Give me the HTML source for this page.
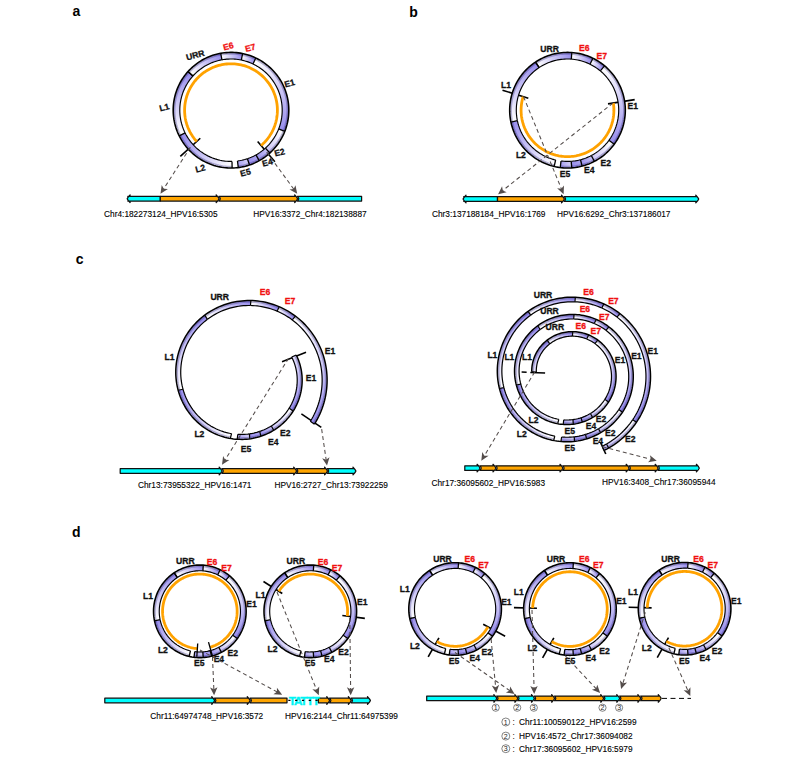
<!DOCTYPE html>
<html><head><meta charset="utf-8"><style>
html,body{margin:0;padding:0;background:#fff;}
svg{display:block;font-family:"Liberation Sans",sans-serif;}
</style></head><body>
<svg width="799" height="771" viewBox="0 0 799 771">
<defs><linearGradient id="g1" gradientUnits="userSpaceOnUse" x1="190.45" y1="73.78" x2="221.33" y2="56.56"><stop offset="0" stop-color="#ffffff"/><stop offset="1" stop-color="#988eec"/></linearGradient>
<linearGradient id="g2" gradientUnits="userSpaceOnUse" x1="221.33" y1="56.56" x2="241.96" y2="56.81"><stop offset="0" stop-color="#ffffff"/><stop offset="1" stop-color="#988eec"/></linearGradient>
<linearGradient id="g3" gradientUnits="userSpaceOnUse" x1="241.96" y1="56.81" x2="254.38" y2="60.97"><stop offset="0" stop-color="#ffffff"/><stop offset="1" stop-color="#988eec"/></linearGradient>
<linearGradient id="g4" gradientUnits="userSpaceOnUse" x1="254.38" y1="60.97" x2="281.71" y2="130.16"><stop offset="0" stop-color="#ffffff"/><stop offset="1" stop-color="#988eec"/></linearGradient>
<linearGradient id="g5" gradientUnits="userSpaceOnUse" x1="281.71" y1="130.16" x2="267.64" y2="150.55"><stop offset="0" stop-color="#ffffff"/><stop offset="1" stop-color="#ccc6f6"/></linearGradient>
<linearGradient id="g6" gradientUnits="userSpaceOnUse" x1="267.64" y1="150.55" x2="257.56" y2="157.79"><stop offset="0" stop-color="#c6c1f5"/><stop offset="1" stop-color="#9d94ed"/></linearGradient>
<linearGradient id="g7" gradientUnits="userSpaceOnUse" x1="257.56" y1="157.79" x2="248.47" y2="161.83"><stop offset="0" stop-color="#ada5f0"/><stop offset="1" stop-color="#988eec"/></linearGradient>
<linearGradient id="g8" gradientUnits="userSpaceOnUse" x1="248.47" y1="161.83" x2="237.89" y2="164.26"><stop offset="0" stop-color="#d6d2f7"/><stop offset="1" stop-color="#a79fef"/></linearGradient>
<linearGradient id="g9" gradientUnits="userSpaceOnUse" x1="232.06" y1="164.69" x2="182.16" y2="134.38"><stop offset="0" stop-color="#ffffff"/><stop offset="1" stop-color="#988eec"/></linearGradient>
<linearGradient id="g10" gradientUnits="userSpaceOnUse" x1="182.16" y1="134.38" x2="190.45" y2="73.78"><stop offset="0" stop-color="#ffffff"/><stop offset="1" stop-color="#988eec"/></linearGradient>
<linearGradient id="g11" gradientUnits="userSpaceOnUse" x1="537.36" y1="64.79" x2="571.57" y2="55.85"><stop offset="0" stop-color="#ffffff"/><stop offset="1" stop-color="#988eec"/></linearGradient>
<linearGradient id="g12" gradientUnits="userSpaceOnUse" x1="571.57" y1="55.85" x2="591.47" y2="61.26"><stop offset="0" stop-color="#ffffff"/><stop offset="1" stop-color="#988eec"/></linearGradient>
<linearGradient id="g13" gradientUnits="userSpaceOnUse" x1="591.47" y1="61.26" x2="602.46" y2="68.39"><stop offset="0" stop-color="#ffffff"/><stop offset="1" stop-color="#988eec"/></linearGradient>
<linearGradient id="g14" gradientUnits="userSpaceOnUse" x1="602.46" y1="68.39" x2="611.6" y2="142.22"><stop offset="0" stop-color="#ffffff"/><stop offset="1" stop-color="#988eec"/></linearGradient>
<linearGradient id="g15" gradientUnits="userSpaceOnUse" x1="611.6" y1="142.22" x2="592.87" y2="158.44"><stop offset="0" stop-color="#ffffff"/><stop offset="1" stop-color="#ccc6f6"/></linearGradient>
<linearGradient id="g16" gradientUnits="userSpaceOnUse" x1="592.87" y1="158.44" x2="581.3" y2="162.92"><stop offset="0" stop-color="#c6c1f5"/><stop offset="1" stop-color="#9d94ed"/></linearGradient>
<linearGradient id="g17" gradientUnits="userSpaceOnUse" x1="581.3" y1="162.92" x2="571.48" y2="164.55"><stop offset="0" stop-color="#ada5f0"/><stop offset="1" stop-color="#988eec"/></linearGradient>
<linearGradient id="g18" gradientUnits="userSpaceOnUse" x1="571.48" y1="164.55" x2="560.63" y2="164.27"><stop offset="0" stop-color="#d6d2f7"/><stop offset="1" stop-color="#a79fef"/></linearGradient>
<linearGradient id="g19" gradientUnits="userSpaceOnUse" x1="554.88" y1="163.22" x2="514.16" y2="121.39"><stop offset="0" stop-color="#ffffff"/><stop offset="1" stop-color="#988eec"/></linearGradient>
<linearGradient id="g20" gradientUnits="userSpaceOnUse" x1="514.16" y1="121.39" x2="537.36" y2="64.79"><stop offset="0" stop-color="#ffffff"/><stop offset="1" stop-color="#988eec"/></linearGradient>
<linearGradient id="g21" gradientUnits="userSpaceOnUse" x1="277.82" y1="337.18" x2="291.19" y2="409.59"><stop offset="0" stop-color="#ffffff"/><stop offset="1" stop-color="#988eec"/></linearGradient>
<linearGradient id="g22" gradientUnits="userSpaceOnUse" x1="291.19" y1="409.59" x2="272.5" y2="428.12"><stop offset="0" stop-color="#ffffff"/><stop offset="1" stop-color="#ccc6f6"/></linearGradient>
<linearGradient id="g23" gradientUnits="userSpaceOnUse" x1="272.5" y1="428.12" x2="260.28" y2="433.83"><stop offset="0" stop-color="#c6c1f5"/><stop offset="1" stop-color="#9d94ed"/></linearGradient>
<linearGradient id="g24" gradientUnits="userSpaceOnUse" x1="260.28" y1="433.83" x2="249.61" y2="436.33"><stop offset="0" stop-color="#ada5f0"/><stop offset="1" stop-color="#988eec"/></linearGradient>
<linearGradient id="g25" gradientUnits="userSpaceOnUse" x1="249.61" y1="436.33" x2="237.5" y2="436.8"><stop offset="0" stop-color="#d6d2f7"/><stop offset="1" stop-color="#a79fef"/></linearGradient>
<linearGradient id="g26" gradientUnits="userSpaceOnUse" x1="230.95" y1="436.04" x2="180.59" y2="389.75"><stop offset="0" stop-color="#ffffff"/><stop offset="1" stop-color="#988eec"/></linearGradient>
<linearGradient id="g27" gradientUnits="userSpaceOnUse" x1="180.59" y1="389.75" x2="206.08" y2="317.25"><stop offset="0" stop-color="#ffffff"/><stop offset="1" stop-color="#988eec"/></linearGradient>
<linearGradient id="g28" gradientUnits="userSpaceOnUse" x1="206.08" y1="317.25" x2="250.68" y2="303.03"><stop offset="0" stop-color="#ffffff"/><stop offset="1" stop-color="#988eec"/></linearGradient>
<linearGradient id="g29" gradientUnits="userSpaceOnUse" x1="250.68" y1="303.03" x2="278.14" y2="308.95"><stop offset="0" stop-color="#ffffff"/><stop offset="1" stop-color="#988eec"/></linearGradient>
<linearGradient id="g30" gradientUnits="userSpaceOnUse" x1="278.14" y1="308.95" x2="293.85" y2="318.01"><stop offset="0" stop-color="#ffffff"/><stop offset="1" stop-color="#988eec"/></linearGradient>
<linearGradient id="g31" gradientUnits="userSpaceOnUse" x1="293.85" y1="318.01" x2="311.41" y2="424.27"><stop offset="0" stop-color="#ffffff"/><stop offset="1" stop-color="#988eec"/></linearGradient>
<linearGradient id="g32" gradientUnits="userSpaceOnUse" x1="535.44" y1="380.96" x2="548.49" y2="341.99"><stop offset="0" stop-color="#ffffff"/><stop offset="1" stop-color="#988eec"/></linearGradient>
<linearGradient id="g33" gradientUnits="userSpaceOnUse" x1="548.49" y1="341.99" x2="572.58" y2="333.92"><stop offset="0" stop-color="#ffffff"/><stop offset="1" stop-color="#988eec"/></linearGradient>
<linearGradient id="g34" gradientUnits="userSpaceOnUse" x1="572.58" y1="333.92" x2="587.65" y2="336.95"><stop offset="0" stop-color="#ffffff"/><stop offset="1" stop-color="#988eec"/></linearGradient>
<linearGradient id="g35" gradientUnits="userSpaceOnUse" x1="587.65" y1="336.95" x2="596.35" y2="341.81"><stop offset="0" stop-color="#ffffff"/><stop offset="1" stop-color="#988eec"/></linearGradient>
<linearGradient id="g36" gradientUnits="userSpaceOnUse" x1="596.35" y1="341.81" x2="606.68" y2="400.72"><stop offset="0" stop-color="#ffffff"/><stop offset="1" stop-color="#988eec"/></linearGradient>
<linearGradient id="g37" gradientUnits="userSpaceOnUse" x1="606.68" y1="400.72" x2="591.51" y2="415.47"><stop offset="0" stop-color="#ffffff"/><stop offset="1" stop-color="#ccc6f6"/></linearGradient>
<linearGradient id="g38" gradientUnits="userSpaceOnUse" x1="591.51" y1="415.47" x2="581.68" y2="419.95"><stop offset="0" stop-color="#c6c1f5"/><stop offset="1" stop-color="#9d94ed"/></linearGradient>
<linearGradient id="g39" gradientUnits="userSpaceOnUse" x1="581.68" y1="419.95" x2="573.12" y2="421.88"><stop offset="0" stop-color="#ada5f0"/><stop offset="1" stop-color="#988eec"/></linearGradient>
<linearGradient id="g40" gradientUnits="userSpaceOnUse" x1="573.12" y1="421.88" x2="563.45" y2="422.17"><stop offset="0" stop-color="#d6d2f7"/><stop offset="1" stop-color="#a79fef"/></linearGradient>
<linearGradient id="g41" gradientUnits="userSpaceOnUse" x1="558.24" y1="421.52" x2="518.56" y2="384.5"><stop offset="0" stop-color="#ffffff"/><stop offset="1" stop-color="#988eec"/></linearGradient>
<linearGradient id="g42" gradientUnits="userSpaceOnUse" x1="518.56" y1="384.5" x2="538.96" y2="327.62"><stop offset="0" stop-color="#ffffff"/><stop offset="1" stop-color="#988eec"/></linearGradient>
<linearGradient id="g43" gradientUnits="userSpaceOnUse" x1="538.96" y1="327.62" x2="573.87" y2="316.72"><stop offset="0" stop-color="#ffffff"/><stop offset="1" stop-color="#988eec"/></linearGradient>
<linearGradient id="g44" gradientUnits="userSpaceOnUse" x1="573.87" y1="316.72" x2="595.24" y2="321.46"><stop offset="0" stop-color="#ffffff"/><stop offset="1" stop-color="#988eec"/></linearGradient>
<linearGradient id="g45" gradientUnits="userSpaceOnUse" x1="595.24" y1="321.46" x2="607.41" y2="328.58"><stop offset="0" stop-color="#ffffff"/><stop offset="1" stop-color="#988eec"/></linearGradient>
<linearGradient id="g46" gradientUnits="userSpaceOnUse" x1="607.41" y1="328.58" x2="620.63" y2="410.85"><stop offset="0" stop-color="#ffffff"/><stop offset="1" stop-color="#988eec"/></linearGradient>
<linearGradient id="g47" gradientUnits="userSpaceOnUse" x1="620.63" y1="410.85" x2="599.54" y2="430.73"><stop offset="0" stop-color="#ffffff"/><stop offset="1" stop-color="#ccc6f6"/></linearGradient>
<linearGradient id="g48" gradientUnits="userSpaceOnUse" x1="599.54" y1="430.73" x2="586.05" y2="436.63"><stop offset="0" stop-color="#c6c1f5"/><stop offset="1" stop-color="#9d94ed"/></linearGradient>
<linearGradient id="g49" gradientUnits="userSpaceOnUse" x1="586.05" y1="436.63" x2="574.38" y2="439.08"><stop offset="0" stop-color="#ada5f0"/><stop offset="1" stop-color="#988eec"/></linearGradient>
<linearGradient id="g50" gradientUnits="userSpaceOnUse" x1="574.38" y1="439.08" x2="561.28" y2="439.27"><stop offset="0" stop-color="#d6d2f7"/><stop offset="1" stop-color="#a79fef"/></linearGradient>
<linearGradient id="g51" gradientUnits="userSpaceOnUse" x1="554.25" y1="438.29" x2="501.68" y2="388.04"><stop offset="0" stop-color="#ffffff"/><stop offset="1" stop-color="#988eec"/></linearGradient>
<linearGradient id="g52" gradientUnits="userSpaceOnUse" x1="501.68" y1="388.04" x2="529.42" y2="313.25"><stop offset="0" stop-color="#ffffff"/><stop offset="1" stop-color="#988eec"/></linearGradient>
<linearGradient id="g53" gradientUnits="userSpaceOnUse" x1="529.42" y1="313.25" x2="575.16" y2="299.53"><stop offset="0" stop-color="#ffffff"/><stop offset="1" stop-color="#988eec"/></linearGradient>
<linearGradient id="g54" gradientUnits="userSpaceOnUse" x1="575.16" y1="299.53" x2="602.82" y2="305.98"><stop offset="0" stop-color="#ffffff"/><stop offset="1" stop-color="#988eec"/></linearGradient>
<linearGradient id="g55" gradientUnits="userSpaceOnUse" x1="602.82" y1="305.98" x2="618.47" y2="315.35"><stop offset="0" stop-color="#ffffff"/><stop offset="1" stop-color="#988eec"/></linearGradient>
<linearGradient id="g56" gradientUnits="userSpaceOnUse" x1="618.47" y1="315.35" x2="634.59" y2="420.98"><stop offset="0" stop-color="#ffffff"/><stop offset="1" stop-color="#988eec"/></linearGradient>
<linearGradient id="g57" gradientUnits="userSpaceOnUse" x1="634.59" y1="420.98" x2="607.56" y2="445.99"><stop offset="0" stop-color="#ffffff"/><stop offset="1" stop-color="#ccc6f6"/></linearGradient>
<linearGradient id="g58" gradientUnits="userSpaceOnUse" x1="607.56" y1="445.99" x2="590.41" y2="453.32"><stop offset="0" stop-color="#c6c1f5"/><stop offset="1" stop-color="#9d94ed"/></linearGradient>
<linearGradient id="g59" gradientUnits="userSpaceOnUse" x1="175.82" y1="575.15" x2="203.09" y2="568.02"><stop offset="0" stop-color="#ffffff"/><stop offset="1" stop-color="#988eec"/></linearGradient>
<linearGradient id="g60" gradientUnits="userSpaceOnUse" x1="203.09" y1="568.02" x2="218.96" y2="572.33"><stop offset="0" stop-color="#ffffff"/><stop offset="1" stop-color="#988eec"/></linearGradient>
<linearGradient id="g61" gradientUnits="userSpaceOnUse" x1="218.96" y1="572.33" x2="227.72" y2="578.02"><stop offset="0" stop-color="#ffffff"/><stop offset="1" stop-color="#988eec"/></linearGradient>
<linearGradient id="g62" gradientUnits="userSpaceOnUse" x1="227.72" y1="578.02" x2="235.01" y2="636.88"><stop offset="0" stop-color="#ffffff"/><stop offset="1" stop-color="#988eec"/></linearGradient>
<linearGradient id="g63" gradientUnits="userSpaceOnUse" x1="235.01" y1="636.88" x2="220.07" y2="649.81"><stop offset="0" stop-color="#ffffff"/><stop offset="1" stop-color="#ccc6f6"/></linearGradient>
<linearGradient id="g64" gradientUnits="userSpaceOnUse" x1="220.07" y1="649.81" x2="210.85" y2="653.38"><stop offset="0" stop-color="#c6c1f5"/><stop offset="1" stop-color="#9d94ed"/></linearGradient>
<linearGradient id="g65" gradientUnits="userSpaceOnUse" x1="210.85" y1="653.38" x2="203.03" y2="654.68"><stop offset="0" stop-color="#ada5f0"/><stop offset="1" stop-color="#988eec"/></linearGradient>
<linearGradient id="g66" gradientUnits="userSpaceOnUse" x1="203.03" y1="654.68" x2="194.37" y2="654.45"><stop offset="0" stop-color="#d6d2f7"/><stop offset="1" stop-color="#a79fef"/></linearGradient>
<linearGradient id="g67" gradientUnits="userSpaceOnUse" x1="189.79" y1="653.62" x2="157.32" y2="620.27"><stop offset="0" stop-color="#ffffff"/><stop offset="1" stop-color="#988eec"/></linearGradient>
<linearGradient id="g68" gradientUnits="userSpaceOnUse" x1="157.32" y1="620.27" x2="175.82" y2="575.15"><stop offset="0" stop-color="#ffffff"/><stop offset="1" stop-color="#988eec"/></linearGradient>
<linearGradient id="g69" gradientUnits="userSpaceOnUse" x1="286.27" y1="575.15" x2="313.54" y2="568.02"><stop offset="0" stop-color="#ffffff"/><stop offset="1" stop-color="#988eec"/></linearGradient>
<linearGradient id="g70" gradientUnits="userSpaceOnUse" x1="313.54" y1="568.02" x2="329.41" y2="572.33"><stop offset="0" stop-color="#ffffff"/><stop offset="1" stop-color="#988eec"/></linearGradient>
<linearGradient id="g71" gradientUnits="userSpaceOnUse" x1="329.41" y1="572.33" x2="338.17" y2="578.02"><stop offset="0" stop-color="#ffffff"/><stop offset="1" stop-color="#988eec"/></linearGradient>
<linearGradient id="g72" gradientUnits="userSpaceOnUse" x1="338.17" y1="578.02" x2="345.46" y2="636.88"><stop offset="0" stop-color="#ffffff"/><stop offset="1" stop-color="#988eec"/></linearGradient>
<linearGradient id="g73" gradientUnits="userSpaceOnUse" x1="345.46" y1="636.88" x2="330.52" y2="649.81"><stop offset="0" stop-color="#ffffff"/><stop offset="1" stop-color="#ccc6f6"/></linearGradient>
<linearGradient id="g74" gradientUnits="userSpaceOnUse" x1="330.52" y1="649.81" x2="321.3" y2="653.38"><stop offset="0" stop-color="#c6c1f5"/><stop offset="1" stop-color="#9d94ed"/></linearGradient>
<linearGradient id="g75" gradientUnits="userSpaceOnUse" x1="321.3" y1="653.38" x2="313.48" y2="654.68"><stop offset="0" stop-color="#ada5f0"/><stop offset="1" stop-color="#988eec"/></linearGradient>
<linearGradient id="g76" gradientUnits="userSpaceOnUse" x1="313.48" y1="654.68" x2="304.82" y2="654.45"><stop offset="0" stop-color="#d6d2f7"/><stop offset="1" stop-color="#a79fef"/></linearGradient>
<linearGradient id="g77" gradientUnits="userSpaceOnUse" x1="300.24" y1="653.62" x2="267.77" y2="620.27"><stop offset="0" stop-color="#ffffff"/><stop offset="1" stop-color="#988eec"/></linearGradient>
<linearGradient id="g78" gradientUnits="userSpaceOnUse" x1="267.77" y1="620.27" x2="286.27" y2="575.15"><stop offset="0" stop-color="#ffffff"/><stop offset="1" stop-color="#988eec"/></linearGradient>
<linearGradient id="g79" gradientUnits="userSpaceOnUse" x1="431.07" y1="572.8" x2="458.34" y2="565.67"><stop offset="0" stop-color="#ffffff"/><stop offset="1" stop-color="#988eec"/></linearGradient>
<linearGradient id="g80" gradientUnits="userSpaceOnUse" x1="458.34" y1="565.67" x2="474.21" y2="569.98"><stop offset="0" stop-color="#ffffff"/><stop offset="1" stop-color="#988eec"/></linearGradient>
<linearGradient id="g81" gradientUnits="userSpaceOnUse" x1="474.21" y1="569.98" x2="482.97" y2="575.67"><stop offset="0" stop-color="#ffffff"/><stop offset="1" stop-color="#988eec"/></linearGradient>
<linearGradient id="g82" gradientUnits="userSpaceOnUse" x1="482.97" y1="575.67" x2="490.26" y2="634.53"><stop offset="0" stop-color="#ffffff"/><stop offset="1" stop-color="#988eec"/></linearGradient>
<linearGradient id="g83" gradientUnits="userSpaceOnUse" x1="490.26" y1="634.53" x2="475.32" y2="647.46"><stop offset="0" stop-color="#ffffff"/><stop offset="1" stop-color="#ccc6f6"/></linearGradient>
<linearGradient id="g84" gradientUnits="userSpaceOnUse" x1="475.32" y1="647.46" x2="466.1" y2="651.03"><stop offset="0" stop-color="#c6c1f5"/><stop offset="1" stop-color="#9d94ed"/></linearGradient>
<linearGradient id="g85" gradientUnits="userSpaceOnUse" x1="466.1" y1="651.03" x2="458.28" y2="652.33"><stop offset="0" stop-color="#ada5f0"/><stop offset="1" stop-color="#988eec"/></linearGradient>
<linearGradient id="g86" gradientUnits="userSpaceOnUse" x1="458.28" y1="652.33" x2="449.62" y2="652.1"><stop offset="0" stop-color="#d6d2f7"/><stop offset="1" stop-color="#a79fef"/></linearGradient>
<linearGradient id="g87" gradientUnits="userSpaceOnUse" x1="445.04" y1="651.27" x2="412.57" y2="617.92"><stop offset="0" stop-color="#ffffff"/><stop offset="1" stop-color="#988eec"/></linearGradient>
<linearGradient id="g88" gradientUnits="userSpaceOnUse" x1="412.57" y1="617.92" x2="431.07" y2="572.8"><stop offset="0" stop-color="#ffffff"/><stop offset="1" stop-color="#988eec"/></linearGradient>
<linearGradient id="g89" gradientUnits="userSpaceOnUse" x1="545.92" y1="572.85" x2="573.19" y2="565.72"><stop offset="0" stop-color="#ffffff"/><stop offset="1" stop-color="#988eec"/></linearGradient>
<linearGradient id="g90" gradientUnits="userSpaceOnUse" x1="573.19" y1="565.72" x2="589.06" y2="570.03"><stop offset="0" stop-color="#ffffff"/><stop offset="1" stop-color="#988eec"/></linearGradient>
<linearGradient id="g91" gradientUnits="userSpaceOnUse" x1="589.06" y1="570.03" x2="597.82" y2="575.72"><stop offset="0" stop-color="#ffffff"/><stop offset="1" stop-color="#988eec"/></linearGradient>
<linearGradient id="g92" gradientUnits="userSpaceOnUse" x1="597.82" y1="575.72" x2="605.11" y2="634.58"><stop offset="0" stop-color="#ffffff"/><stop offset="1" stop-color="#988eec"/></linearGradient>
<linearGradient id="g93" gradientUnits="userSpaceOnUse" x1="605.11" y1="634.58" x2="590.17" y2="647.51"><stop offset="0" stop-color="#ffffff"/><stop offset="1" stop-color="#ccc6f6"/></linearGradient>
<linearGradient id="g94" gradientUnits="userSpaceOnUse" x1="590.17" y1="647.51" x2="580.95" y2="651.08"><stop offset="0" stop-color="#c6c1f5"/><stop offset="1" stop-color="#9d94ed"/></linearGradient>
<linearGradient id="g95" gradientUnits="userSpaceOnUse" x1="580.95" y1="651.08" x2="573.13" y2="652.38"><stop offset="0" stop-color="#ada5f0"/><stop offset="1" stop-color="#988eec"/></linearGradient>
<linearGradient id="g96" gradientUnits="userSpaceOnUse" x1="573.13" y1="652.38" x2="564.47" y2="652.15"><stop offset="0" stop-color="#d6d2f7"/><stop offset="1" stop-color="#a79fef"/></linearGradient>
<linearGradient id="g97" gradientUnits="userSpaceOnUse" x1="559.89" y1="651.32" x2="527.42" y2="617.97"><stop offset="0" stop-color="#ffffff"/><stop offset="1" stop-color="#988eec"/></linearGradient>
<linearGradient id="g98" gradientUnits="userSpaceOnUse" x1="527.42" y1="617.97" x2="545.92" y2="572.85"><stop offset="0" stop-color="#ffffff"/><stop offset="1" stop-color="#988eec"/></linearGradient>
<linearGradient id="g99" gradientUnits="userSpaceOnUse" x1="660.57" y1="572.55" x2="687.84" y2="565.42"><stop offset="0" stop-color="#ffffff"/><stop offset="1" stop-color="#988eec"/></linearGradient>
<linearGradient id="g100" gradientUnits="userSpaceOnUse" x1="687.84" y1="565.42" x2="703.71" y2="569.73"><stop offset="0" stop-color="#ffffff"/><stop offset="1" stop-color="#988eec"/></linearGradient>
<linearGradient id="g101" gradientUnits="userSpaceOnUse" x1="703.71" y1="569.73" x2="712.47" y2="575.42"><stop offset="0" stop-color="#ffffff"/><stop offset="1" stop-color="#988eec"/></linearGradient>
<linearGradient id="g102" gradientUnits="userSpaceOnUse" x1="712.47" y1="575.42" x2="719.76" y2="634.28"><stop offset="0" stop-color="#ffffff"/><stop offset="1" stop-color="#988eec"/></linearGradient>
<linearGradient id="g103" gradientUnits="userSpaceOnUse" x1="719.76" y1="634.28" x2="704.82" y2="647.21"><stop offset="0" stop-color="#ffffff"/><stop offset="1" stop-color="#ccc6f6"/></linearGradient>
<linearGradient id="g104" gradientUnits="userSpaceOnUse" x1="704.82" y1="647.21" x2="695.6" y2="650.78"><stop offset="0" stop-color="#c6c1f5"/><stop offset="1" stop-color="#9d94ed"/></linearGradient>
<linearGradient id="g105" gradientUnits="userSpaceOnUse" x1="695.6" y1="650.78" x2="687.78" y2="652.08"><stop offset="0" stop-color="#ada5f0"/><stop offset="1" stop-color="#988eec"/></linearGradient>
<linearGradient id="g106" gradientUnits="userSpaceOnUse" x1="687.78" y1="652.08" x2="679.12" y2="651.85"><stop offset="0" stop-color="#d6d2f7"/><stop offset="1" stop-color="#a79fef"/></linearGradient>
<linearGradient id="g107" gradientUnits="userSpaceOnUse" x1="674.54" y1="651.02" x2="642.07" y2="617.67"><stop offset="0" stop-color="#ffffff"/><stop offset="1" stop-color="#988eec"/></linearGradient>
<linearGradient id="g108" gradientUnits="userSpaceOnUse" x1="642.07" y1="617.67" x2="660.57" y2="572.55"><stop offset="0" stop-color="#ffffff"/><stop offset="1" stop-color="#988eec"/></linearGradient></defs>
<rect width="799" height="771" fill="#fff"/>
<text x="76.5" y="15.8" font-size="14" fill="#000" font-weight="bold" text-anchor="middle">a</text>
<text x="413.5" y="16.9" font-size="14" fill="#000" font-weight="bold" text-anchor="middle">b</text>
<text x="79.7" y="264" font-size="14" fill="#000" font-weight="bold" text-anchor="middle">c</text>
<text x="76.4" y="536.8" font-size="14" fill="#000" font-weight="bold" text-anchor="middle">d</text>
<line x1="200.27" y1="138.24" x2="180.32" y2="156.44" stroke="#000" stroke-width="1.6"/>
<line x1="257.65" y1="141.49" x2="274.89" y2="161.74" stroke="#000" stroke-width="1.6"/>
<path d="M196.72 141.47 L195.66 140.27 L194.64 139.02 L193.66 137.75 L192.73 136.44 L191.84 135.1 L191.01 133.73 L190.22 132.33 L189.47 130.9 L188.78 129.45 L188.14 127.97 L187.55 126.48 L187.01 124.96 L186.53 123.43 L186.1 121.88 L185.72 120.32 L185.39 118.75 L185.13 117.16 L184.91 115.57 L184.75 113.97 L184.65 112.36 L184.6 110.76 L184.61 109.15 L184.68 107.54 L184.8 105.94 L184.97 104.34 L185.2 102.75 L185.49 101.17 L185.83 99.6 L186.22 98.04 L186.67 96.5 L187.17 94.97 L187.72 93.46 L188.33 91.97 L188.99 90.5 L189.7 89.06 L190.45 87.64 L191.26 86.25 L192.11 84.89 L193.01 83.56 L193.96 82.26 L194.95 80.99 L195.98 79.76 L197.06 78.56 L198.17 77.41 L199.33 76.29 L200.52 75.21 L201.75 74.18 L203.02 73.19 L204.32 72.24 L205.65 71.34 L207.01 70.48 L208.4 69.68 L209.82 68.92 L211.26 68.21 L212.72 67.55 L214.21 66.94 L215.72 66.39 L217.25 65.88 L218.79 65.43 L220.35 65.04 L221.92 64.7 L223.5 64.41 L225.09 64.18 L226.69 64 L228.29 63.88 L229.9 63.81 L231.51 63.8 L233.11 63.85 L234.72 63.95 L236.32 64.11 L237.91 64.32 L239.5 64.58 L241.07 64.91 L242.63 65.28 L244.18 65.71 L245.72 66.2 L247.23 66.73 L248.73 67.32 L250.2 67.96 L251.65 68.65 L253.08 69.39 L254.48 70.18 L255.85 71.02 L257.2 71.9 L258.51 72.83 L259.79 73.81 L261.03 74.83 L262.24 75.89 L263.41 76.99 L264.54 78.13 L265.63 79.31 L266.68 80.53 L267.68 81.79 L268.64 83.07 L269.56 84.39 L270.43 85.75 L271.26 87.13 L272.03 88.53 L272.76 89.97 L273.43 91.43 L274.06 92.91 L274.63 94.41 L275.15 95.93 L275.62 97.47 L276.03 99.02 L276.39 100.59 L276.7 102.17 L276.95 103.75 L277.15 105.35 L277.29 106.95 L277.37 108.56 L277.4 110.16 L277.37 111.77 L277.29 113.38 L277.15 114.98 L276.96 116.57 L276.71 118.16 L276.41 119.74 L276.05 121.31 L275.64 122.86 L275.17 124.4 L274.66 125.92 L274.08 127.43 L273.46 128.91 L272.79 130.37 L272.06 131.8 L271.29 133.21 L270.47 134.59 L269.6 135.95 L268.69 137.27 L267.73 138.56 L266.72 139.81 L265.67 141.03 L264.59 142.21 L263.46 143.36 L262.29 144.46 L261.08 145.53" fill="none" stroke="#ffa200" stroke-width="2.8"/>
<path d="M188 71.58 L189.3 70.18 L190.64 68.82 L192.03 67.51 L193.46 66.25 L194.93 65.03 L196.45 63.87 L197.99 62.75 L199.58 61.69 L201.2 60.67 L202.85 59.72 L204.53 58.82 L206.24 57.97 L207.98 57.18 L209.75 56.45 L211.53 55.78 L213.34 55.16 L215.17 54.61 L217.01 54.12 L218.87 53.69 L220.75 53.32 L221.92 59.81 L220.26 60.14 L218.61 60.52 L216.98 60.96 L215.36 61.45 L213.76 61.99 L212.17 62.59 L210.61 63.23 L209.07 63.93 L207.56 64.68 L206.07 65.48 L204.6 66.33 L203.17 67.23 L201.76 68.17 L200.39 69.16 L199.05 70.19 L197.75 71.27 L196.48 72.39 L195.25 73.55 L194.06 74.75 L192.91 75.99Z" fill="url(#g1)"/>
<path d="M192.91 75.99 L194.06 74.75 L195.25 73.55 L196.48 72.39 L197.75 71.27 L199.05 70.19 L200.39 69.16 L201.76 68.17 L203.17 67.23 L204.6 66.33 L206.07 65.48 L207.56 64.68 L209.07 63.93 L210.61 63.23 L212.17 62.59 L213.76 61.99 L215.36 61.45 L216.98 60.96 L218.61 60.52 L220.26 60.14 L221.92 59.81" fill="none" stroke="#000" stroke-width="1.15"/>
<path d="M189.12 72.58 L190.38 71.22 L191.69 69.9 L193.04 68.62 L194.44 67.39 L195.87 66.2 L197.34 65.07 L198.85 63.98 L200.4 62.94 L201.97 61.96 L203.58 61.03 L205.22 60.15 L206.89 59.33 L208.58 58.56 L210.3 57.84 L212.04 57.19 L213.8 56.59 L215.58 56.05 L217.38 55.57 L219.19 55.15 L221.01 54.79" fill="none" stroke="rgba(45,35,120,0.32)" stroke-width="1.5"/>
<path d="M220.75 53.32 L222.55 53.02 L224.37 52.78 L226.2 52.6 L228.03 52.48 L229.86 52.41 L231.69 52.4 L233.53 52.46 L235.36 52.56 L237.19 52.73 L239.01 52.96 L240.82 53.24 L242.62 53.58 L241.29 60.05 L239.7 59.74 L238.09 59.49 L236.48 59.29 L234.86 59.15 L233.24 59.05 L231.62 59 L229.99 59.01 L228.37 59.07 L226.75 59.18 L225.13 59.34 L223.52 59.55 L221.92 59.81Z" fill="url(#g2)"/>
<path d="M221.92 59.81 L223.52 59.55 L225.13 59.34 L226.75 59.18 L228.37 59.07 L229.99 59.01 L231.62 59 L233.24 59.05 L234.86 59.15 L236.48 59.29 L238.09 59.49 L239.7 59.74 L241.29 60.05" fill="none" stroke="#000" stroke-width="1.15"/>
<path d="M221.01 54.79 L222.77 54.5 L224.55 54.27 L226.32 54.09 L228.11 53.97 L229.89 53.91 L231.68 53.9 L233.46 53.95 L235.25 54.06 L237.02 54.22 L238.8 54.44 L240.56 54.72 L242.32 55.05" fill="none" stroke="rgba(45,35,120,0.32)" stroke-width="1.5"/>
<path d="M242.62 53.58 L244.32 53.96 L246.01 54.38 L247.68 54.86 L249.34 55.39 L250.98 55.96 L252.6 56.59 L254.21 57.26 L255.79 57.99 L252.96 63.95 L251.56 63.31 L250.14 62.71 L248.7 62.16 L247.24 61.65 L245.77 61.18 L244.29 60.76 L242.8 60.38 L241.29 60.05Z" fill="url(#g3)"/>
<path d="M241.29 60.05 L242.8 60.38 L244.29 60.76 L245.77 61.18 L247.24 61.65 L248.7 62.16 L250.14 62.71 L251.56 63.31 L252.96 63.95" fill="none" stroke="#000" stroke-width="1.15"/>
<path d="M242.32 55.05 L243.97 55.42 L245.62 55.83 L247.25 56.3 L248.86 56.81 L250.46 57.37 L252.04 57.98 L253.61 58.64 L255.15 59.34" fill="none" stroke="rgba(45,35,120,0.32)" stroke-width="1.5"/>
<path d="M255.79 57.99 L257.52 58.84 L259.22 59.76 L260.89 60.73 L262.52 61.75 L264.12 62.83 L265.68 63.96 L267.21 65.15 L268.69 66.38 L270.13 67.66 L271.53 68.99 L272.89 70.37 L274.19 71.79 L275.45 73.25 L276.66 74.76 L277.82 76.3 L278.92 77.88 L279.97 79.5 L280.97 81.15 L281.91 82.84 L282.8 84.55 L283.62 86.29 L284.39 88.06 L285.1 89.86 L285.75 91.68 L286.34 93.51 L286.87 95.37 L287.33 97.24 L287.73 99.13 L288.07 101.03 L288.34 102.94 L288.55 104.86 L288.7 106.78 L288.78 108.71 L288.8 110.64 L288.75 112.57 L288.64 114.5 L288.46 116.42 L288.22 118.33 L287.92 120.24 L287.55 122.13 L287.12 124.02 L286.63 125.88 L286.08 127.73 L285.46 129.56 L284.79 131.37 L278.64 128.95 L279.24 127.35 L279.79 125.73 L280.28 124.09 L280.72 122.44 L281.1 120.77 L281.42 119.09 L281.69 117.41 L281.9 115.71 L282.06 114.01 L282.16 112.3 L282.2 110.59 L282.18 108.88 L282.11 107.17 L281.98 105.47 L281.79 103.77 L281.55 102.08 L281.25 100.4 L280.9 98.72 L280.49 97.06 L280.02 95.42 L279.5 93.79 L278.92 92.18 L278.3 90.59 L277.62 89.02 L276.88 87.48 L276.1 85.96 L275.26 84.47 L274.38 83.01 L273.45 81.57 L272.47 80.17 L271.44 78.8 L270.37 77.47 L269.26 76.18 L268.1 74.92 L266.9 73.7 L265.67 72.52 L264.39 71.38 L263.07 70.29 L261.72 69.24 L260.34 68.24 L258.92 67.28 L257.47 66.38 L256 65.52 L254.49 64.71 L252.96 63.95Z" fill="url(#g4)"/>
<path d="M252.96 63.95 L254.49 64.71 L256 65.52 L257.47 66.38 L258.92 67.28 L260.34 68.24 L261.72 69.24 L263.07 70.29 L264.39 71.38 L265.67 72.52 L266.9 73.7 L268.1 74.92 L269.26 76.18 L270.37 77.47 L271.44 78.8 L272.47 80.17 L273.45 81.57 L274.38 83.01 L275.26 84.47 L276.1 85.96 L276.88 87.48 L277.62 89.02 L278.3 90.59 L278.92 92.18 L279.5 93.79 L280.02 95.42 L280.49 97.06 L280.9 98.72 L281.25 100.4 L281.55 102.08 L281.79 103.77 L281.98 105.47 L282.11 107.17 L282.18 108.88 L282.2 110.59 L282.16 112.3 L282.06 114.01 L281.9 115.71 L281.69 117.41 L281.42 119.09 L281.1 120.77 L280.72 122.44 L280.28 124.09 L279.79 125.73 L279.24 127.35 L278.64 128.95" fill="none" stroke="#000" stroke-width="1.15"/>
<path d="M255.15 59.34 L256.83 60.18 L258.49 61.07 L260.11 62.01 L261.7 63.01 L263.26 64.06 L264.78 65.16 L266.27 66.32 L267.71 67.52 L269.12 68.77 L270.48 70.06 L271.8 71.4 L273.07 72.79 L274.3 74.21 L275.47 75.68 L276.6 77.18 L277.68 78.72 L278.7 80.3 L279.67 81.91 L280.59 83.55 L281.45 85.22 L282.26 86.92 L283.01 88.64 L283.7 90.39 L284.33 92.16 L284.9 93.95 L285.42 95.76 L285.87 97.58 L286.26 99.42 L286.59 101.27 L286.85 103.13 L287.06 105 L287.2 106.87 L287.28 108.75 L287.3 110.63 L287.25 112.51 L287.14 114.39 L286.97 116.26 L286.74 118.12 L286.44 119.98 L286.09 121.82 L285.67 123.66 L285.19 125.47 L284.65 127.27 L284.05 129.06 L283.39 130.82" fill="none" stroke="rgba(45,35,120,0.32)" stroke-width="1.5"/>
<path d="M284.79 131.37 L284.11 133 L283.39 134.61 L282.62 136.2 L281.8 137.77 L280.93 139.31 L280.02 140.82 L279.06 142.31 L278.06 143.76 L277.01 145.19 L275.92 146.58 L274.79 147.93 L273.61 149.25 L272.4 150.54 L271.14 151.78 L269.85 152.99 L265.42 148.11 L266.56 147.04 L267.67 145.93 L268.75 144.79 L269.79 143.62 L270.79 142.42 L271.76 141.19 L272.68 139.93 L273.57 138.64 L274.42 137.33 L275.23 135.99 L276 134.62 L276.73 133.23 L277.41 131.83 L278.05 130.4 L278.64 128.95Z" fill="url(#g5)"/>
<path d="M278.64 128.95 L278.05 130.4 L277.41 131.83 L276.73 133.23 L276 134.62 L275.23 135.99 L274.42 137.33 L273.57 138.64 L272.68 139.93 L271.76 141.19 L270.79 142.42 L269.79 143.62 L268.75 144.79 L267.67 145.93 L266.56 147.04 L265.42 148.11" fill="none" stroke="#000" stroke-width="1.15"/>
<path d="M283.39 130.82 L282.73 132.41 L282.03 133.98 L281.28 135.53 L280.48 137.05 L279.64 138.55 L278.75 140.03 L277.81 141.47 L276.84 142.89 L275.82 144.28 L274.75 145.63 L273.65 146.95 L272.51 148.24 L271.32 149.49 L270.1 150.71 L268.85 151.88" fill="none" stroke="rgba(45,35,120,0.32)" stroke-width="1.5"/>
<path d="M269.85 152.99 L268.62 154.08 L267.35 155.14 L266.06 156.16 L264.73 157.14 L263.38 158.08 L262 158.98 L260.6 159.85 L259.17 160.67 L255.95 154.91 L257.22 154.18 L258.46 153.41 L259.68 152.61 L260.88 151.78 L262.05 150.91 L263.2 150.01 L264.32 149.07 L265.42 148.11Z" fill="url(#g6)"/>
<path d="M265.42 148.11 L264.32 149.07 L263.2 150.01 L262.05 150.91 L260.88 151.78 L259.68 152.61 L258.46 153.41 L257.22 154.18 L255.95 154.91" fill="none" stroke="#000" stroke-width="1.15"/>
<path d="M268.85 151.88 L267.64 152.94 L266.41 153.97 L265.15 154.96 L263.86 155.92 L262.54 156.84 L261.2 157.72 L259.83 158.56 L258.44 159.36" fill="none" stroke="rgba(45,35,120,0.32)" stroke-width="1.5"/>
<path d="M259.17 160.67 L257.84 161.39 L256.5 162.07 L255.13 162.72 L253.75 163.33 L252.36 163.91 L250.95 164.45 L249.52 164.95 L247.41 158.7 L248.67 158.25 L249.92 157.78 L251.15 157.27 L252.38 156.72 L253.58 156.15 L254.78 155.54 L255.95 154.91Z" fill="url(#g7)"/>
<path d="M255.95 154.91 L254.78 155.54 L253.58 156.15 L252.38 156.72 L251.15 157.27 L249.92 157.78 L248.67 158.25 L247.41 158.7" fill="none" stroke="#000" stroke-width="1.15"/>
<path d="M258.44 159.36 L257.14 160.06 L255.83 160.73 L254.51 161.36 L253.16 161.95 L251.8 162.52 L250.43 163.04 L249.04 163.53" fill="none" stroke="rgba(45,35,120,0.32)" stroke-width="1.5"/>
<path d="M249.52 164.95 L247.96 165.46 L246.37 165.92 L244.78 166.33 L243.17 166.7 L241.56 167.03 L239.93 167.31 L238.3 167.54 L237.47 160.99 L238.91 160.78 L240.35 160.54 L241.78 160.25 L243.21 159.92 L244.62 159.56 L246.02 159.15 L247.41 158.7Z" fill="url(#g8)"/>
<path d="M247.41 158.7 L246.02 159.15 L244.62 159.56 L243.21 159.92 L241.78 160.25 L240.35 160.54 L238.91 160.78 L237.47 160.99" fill="none" stroke="#000" stroke-width="1.15"/>
<path d="M249.04 163.53 L247.52 164.02 L245.97 164.47 L244.42 164.88 L242.86 165.24 L241.28 165.55 L239.7 165.82 L238.11 166.05" fill="none" stroke="rgba(45,35,120,0.32)" stroke-width="1.5"/>
<path d="M232.12 167.99 L230.2 167.99 L228.28 167.94 L226.36 167.81 L224.45 167.63 L222.54 167.38 L220.65 167.07 L218.76 166.69 L216.89 166.25 L215.04 165.75 L213.2 165.19 L211.38 164.57 L209.58 163.89 L207.81 163.14 L206.06 162.34 L204.34 161.49 L202.65 160.57 L200.99 159.6 L199.37 158.58 L197.78 157.5 L196.22 156.37 L194.71 155.19 L193.23 153.96 L191.8 152.68 L190.41 151.35 L189.06 149.98 L187.77 148.56 L186.51 147.1 L185.31 145.6 L184.16 144.07 L183.06 142.49 L182.01 140.88 L181.02 139.23 L180.08 137.56 L179.2 135.85 L185.12 132.92 L185.9 134.43 L186.73 135.92 L187.61 137.38 L188.53 138.8 L189.51 140.2 L190.53 141.56 L191.59 142.89 L192.7 144.18 L193.85 145.44 L195.04 146.65 L196.28 147.83 L197.55 148.96 L198.85 150.05 L200.2 151.1 L201.57 152.1 L202.98 153.05 L204.42 153.96 L205.89 154.82 L207.39 155.63 L208.91 156.39 L210.46 157.1 L212.03 157.76 L213.62 158.36 L215.23 158.91 L216.86 159.41 L218.5 159.85 L220.16 160.24 L221.83 160.57 L223.51 160.85 L225.2 161.07 L226.89 161.23 L228.59 161.34 L230.29 161.4 L231.99 161.39Z" fill="url(#g9)"/>
<path d="M231.99 161.39 L230.29 161.4 L228.59 161.34 L226.89 161.23 L225.2 161.07 L223.51 160.85 L221.83 160.57 L220.16 160.24 L218.5 159.85 L216.86 159.41 L215.23 158.91 L213.62 158.36 L212.03 157.76 L210.46 157.1 L208.91 156.39 L207.39 155.63 L205.89 154.82 L204.42 153.96 L202.98 153.05 L201.57 152.1 L200.2 151.1 L198.85 150.05 L197.55 148.96 L196.28 147.83 L195.04 146.65 L193.85 145.44 L192.7 144.18 L191.59 142.89 L190.53 141.56 L189.51 140.2 L188.53 138.8 L187.61 137.38 L186.73 135.92 L185.9 134.43 L185.12 132.92" fill="none" stroke="#000" stroke-width="1.15"/>
<path d="M232.09 166.49 L230.22 166.49 L228.35 166.44 L226.48 166.32 L224.62 166.14 L222.76 165.89 L220.91 165.59 L219.08 165.22 L217.26 164.8 L215.45 164.31 L213.66 163.76 L211.89 163.16 L210.14 162.49 L208.41 161.77 L206.71 160.99 L205.04 160.16 L203.39 159.26 L201.77 158.32 L200.19 157.32 L198.64 156.27 L197.13 155.17 L195.65 154.02 L194.21 152.82 L192.82 151.57 L191.46 150.28 L190.15 148.95 L188.89 147.57 L187.67 146.15 L186.5 144.69 L185.38 143.19 L184.3 141.65 L183.29 140.08 L182.32 138.48 L181.4 136.85 L180.55 135.18" fill="none" stroke="rgba(45,35,120,0.32)" stroke-width="1.5"/>
<path d="M179.2 135.85 L178.38 134.12 L177.62 132.37 L176.91 130.59 L176.27 128.79 L175.68 126.96 L175.16 125.12 L174.7 123.27 L174.3 121.4 L173.96 119.52 L173.68 117.62 L173.46 115.72 L173.31 113.81 L173.23 111.9 L173.2 109.99 L173.24 108.08 L173.34 106.17 L173.51 104.26 L173.73 102.36 L174.02 100.47 L174.38 98.59 L174.79 96.72 L175.27 94.87 L175.81 93.03 L176.41 91.22 L177.06 89.42 L177.78 87.65 L178.56 85.9 L179.39 84.18 L180.28 82.48 L181.22 80.82 L182.22 79.19 L183.28 77.59 L184.38 76.03 L185.54 74.51 L186.75 73.02 L188 71.58 L192.91 75.99 L191.8 77.27 L190.73 78.58 L189.71 79.93 L188.73 81.31 L187.79 82.73 L186.91 84.17 L186.07 85.65 L185.28 87.15 L184.55 88.67 L183.86 90.22 L183.22 91.79 L182.64 93.38 L182.11 94.99 L181.63 96.62 L181.21 98.26 L180.84 99.92 L180.53 101.58 L180.27 103.26 L180.07 104.94 L179.92 106.63 L179.83 108.32 L179.8 110.01 L179.82 111.71 L179.9 113.4 L180.03 115.09 L180.22 116.77 L180.47 118.45 L180.77 120.12 L181.13 121.78 L181.54 123.42 L182 125.05 L182.52 126.66 L183.09 128.26 L183.71 129.83 L184.39 131.39 L185.12 132.92Z" fill="url(#g10)"/>
<path d="M185.12 132.92 L184.39 131.39 L183.71 129.83 L183.09 128.26 L182.52 126.66 L182 125.05 L181.54 123.42 L181.13 121.78 L180.77 120.12 L180.47 118.45 L180.22 116.77 L180.03 115.09 L179.9 113.4 L179.82 111.71 L179.8 110.01 L179.83 108.32 L179.92 106.63 L180.07 104.94 L180.27 103.26 L180.53 101.58 L180.84 99.92 L181.21 98.26 L181.63 96.62 L182.11 94.99 L182.64 93.38 L183.22 91.79 L183.86 90.22 L184.55 88.67 L185.28 87.15 L186.07 85.65 L186.91 84.17 L187.79 82.73 L188.73 81.31 L189.71 79.93 L190.73 78.58 L191.8 77.27 L192.91 75.99" fill="none" stroke="#000" stroke-width="1.15"/>
<path d="M180.55 135.18 L179.75 133.5 L179 131.79 L178.32 130.06 L177.69 128.3 L177.12 126.53 L176.61 124.74 L176.16 122.93 L175.77 121.11 L175.44 119.27 L175.17 117.43 L174.96 115.58 L174.81 113.72 L174.72 111.86 L174.7 110 L174.74 108.13 L174.84 106.27 L175 104.42 L175.22 102.57 L175.5 100.72 L175.85 98.89 L176.25 97.07 L176.72 95.27 L177.24 93.48 L177.82 91.71 L178.46 89.96 L179.16 88.23 L179.92 86.53 L180.73 84.85 L181.6 83.2 L182.52 81.58 L183.49 79.99 L184.52 78.44 L185.59 76.92 L186.72 75.43 L187.89 73.98 L189.12 72.58" fill="none" stroke="rgba(45,35,120,0.32)" stroke-width="1.5"/>
<line x1="247.41" y1="158.7" x2="249.52" y2="164.95" stroke="#000" stroke-width="1.3"/>
<line x1="265.42" y1="148.11" x2="269.85" y2="152.99" stroke="#000" stroke-width="1.3"/>
<line x1="241.29" y1="60.05" x2="242.62" y2="53.58" stroke="#000" stroke-width="1.3"/>
<line x1="237.47" y1="160.99" x2="238.3" y2="167.54" stroke="#000" stroke-width="1.3"/>
<line x1="278.64" y1="128.95" x2="284.79" y2="131.37" stroke="#000" stroke-width="1.3"/>
<line x1="192.91" y1="75.99" x2="188" y2="71.58" stroke="#000" stroke-width="1.3"/>
<line x1="231.99" y1="161.39" x2="232.12" y2="167.99" stroke="#000" stroke-width="1.3"/>
<line x1="185.12" y1="132.92" x2="179.2" y2="135.85" stroke="#000" stroke-width="1.3"/>
<line x1="221.92" y1="59.81" x2="220.75" y2="53.32" stroke="#000" stroke-width="1.3"/>
<line x1="255.95" y1="154.91" x2="259.17" y2="160.67" stroke="#000" stroke-width="1.3"/>
<line x1="252.96" y1="63.95" x2="255.79" y2="57.99" stroke="#000" stroke-width="1.3"/>
<line x1="192.91" y1="75.99" x2="188" y2="71.58" stroke="#000" stroke-width="1.3"/>
<path d="M188 71.58 L189.36 70.11 L190.77 68.7 L192.22 67.34 L193.73 66.02 L195.27 64.76 L196.86 63.56 L198.49 62.41 L200.16 61.31 L201.87 60.28 L203.61 59.3 L205.38 58.39 L207.18 57.53 L209.02 56.74 L210.87 56.02 L212.76 55.35 L214.66 54.76 L216.58 54.23 L218.52 53.76 L220.48 53.37 L222.45 53.04 L224.43 52.78 L226.41 52.58 L228.4 52.46 L230.4 52.4 L232.39 52.42 L234.39 52.5 L236.38 52.65 L238.36 52.87 L240.33 53.16 L242.3 53.51 L244.25 53.94 L246.18 54.43 L248.1 54.99 L249.99 55.61 L251.87 56.3 L253.71 57.05 L255.54 57.87 L257.33 58.74 L259.09 59.68 L260.81 60.68 L262.51 61.74 L264.16 62.86 L265.77 64.03 L267.35 65.26 L268.88 66.54 L270.36 67.87 L271.8 69.26 L273.19 70.69 L274.53 72.17 L275.81 73.69 L277.05 75.26 L278.22 76.87 L279.35 78.52 L280.41 80.21 L281.42 81.93 L282.36 83.69 L283.25 85.48 L284.07 87.3 L284.83 89.14 L285.52 91.01 L286.15 92.91 L286.72 94.82 L287.21 96.75 L287.64 98.7 L288.01 100.66 L288.3 102.64 L288.53 104.62 L288.69 106.61 L288.78 108.6 L288.8 110.6 L288.75 112.59 L288.63 114.58 L288.45 116.57 L288.19 118.55 L287.87 120.52 L287.48 122.47 L287.02 124.42 L286.5 126.34 L285.91 128.25 L285.25 130.13 L284.53 131.99 L283.75 133.83 L282.9 135.63 L281.99 137.41 L281.02 139.16 L280 140.86 L278.91 142.54 L277.76 144.17 L276.56 145.77 L275.31 147.32 L274 148.82 L272.64 150.29 L271.23 151.7 L269.78 153.06 L268.27 154.38 L266.73 155.64 L265.14 156.84 L263.51 157.99 L261.84 159.09 L260.13 160.12 L258.39 161.1 L256.62 162.01 L254.82 162.87 L252.98 163.66 L251.13 164.38 L249.24 165.05 L247.34 165.64 L245.42 166.17 L243.48 166.64 L241.52 167.03 L239.55 167.36 L237.57 167.62 L235.59 167.82 L233.6 167.94 L231.6 168 L229.61 167.98 L227.61 167.9 L225.62 167.75 L223.64 167.53 L221.67 167.24 L219.7 166.89 L217.75 166.46 L215.82 165.97 L213.9 165.41 L212.01 164.79 L210.13 164.1 L208.29 163.35 L206.46 162.53 L204.67 161.66 L202.91 160.72 L201.19 159.72 L199.49 158.66 L197.84 157.54 L196.23 156.37 L194.65 155.14 L193.12 153.86 L191.64 152.53 L190.2 151.14 L188.81 149.71 L187.47 148.23 L186.19 146.71 L184.95 145.14 L183.78 143.53 L182.65 141.88 L181.59 140.19 L180.58 138.47 L179.64 136.71 L178.75 134.92 L177.93 133.1 L177.17 131.26 L176.48 129.39 L175.85 127.49 L175.28 125.58 L174.79 123.65 L174.36 121.7 L173.99 119.74 L173.7 117.76 L173.47 115.78 L173.31 113.79 L173.22 111.8 L173.2 109.8 L173.25 107.81 L173.37 105.82 L173.55 103.83 L173.81 101.85 L174.13 99.88 L174.52 97.93 L174.98 95.98 L175.5 94.06 L176.09 92.15 L176.75 90.27 L177.47 88.41 L178.25 86.57 L179.1 84.77 L180.01 82.99 L180.98 81.24 L182 79.54 L183.09 77.86 L184.24 76.23 L185.44 74.63 L186.69 73.08 L188 71.58" fill="none" stroke="#000" stroke-width="1.6"/>
<text x="196" y="58.1" font-size="8.6" fill="#111" font-weight="bold" text-anchor="middle" transform="rotate(-14.5 196 58.1)" stroke="#111" stroke-width="0.3">URR</text>
<text x="229" y="49.1" font-size="8.6" fill="#f01010" font-weight="bold" text-anchor="middle" transform="rotate(-14.5 229 49.1)" stroke="#f01010" stroke-width="0.3">E6</text>
<text x="251" y="50.7" font-size="8.6" fill="#f01010" font-weight="bold" text-anchor="middle" transform="rotate(-14.5 251 50.7)" stroke="#f01010" stroke-width="0.3">E7</text>
<text x="290.3" y="86.2" font-size="8.6" fill="#111" font-weight="bold" text-anchor="middle" transform="rotate(-14.5 290.3 86.2)" stroke="#111" stroke-width="0.3">E1</text>
<text x="165" y="110.3" font-size="8.6" fill="#111" font-weight="bold" text-anchor="middle" transform="rotate(-14.5 165 110.3)" stroke="#111" stroke-width="0.3">L1</text>
<text x="201" y="171.4" font-size="8.6" fill="#111" font-weight="bold" text-anchor="middle" transform="rotate(-14.5 201 171.4)" stroke="#111" stroke-width="0.3">L2</text>
<text x="246.2" y="175.4" font-size="8.6" fill="#111" font-weight="bold" text-anchor="middle" transform="rotate(-14.5 246.2 175.4)" stroke="#111" stroke-width="0.3">E5</text>
<text x="268.2" y="165.4" font-size="8.6" fill="#111" font-weight="bold" text-anchor="middle" transform="rotate(-14.5 268.2 165.4)" stroke="#111" stroke-width="0.3">E4</text>
<text x="280.3" y="155.3" font-size="8.6" fill="#111" font-weight="bold" text-anchor="middle" transform="rotate(-14.5 280.3 155.3)" stroke="#111" stroke-width="0.3">E2</text>
<path d="M127.8 196.4 L160.3 196.4 L160.3 201 L127.8 201 L129.8 201 L130.1 202.5 Q127.6 199.9 127.2 198.7 Q127.6 197.5 130.1 194.9 L129.8 196.4Z" fill="#00ffff" stroke="#111" stroke-width="1.25" stroke-linejoin="round"/>
<path d="M160.3 196.4 L216.5 196.4 L216.2 194.9 Q218.7 197.5 219.1 198.7 Q218.7 199.9 216.2 202.5 L216.5 201 L160.3 201Z" fill="#ffa500" stroke="#111" stroke-width="1.25" stroke-linejoin="round"/>
<path d="M218.9 196.4 L295 196.4 L294.7 194.9 Q297.2 197.5 297.6 198.7 Q297.2 199.9 294.7 202.5 L295 201 L218.9 201 Q220.1 200.2 220.3 198.7 Q220.1 197.2 218.9 196.4Z" fill="#ffa500" stroke="#111" stroke-width="1.25" stroke-linejoin="round"/>
<path d="M297.4 196.4 L361.6 196.4 L361.6 201 L297.4 201 Q298.6 200.2 298.8 198.7 Q298.6 197.2 297.4 196.4Z" fill="#00ffff" stroke="#111" stroke-width="1.25" stroke-linejoin="round"/>
<line x1="190.37" y1="147.27" x2="163.47" y2="189.17" stroke="#544d4b" stroke-width="1.05" stroke-dasharray="4 3"/>
<path d="M160.5 193.8 L161.71 185.07 L163.74 188.75 L167.94 189.07Z" fill="#544d4b"/>
<line x1="266.66" y1="152.07" x2="293.95" y2="189.36" stroke="#544d4b" stroke-width="1.05" stroke-dasharray="4 3"/>
<path d="M297.2 193.8 L289.49 189.53 L293.66 188.96 L295.46 185.16Z" fill="#544d4b"/>
<text x="104.1" y="217" font-size="8.3" fill="#000" font-weight="normal" text-anchor="start" stroke="#000" stroke-width="0.12">Chr4:182273124_HPV16:5305</text>
<text x="366.7" y="216.5" font-size="8.3" fill="#000" font-weight="normal" text-anchor="end" stroke="#000" stroke-width="0.12">HPV16:3372_Chr4:182138887</text>
<line x1="608" y1="103.84" x2="634.68" y2="99.65" stroke="#000" stroke-width="1.6"/>
<line x1="528.31" y1="98.16" x2="502.5" y2="90.23" stroke="#000" stroke-width="1.6"/>
<path d="M613.34 103 L613.56 104.57 L613.72 106.15 L613.83 107.74 L613.89 109.33 L613.89 110.91 L613.84 112.5 L613.74 114.09 L613.58 115.67 L613.36 117.24 L613.09 118.81 L612.77 120.36 L612.4 121.91 L611.97 123.44 L611.49 124.95 L610.96 126.45 L610.38 127.93 L609.75 129.39 L609.07 130.82 L608.34 132.23 L607.56 133.62 L606.73 134.98 L605.86 136.3 L604.94 137.6 L603.98 138.87 L602.98 140.1 L601.94 141.3 L600.85 142.46 L599.73 143.58 L598.57 144.67 L597.37 145.71 L596.13 146.71 L594.87 147.67 L593.57 148.58 L592.24 149.45 L590.88 150.28 L589.5 151.06 L588.08 151.78 L586.65 152.46 L585.19 153.1 L583.71 153.68 L582.21 154.21 L580.7 154.68 L579.17 155.11 L577.62 155.48 L576.07 155.8 L574.5 156.07 L572.93 156.28 L571.35 156.44 L569.76 156.54 L568.17 156.6 L566.58 156.59 L565 156.53 L563.41 156.42 L561.83 156.25 L560.26 156.03 L558.69 155.76 L557.14 155.43 L555.6 155.05 L554.07 154.61 L552.55 154.13 L551.06 153.59 L549.58 153 L548.13 152.36 L546.7 151.67 L545.29 150.94 L543.91 150.15 L542.55 149.32 L541.23 148.45 L539.93 147.52 L538.67 146.56 L537.44 145.55 L536.25 144.5 L535.1 143.41 L533.98 142.28 L532.9 141.12 L531.86 139.91 L530.86 138.67 L529.91 137.4 L529 136.1 L528.14 134.77 L527.32 133.41 L526.55 132.02 L525.83 130.6 L525.15 129.16 L524.53 127.7 L523.95 126.22 L523.43 124.72 L522.96 123.2 L522.54 121.67 L522.17 120.12 L521.86 118.57 L521.6 117 L521.4 115.42 L521.24 113.84 L521.15 112.26 L521.1 110.67 L521.11 109.08 L521.18 107.49 L521.3 105.91 L521.47 104.33 L521.7 102.76 L521.98 101.19 L522.32 99.64 L522.71 98.1 L523.15 96.57" fill="none" stroke="#ffa200" stroke-width="2.8"/>
<path d="M535.54 62.04 L537.15 61.01 L538.79 60.04 L540.46 59.11 L542.16 58.25 L543.89 57.44 L545.65 56.69 L547.43 56 L549.23 55.36 L551.05 54.79 L552.89 54.28 L554.74 53.83 L556.61 53.44 L558.49 53.11 L560.38 52.84 L562.28 52.64 L564.18 52.5 L566.09 52.42 L568 52.4 L569.91 52.45 L571.81 52.56 L571.32 59.14 L569.63 59.04 L567.94 59 L566.25 59.02 L564.56 59.08 L562.88 59.21 L561.19 59.39 L559.52 59.63 L557.85 59.92 L556.2 60.26 L554.56 60.66 L552.93 61.12 L551.31 61.63 L549.72 62.19 L548.14 62.8 L546.59 63.47 L545.06 64.18 L543.55 64.95 L542.07 65.76 L540.61 66.63 L539.19 67.54Z" fill="url(#g11)"/>
<path d="M539.19 67.54 L540.61 66.63 L542.07 65.76 L543.55 64.95 L545.06 64.18 L546.59 63.47 L548.14 62.8 L549.72 62.19 L551.31 61.63 L552.93 61.12 L554.56 60.66 L556.2 60.26 L557.85 59.92 L559.52 59.63 L561.19 59.39 L562.88 59.21 L564.56 59.08 L566.25 59.02 L567.94 59 L569.63 59.04 L571.32 59.14" fill="none" stroke="#000" stroke-width="1.15"/>
<path d="M536.37 63.29 L537.94 62.29 L539.53 61.34 L541.16 60.44 L542.82 59.6 L544.51 58.81 L546.21 58.08 L547.95 57.4 L549.7 56.79 L551.48 56.23 L553.27 55.73 L555.07 55.29 L556.89 54.91 L558.72 54.59 L560.57 54.33 L562.42 54.13 L564.27 53.99 L566.13 53.92 L567.99 53.9 L569.85 53.95 L571.7 54.06" fill="none" stroke="rgba(45,35,120,0.32)" stroke-width="1.5"/>
<path d="M571.81 52.56 L573.64 52.73 L575.46 52.95 L577.27 53.23 L579.08 53.57 L580.87 53.97 L582.64 54.42 L584.41 54.93 L586.15 55.49 L587.88 56.11 L589.58 56.78 L591.27 57.51 L592.93 58.29 L590.02 64.22 L588.55 63.53 L587.06 62.88 L585.55 62.29 L584.02 61.74 L582.48 61.24 L580.91 60.79 L579.34 60.39 L577.75 60.04 L576.16 59.74 L574.55 59.49 L572.94 59.29 L571.32 59.14Z" fill="url(#g12)"/>
<path d="M571.32 59.14 L572.94 59.29 L574.55 59.49 L576.16 59.74 L577.75 60.04 L579.34 60.39 L580.91 60.79 L582.48 61.24 L584.02 61.74 L585.55 62.29 L587.06 62.88 L588.55 63.53 L590.02 64.22" fill="none" stroke="#000" stroke-width="1.15"/>
<path d="M571.7 54.06 L573.48 54.22 L575.25 54.44 L577.02 54.71 L578.78 55.04 L580.52 55.43 L582.25 55.87 L583.97 56.36 L585.67 56.91 L587.35 57.51 L589.01 58.17 L590.65 58.88 L592.27 59.64" fill="none" stroke="rgba(45,35,120,0.32)" stroke-width="1.5"/>
<path d="M592.93 58.29 L594.48 59.08 L596 59.92 L597.5 60.8 L598.98 61.72 L600.42 62.69 L601.84 63.71 L603.22 64.76 L604.57 65.86 L600.34 70.92 L599.14 69.95 L597.92 69.01 L596.66 68.12 L595.38 67.26 L594.08 66.44 L592.75 65.66 L591.4 64.92 L590.02 64.22Z" fill="url(#g13)"/>
<path d="M590.02 64.22 L591.4 64.92 L592.75 65.66 L594.08 66.44 L595.38 67.26 L596.66 68.12 L597.92 69.01 L599.14 69.95 L600.34 70.92" fill="none" stroke="#000" stroke-width="1.15"/>
<path d="M592.27 59.64 L593.78 60.41 L595.26 61.22 L596.73 62.08 L598.16 62.98 L599.57 63.93 L600.95 64.91 L602.3 65.94 L603.61 67.01" fill="none" stroke="rgba(45,35,120,0.32)" stroke-width="1.5"/>
<path d="M604.57 65.86 L606.03 67.12 L607.45 68.43 L608.82 69.79 L610.15 71.19 L611.43 72.63 L612.66 74.12 L613.84 75.65 L614.96 77.21 L616.04 78.82 L617.06 80.45 L618.02 82.13 L618.93 83.83 L619.78 85.56 L620.58 87.32 L621.31 89.1 L621.99 90.91 L622.6 92.74 L623.15 94.59 L623.64 96.46 L624.07 98.34 L624.43 100.23 L624.74 102.14 L624.97 104.05 L625.15 105.98 L625.25 107.9 L625.3 109.83 L625.28 111.76 L625.19 113.69 L625.05 115.61 L624.83 117.53 L624.56 119.44 L624.22 121.34 L623.81 123.23 L623.35 125.1 L622.82 126.96 L622.23 128.79 L621.58 130.61 L620.87 132.4 L620.09 134.17 L619.26 135.91 L618.38 137.63 L617.43 139.31 L616.43 140.96 L615.38 142.58 L614.27 144.16 L608.93 140.28 L609.91 138.88 L610.85 137.45 L611.73 135.99 L612.57 134.5 L613.35 132.98 L614.09 131.43 L614.77 129.87 L615.4 128.28 L615.98 126.67 L616.5 125.04 L616.97 123.4 L617.38 121.74 L617.74 120.07 L618.04 118.39 L618.29 116.69 L618.47 114.99 L618.61 113.29 L618.68 111.58 L618.7 109.87 L618.66 108.16 L618.56 106.46 L618.41 104.76 L618.2 103.06 L617.93 101.37 L617.61 99.69 L617.23 98.03 L616.8 96.37 L616.31 94.73 L615.76 93.11 L615.17 91.51 L614.52 89.93 L613.81 88.37 L613.06 86.84 L612.25 85.33 L611.4 83.85 L610.5 82.4 L609.54 80.98 L608.54 79.59 L607.5 78.24 L606.41 76.92 L605.28 75.64 L604.1 74.4 L602.89 73.2 L601.63 72.04 L600.34 70.92Z" fill="url(#g14)"/>
<path d="M600.34 70.92 L601.63 72.04 L602.89 73.2 L604.1 74.4 L605.28 75.64 L606.41 76.92 L607.5 78.24 L608.54 79.59 L609.54 80.98 L610.5 82.4 L611.4 83.85 L612.25 85.33 L613.06 86.84 L613.81 88.37 L614.52 89.93 L615.17 91.51 L615.76 93.11 L616.31 94.73 L616.8 96.37 L617.23 98.03 L617.61 99.69 L617.93 101.37 L618.2 103.06 L618.41 104.76 L618.56 106.46 L618.66 108.16 L618.7 109.87 L618.68 111.58 L618.61 113.29 L618.47 114.99 L618.29 116.69 L618.04 118.39 L617.74 120.07 L617.38 121.74 L616.97 123.4 L616.5 125.04 L615.98 126.67 L615.4 128.28 L614.77 129.87 L614.09 131.43 L613.35 132.98 L612.57 134.5 L611.73 135.99 L610.85 137.45 L609.91 138.88 L608.93 140.28" fill="none" stroke="#000" stroke-width="1.15"/>
<path d="M603.61 67.01 L605.03 68.24 L606.41 69.51 L607.75 70.83 L609.04 72.2 L610.29 73.61 L611.48 75.06 L612.63 76.54 L613.73 78.07 L614.78 79.63 L615.77 81.23 L616.71 82.85 L617.6 84.51 L618.43 86.2 L619.2 87.91 L619.92 89.65 L620.57 91.41 L621.17 93.19 L621.71 94.99 L622.19 96.81 L622.6 98.65 L622.96 100.49 L623.25 102.35 L623.48 104.21 L623.65 106.09 L623.76 107.96 L623.8 109.84 L623.78 111.72 L623.7 113.6 L623.55 115.47 L623.35 117.34 L623.08 119.2 L622.74 121.05 L622.35 122.89 L621.9 124.71 L621.38 126.52 L620.81 128.31 L620.17 130.08 L619.48 131.83 L618.73 133.55 L617.92 135.25 L617.06 136.92 L616.14 138.56 L615.16 140.16 L614.14 141.74 L613.06 143.28" fill="none" stroke="rgba(45,35,120,0.32)" stroke-width="1.5"/>
<path d="M614.27 144.16 L613.21 145.57 L612.11 146.95 L610.97 148.3 L609.78 149.61 L608.56 150.89 L607.29 152.12 L605.99 153.32 L604.66 154.48 L603.28 155.59 L601.88 156.66 L600.44 157.69 L598.98 158.68 L597.48 159.62 L595.95 160.51 L594.4 161.36 L591.33 155.52 L592.71 154.77 L594.06 153.97 L595.38 153.14 L596.68 152.27 L597.95 151.36 L599.2 150.41 L600.41 149.42 L601.6 148.4 L602.75 147.33 L603.87 146.24 L604.95 145.11 L606 143.95 L607.02 142.76 L607.99 141.53 L608.93 140.28Z" fill="url(#g15)"/>
<path d="M608.93 140.28 L607.99 141.53 L607.02 142.76 L606 143.95 L604.95 145.11 L603.87 146.24 L602.75 147.33 L601.6 148.4 L600.41 149.42 L599.2 150.41 L597.95 151.36 L596.68 152.27 L595.38 153.14 L594.06 153.97 L592.71 154.77 L591.33 155.52" fill="none" stroke="#000" stroke-width="1.15"/>
<path d="M613.06 143.28 L612.03 144.65 L610.95 146 L609.84 147.31 L608.68 148.59 L607.49 149.83 L606.26 151.03 L604.99 152.2 L603.69 153.33 L602.36 154.41 L600.99 155.46 L599.59 156.46 L598.16 157.42 L596.7 158.34 L595.22 159.21 L593.7 160.03" fill="none" stroke="rgba(45,35,120,0.32)" stroke-width="1.5"/>
<path d="M594.4 161.36 L592.93 162.1 L591.44 162.81 L589.93 163.47 L588.4 164.09 L586.86 164.66 L585.3 165.19 L583.72 165.68 L582.14 166.12 L580.46 159.73 L581.87 159.34 L583.27 158.91 L584.65 158.44 L586.02 157.93 L587.37 157.39 L588.71 156.8 L590.03 156.18 L591.33 155.52Z" fill="url(#g16)"/>
<path d="M591.33 155.52 L590.03 156.18 L588.71 156.8 L587.37 157.39 L586.02 157.93 L584.65 158.44 L583.27 158.91 L581.87 159.34 L580.46 159.73" fill="none" stroke="#000" stroke-width="1.15"/>
<path d="M593.7 160.03 L592.27 160.76 L590.82 161.44 L589.35 162.09 L587.86 162.69 L586.36 163.25 L584.84 163.76 L583.3 164.24 L581.76 164.67" fill="none" stroke="rgba(45,35,120,0.32)" stroke-width="1.5"/>
<path d="M582.14 166.12 L580.67 166.48 L579.2 166.8 L577.71 167.09 L576.22 167.34 L574.73 167.55 L573.23 167.72 L571.72 167.85 L571.24 161.26 L572.57 161.15 L573.9 161 L575.23 160.81 L576.55 160.59 L577.86 160.34 L579.17 160.05 L580.46 159.73Z" fill="url(#g17)"/>
<path d="M580.46 159.73 L579.17 160.05 L577.86 160.34 L576.55 160.59 L575.23 160.81 L573.9 161 L572.57 161.15 L571.24 161.26" fill="none" stroke="#000" stroke-width="1.15"/>
<path d="M581.76 164.67 L580.33 165.02 L578.89 165.34 L577.45 165.61 L576 165.86 L574.54 166.06 L573.08 166.22 L571.61 166.35" fill="none" stroke="rgba(45,35,120,0.32)" stroke-width="1.5"/>
<path d="M571.72 167.85 L570.08 167.94 L568.43 167.99 L566.79 168 L565.14 167.95 L563.49 167.86 L561.85 167.72 L560.21 167.54 L561.05 160.99 L562.5 161.15 L563.95 161.28 L565.41 161.36 L566.87 161.4 L568.33 161.39 L569.79 161.35 L571.24 161.26Z" fill="url(#g18)"/>
<path d="M571.24 161.26 L569.79 161.35 L568.33 161.39 L566.87 161.4 L565.41 161.36 L563.95 161.28 L562.5 161.15 L561.05 160.99" fill="none" stroke="#000" stroke-width="1.15"/>
<path d="M571.61 166.35 L570.01 166.44 L568.41 166.49 L566.8 166.5 L565.2 166.45 L563.6 166.36 L562 166.23 L560.4 166.05" fill="none" stroke="rgba(45,35,120,0.32)" stroke-width="1.5"/>
<path d="M554.12 166.43 L552.25 165.95 L550.41 165.42 L548.58 164.82 L546.78 164.16 L545 163.44 L543.24 162.66 L541.51 161.83 L539.81 160.93 L538.13 159.98 L536.5 158.98 L534.89 157.92 L533.32 156.81 L531.79 155.65 L530.3 154.44 L528.85 153.18 L527.44 151.87 L526.08 150.52 L524.76 149.12 L523.49 147.67 L522.27 146.19 L521.1 144.67 L519.98 143.11 L518.91 141.51 L517.9 139.88 L516.94 138.21 L516.04 136.51 L515.19 134.79 L514.4 133.04 L513.67 131.26 L513 129.46 L512.39 127.64 L511.84 125.8 L511.36 123.94 L510.93 122.06 L517.39 120.71 L517.77 122.37 L518.2 124.01 L518.69 125.65 L519.23 127.26 L519.82 128.85 L520.47 130.43 L521.16 131.98 L521.91 133.51 L522.71 135.01 L523.56 136.49 L524.46 137.93 L525.41 139.35 L526.4 140.73 L527.44 142.08 L528.52 143.4 L529.64 144.67 L530.81 145.91 L532.02 147.11 L533.26 148.27 L534.55 149.39 L535.87 150.46 L537.23 151.49 L538.62 152.47 L540.04 153.41 L541.49 154.3 L542.97 155.14 L544.48 155.93 L546.01 156.67 L547.57 157.36 L549.14 158 L550.74 158.58 L552.36 159.11 L553.99 159.59 L555.64 160.01Z" fill="url(#g19)"/>
<path d="M555.64 160.01 L553.99 159.59 L552.36 159.11 L550.74 158.58 L549.14 158 L547.57 157.36 L546.01 156.67 L544.48 155.93 L542.97 155.14 L541.49 154.3 L540.04 153.41 L538.62 152.47 L537.23 151.49 L535.87 150.46 L534.55 149.39 L533.26 148.27 L532.02 147.11 L530.81 145.91 L529.64 144.67 L528.52 143.4 L527.44 142.08 L526.4 140.73 L525.41 139.35 L524.46 137.93 L523.56 136.49 L522.71 135.01 L521.91 133.51 L521.16 131.98 L520.47 130.43 L519.82 128.85 L519.23 127.26 L518.69 125.65 L518.2 124.01 L517.77 122.37 L517.39 120.71" fill="none" stroke="#000" stroke-width="1.15"/>
<path d="M554.46 164.97 L552.65 164.51 L550.85 163.98 L549.07 163.4 L547.32 162.76 L545.58 162.06 L543.87 161.3 L542.18 160.49 L540.52 159.62 L538.9 158.69 L537.3 157.72 L535.74 156.69 L534.21 155.6 L532.72 154.47 L531.27 153.29 L529.85 152.06 L528.48 150.79 L527.16 149.47 L525.87 148.11 L524.64 146.7 L523.45 145.26 L522.31 143.77 L521.21 142.25 L520.17 140.7 L519.19 139.11 L518.25 137.48 L517.37 135.83 L516.55 134.15 L515.78 132.44 L515.07 130.71 L514.42 128.96 L513.82 127.18 L513.29 125.39 L512.81 123.58 L512.4 121.75" fill="none" stroke="rgba(45,35,120,0.32)" stroke-width="1.5"/>
<path d="M510.93 122.06 L510.57 120.18 L510.27 118.29 L510.03 116.4 L509.86 114.49 L509.75 112.58 L509.7 110.67 L509.72 108.76 L509.8 106.84 L509.94 104.94 L510.15 103.03 L510.41 101.14 L510.75 99.26 L511.14 97.38 L511.59 95.52 L512.11 93.68 L512.69 91.86 L513.32 90.05 L514.02 88.27 L514.78 86.52 L515.59 84.78 L516.46 83.08 L517.38 81.4 L518.36 79.76 L519.4 78.15 L520.48 76.58 L521.62 75.04 L522.81 73.54 L524.05 72.08 L525.33 70.67 L526.67 69.29 L528.04 67.96 L529.46 66.68 L530.92 65.45 L532.42 64.26 L533.96 63.12 L535.54 62.04 L539.19 67.54 L537.79 68.5 L536.43 69.51 L535.1 70.56 L533.81 71.65 L532.55 72.79 L531.33 73.96 L530.15 75.18 L529.01 76.44 L527.91 77.73 L526.86 79.06 L525.85 80.42 L524.89 81.81 L523.97 83.24 L523.11 84.69 L522.29 86.18 L521.52 87.69 L520.8 89.22 L520.13 90.78 L519.51 92.36 L518.95 93.95 L518.44 95.57 L517.98 97.2 L517.57 98.85 L517.23 100.51 L516.93 102.17 L516.7 103.85 L516.51 105.54 L516.39 107.23 L516.32 108.92 L516.3 110.61 L516.34 112.31 L516.44 114 L516.6 115.69 L516.8 117.37 L517.07 119.04 L517.39 120.71Z" fill="url(#g20)"/>
<path d="M517.39 120.71 L517.07 119.04 L516.8 117.37 L516.6 115.69 L516.44 114 L516.34 112.31 L516.3 110.61 L516.32 108.92 L516.39 107.23 L516.51 105.54 L516.7 103.85 L516.93 102.17 L517.23 100.51 L517.57 98.85 L517.98 97.2 L518.44 95.57 L518.95 93.95 L519.51 92.36 L520.13 90.78 L520.8 89.22 L521.52 87.69 L522.29 86.18 L523.11 84.69 L523.97 83.24 L524.89 81.81 L525.85 80.42 L526.86 79.06 L527.91 77.73 L529.01 76.44 L530.15 75.18 L531.33 73.96 L532.55 72.79 L533.81 71.65 L535.1 70.56 L536.43 69.51 L537.79 68.5 L539.19 67.54" fill="none" stroke="#000" stroke-width="1.15"/>
<path d="M512.4 121.75 L512.05 119.92 L511.75 118.08 L511.52 116.24 L511.36 114.38 L511.25 112.52 L511.2 110.66 L511.22 108.79 L511.3 106.93 L511.43 105.07 L511.63 103.22 L511.9 101.37 L512.22 99.54 L512.6 97.72 L513.04 95.91 L513.55 94.11 L514.11 92.33 L514.73 90.58 L515.41 88.84 L516.14 87.13 L516.94 85.44 L517.78 83.78 L518.68 82.15 L519.64 80.55 L520.65 78.98 L521.71 77.45 L522.81 75.95 L523.97 74.49 L525.18 73.07 L526.43 71.69 L527.73 70.35 L529.07 69.06 L530.45 67.81 L531.87 66.61 L533.33 65.45 L534.83 64.35 L536.37 63.29" fill="none" stroke="rgba(45,35,120,0.32)" stroke-width="1.5"/>
<line x1="555.64" y1="160.01" x2="554.12" y2="166.43" stroke="#000" stroke-width="1.3"/>
<line x1="517.39" y1="120.71" x2="510.93" y2="122.06" stroke="#000" stroke-width="1.3"/>
<line x1="571.32" y1="59.14" x2="571.81" y2="52.56" stroke="#000" stroke-width="1.3"/>
<line x1="580.46" y1="159.73" x2="582.14" y2="166.12" stroke="#000" stroke-width="1.3"/>
<line x1="539.19" y1="67.54" x2="535.54" y2="62.04" stroke="#000" stroke-width="1.3"/>
<line x1="600.34" y1="70.92" x2="604.57" y2="65.86" stroke="#000" stroke-width="1.3"/>
<line x1="571.24" y1="161.26" x2="571.72" y2="167.85" stroke="#000" stroke-width="1.3"/>
<line x1="591.33" y1="155.52" x2="594.4" y2="161.36" stroke="#000" stroke-width="1.3"/>
<line x1="590.02" y1="64.22" x2="592.93" y2="58.29" stroke="#000" stroke-width="1.3"/>
<line x1="561.05" y1="160.99" x2="560.21" y2="167.54" stroke="#000" stroke-width="1.3"/>
<line x1="608.93" y1="140.28" x2="614.27" y2="144.16" stroke="#000" stroke-width="1.3"/>
<line x1="539.19" y1="67.54" x2="535.54" y2="62.04" stroke="#000" stroke-width="1.3"/>
<path d="M535.54 62.04 L537.22 60.97 L538.94 59.95 L540.69 58.99 L542.47 58.1 L544.29 57.27 L546.13 56.5 L547.99 55.79 L549.88 55.15 L551.79 54.57 L553.72 54.07 L555.67 53.62 L557.63 53.25 L559.6 52.94 L561.58 52.7 L563.57 52.53 L565.56 52.43 L567.56 52.4 L569.55 52.44 L571.55 52.54 L573.53 52.72 L575.51 52.96 L577.48 53.27 L579.44 53.65 L581.39 54.09 L583.32 54.61 L585.23 55.19 L587.11 55.83 L588.98 56.54 L590.82 57.31 L592.63 58.15 L594.41 59.05 L596.16 60.01 L597.88 61.03 L599.56 62.1 L601.2 63.24 L602.8 64.43 L604.36 65.68 L605.87 66.97 L607.34 68.32 L608.76 69.72 L610.14 71.17 L611.46 72.67 L612.73 74.21 L613.94 75.79 L615.1 77.41 L616.2 79.08 L617.25 80.78 L618.24 82.51 L619.16 84.28 L620.03 86.08 L620.83 87.9 L621.56 89.76 L622.24 91.64 L622.85 93.54 L623.39 95.46 L623.86 97.39 L624.27 99.35 L624.61 101.31 L624.89 103.29 L625.09 105.28 L625.23 107.27 L625.29 109.26 L625.29 111.26 L625.22 113.25 L625.08 115.24 L624.87 117.22 L624.59 119.2 L624.25 121.17 L623.84 123.12 L623.36 125.06 L622.81 126.97 L622.2 128.87 L621.52 130.75 L620.78 132.6 L619.98 134.43 L619.11 136.23 L618.18 137.99 L617.19 139.72 L616.14 141.42 L615.04 143.08 L613.87 144.7 L612.65 146.28 L611.38 147.82 L610.06 149.31 L608.68 150.76 L607.26 152.16 L605.79 153.5 L604.27 154.8 L602.71 156.04 L601.1 157.23 L599.46 158.36 L597.78 159.43 L596.06 160.45 L594.31 161.41 L592.53 162.3 L590.71 163.13 L588.87 163.9 L587.01 164.61 L585.12 165.25 L583.21 165.83 L581.28 166.33 L579.33 166.78 L577.37 167.15 L575.4 167.46 L573.42 167.7 L571.43 167.87 L569.44 167.97 L567.44 168 L565.45 167.96 L563.45 167.86 L561.47 167.68 L559.49 167.44 L557.52 167.13 L555.56 166.75 L553.61 166.31 L551.68 165.79 L549.77 165.21 L547.89 164.57 L546.02 163.86 L544.18 163.09 L542.37 162.25 L540.59 161.35 L538.84 160.39 L537.12 159.37 L535.44 158.3 L533.8 157.16 L532.2 155.97 L530.64 154.72 L529.13 153.43 L527.66 152.08 L526.24 150.68 L524.86 149.23 L523.54 147.73 L522.27 146.19 L521.06 144.61 L519.9 142.99 L518.8 141.32 L517.75 139.62 L516.76 137.89 L515.84 136.12 L514.97 134.32 L514.17 132.5 L513.44 130.64 L512.76 128.76 L512.15 126.86 L511.61 124.94 L511.14 123.01 L510.73 121.05 L510.39 119.09 L510.11 117.11 L509.91 115.12 L509.77 113.13 L509.71 111.14 L509.71 109.14 L509.78 107.15 L509.92 105.16 L510.13 103.18 L510.41 101.2 L510.75 99.23 L511.16 97.28 L511.64 95.34 L512.19 93.43 L512.8 91.53 L513.48 89.65 L514.22 87.8 L515.02 85.97 L515.89 84.17 L516.82 82.41 L517.81 80.68 L518.86 78.98 L519.96 77.32 L521.13 75.7 L522.35 74.12 L523.62 72.58 L524.94 71.09 L526.32 69.64 L527.74 68.24 L529.21 66.9 L530.73 65.6 L532.29 64.36 L533.9 63.17 L535.54 62.04" fill="none" stroke="#000" stroke-width="1.6"/>
<text x="549.6" y="52.1" font-size="8.6" fill="#111" font-weight="bold" text-anchor="middle" stroke="#111" stroke-width="0.3">URR</text>
<text x="584.2" y="51.1" font-size="8.6" fill="#f01010" font-weight="bold" text-anchor="middle" stroke="#f01010" stroke-width="0.3">E6</text>
<text x="601.7" y="59.1" font-size="8.6" fill="#f01010" font-weight="bold" text-anchor="middle" stroke="#f01010" stroke-width="0.3">E7</text>
<text x="506" y="88.4" font-size="8.6" fill="#111" font-weight="bold" text-anchor="middle" stroke="#111" stroke-width="0.3">L1</text>
<text x="632.8" y="109.2" font-size="8.6" fill="#111" font-weight="bold" text-anchor="middle" stroke="#111" stroke-width="0.3">E1</text>
<text x="520.9" y="158.1" font-size="8.6" fill="#111" font-weight="bold" text-anchor="middle" stroke="#111" stroke-width="0.3">L2</text>
<text x="565.1" y="176.9" font-size="8.6" fill="#111" font-weight="bold" text-anchor="middle" stroke="#111" stroke-width="0.3">E5</text>
<text x="589.2" y="172.9" font-size="8.6" fill="#111" font-weight="bold" text-anchor="middle" stroke="#111" stroke-width="0.3">E4</text>
<text x="605.7" y="165.9" font-size="8.6" fill="#111" font-weight="bold" text-anchor="middle" stroke="#111" stroke-width="0.3">E2</text>
<path d="M463.7 196.7 L497.5 196.7 L497.5 201.3 L463.7 201.3 L465.7 201.3 L466 202.8 Q463.5 200.2 463.1 199 Q463.5 197.8 466 195.2 L465.7 196.7Z" fill="#00ffff" stroke="#111" stroke-width="1.25" stroke-linejoin="round"/>
<path d="M497.5 196.7 L561.8 196.7 L561.5 195.2 Q564 197.8 564.4 199 Q564 200.2 561.5 202.8 L561.8 201.3 L497.5 201.3Z" fill="#ffa500" stroke="#111" stroke-width="1.25" stroke-linejoin="round"/>
<path d="M564.2 196.7 L696.1 196.7 L695.8 195.2 Q698.3 197.8 698.7 199 Q698.3 200.2 695.8 202.8 L696.1 201.3 L564.2 201.3 Q565.4 200.5 565.6 199 Q565.4 197.5 564.2 196.7Z" fill="#00ffff" stroke="#111" stroke-width="1.25" stroke-linejoin="round"/>
<line x1="612.94" y1="103.06" x2="502.41" y2="190.78" stroke="#544d4b" stroke-width="1.05" stroke-dasharray="4 3"/>
<path d="M498.1 194.2 L502.07 186.33 L502.8 190.47 L506.67 192.13Z" fill="#544d4b"/>
<line x1="523.53" y1="96.69" x2="561.51" y2="189.11" stroke="#544d4b" stroke-width="1.05" stroke-dasharray="4 3"/>
<path d="M563.6 194.2 L557.14 188.21 L561.32 188.65 L563.98 185.39Z" fill="#544d4b"/>
<text x="432" y="217" font-size="8.3" fill="#000" font-weight="normal" text-anchor="start" stroke="#000" stroke-width="0.12">Chr3:137188184_HPV16:1769</text>
<text x="557" y="217.1" font-size="8.3" fill="#000" font-weight="normal" text-anchor="start" stroke="#000" stroke-width="0.12">HPV16:6292_Chr3:137186017</text>
<line x1="282.04" y1="361.69" x2="306.05" y2="352.23" stroke="#000" stroke-width="1.6"/>
<line x1="301.39" y1="413.96" x2="321.31" y2="427.35" stroke="#000" stroke-width="1.6"/>
<path d="M296.25 355.05 L297.04 356.7 L297.78 358.38 L298.46 360.08 L299.09 361.81 L299.66 363.56 L300.18 365.33 L300.63 367.13 L301.03 368.94 L301.37 370.77 L301.65 372.61 L301.87 374.47 L302.02 376.34 L302.12 378.21 L302.15 380.09 L302.13 381.98 L302.03 383.87 L301.88 385.76 L301.66 387.64 L301.38 389.53 L301.04 391.4 L300.63 393.27 L300.17 395.13 L299.64 396.97 L299.04 398.81 L298.39 400.62 L297.67 402.42 L296.9 404.19 L296.06 405.95 L295.16 407.67 L294.21 409.37 L293.2 411.05 L289.19 408.14 L290.11 406.6 L290.98 405.04 L291.79 403.45 L292.54 401.84 L293.24 400.2 L293.89 398.56 L294.48 396.89 L295.01 395.21 L295.49 393.52 L295.9 391.81 L296.26 390.1 L296.57 388.38 L296.81 386.66 L297 384.93 L297.13 383.21 L297.2 381.48 L297.22 379.76 L297.17 378.04 L297.07 376.32 L296.92 374.62 L296.71 372.93 L296.44 371.25 L296.12 369.58 L295.75 367.93 L295.32 366.29 L294.84 364.68 L294.31 363.08 L293.72 361.51 L293.09 359.96 L292.41 358.44 L291.67 356.95Z" fill="url(#g21)"/>
<path d="M291.67 356.95 L292.41 358.44 L293.09 359.96 L293.72 361.51 L294.31 363.08 L294.84 364.68 L295.32 366.29 L295.75 367.93 L296.12 369.58 L296.44 371.25 L296.71 372.93 L296.92 374.62 L297.07 376.32 L297.17 378.04 L297.22 379.76 L297.2 381.48 L297.13 383.21 L297 384.93 L296.81 386.66 L296.57 388.38 L296.26 390.1 L295.9 391.81 L295.49 393.52 L295.01 395.21 L294.48 396.89 L293.89 398.56 L293.24 400.2 L292.54 401.84 L291.79 403.45 L290.98 405.04 L290.11 406.6 L289.19 408.14" fill="none" stroke="#000" stroke-width="1.2"/>
<path d="M294.86 355.63 L295.63 357.23 L296.36 358.86 L297.02 360.51 L297.64 362.19 L298.2 363.9 L298.7 365.62 L299.15 367.37 L299.54 369.13 L299.88 370.91 L300.15 372.71 L300.37 374.52 L300.52 376.33 L300.62 378.16 L300.66 379.99 L300.63 381.83 L300.55 383.67 L300.4 385.51 L300.19 387.34 L299.92 389.18 L299.59 391.01 L299.2 392.83 L298.75 394.64 L298.23 396.44 L297.66 398.23 L297.03 400 L296.33 401.75 L295.58 403.48 L294.77 405.19 L293.89 406.87 L292.97 408.53 L291.98 410.17" fill="none" stroke="rgba(45,35,120,0.32)" stroke-width="1.5"/>
<path d="M293.2 411.05 L292.2 412.57 L291.16 414.07 L290.08 415.54 L288.94 416.97 L287.76 418.38 L286.54 419.75 L285.27 421.08 L283.95 422.38 L282.6 423.64 L281.2 424.86 L279.77 426.03 L278.29 427.17 L276.78 428.26 L275.24 429.31 L273.66 430.31 L271.35 425.93 L272.8 425 L274.22 424.03 L275.6 423.02 L276.95 421.97 L278.26 420.88 L279.53 419.75 L280.77 418.59 L281.97 417.39 L283.13 416.16 L284.25 414.89 L285.32 413.6 L286.35 412.27 L287.34 410.92 L288.29 409.54 L289.19 408.14Z" fill="url(#g22)"/>
<path d="M289.19 408.14 L288.29 409.54 L287.34 410.92 L286.35 412.27 L285.32 413.6 L284.25 414.89 L283.13 416.16 L281.97 417.39 L280.77 418.59 L279.53 419.75 L278.26 420.88 L276.95 421.97 L275.6 423.02 L274.22 424.03 L272.8 425 L271.35 425.93" fill="none" stroke="#000" stroke-width="1.2"/>
<path d="M291.98 410.17 L291.02 411.65 L290.01 413.12 L288.95 414.55 L287.84 415.95 L286.7 417.32 L285.5 418.66 L284.27 419.96 L282.99 421.23 L281.67 422.46 L280.31 423.65 L278.91 424.8 L277.48 425.91 L276.01 426.98 L274.5 428 L272.96 428.98" fill="none" stroke="rgba(45,35,120,0.32)" stroke-width="1.5"/>
<path d="M273.66 430.31 L272.15 431.2 L270.62 432.05 L269.06 432.86 L267.48 433.62 L265.87 434.34 L264.24 435.01 L262.58 435.64 L260.91 436.22 L259.66 431.43 L261.19 430.89 L262.71 430.3 L264.21 429.68 L265.69 429.01 L267.14 428.3 L268.57 427.55 L269.97 426.76 L271.35 425.93Z" fill="url(#g23)"/>
<path d="M271.35 425.93 L269.97 426.76 L268.57 427.55 L267.14 428.3 L265.69 429.01 L264.21 429.68 L262.71 430.3 L261.19 430.89 L259.66 431.43" fill="none" stroke="#000" stroke-width="1.2"/>
<path d="M272.96 428.98 L271.49 429.85 L270 430.69 L268.48 431.48 L266.93 432.22 L265.36 432.93 L263.77 433.59 L262.16 434.2 L260.53 434.77" fill="none" stroke="rgba(45,35,120,0.32)" stroke-width="1.5"/>
<path d="M260.91 436.22 L259.36 436.71 L257.8 437.16 L256.22 437.57 L254.63 437.94 L253.02 438.27 L251.41 438.56 L249.79 438.8 L249.43 433.87 L250.92 433.63 L252.41 433.36 L253.88 433.05 L255.34 432.7 L256.79 432.32 L258.23 431.89 L259.66 431.43Z" fill="url(#g24)"/>
<path d="M259.66 431.43 L258.23 431.89 L256.79 432.32 L255.34 432.7 L253.88 433.05 L252.41 433.36 L250.92 433.63 L249.43 433.87" fill="none" stroke="#000" stroke-width="1.2"/>
<path d="M260.53 434.77 L259.02 435.25 L257.49 435.69 L255.95 436.1 L254.4 436.46 L252.84 436.78 L251.26 437.07 L249.68 437.31" fill="none" stroke="rgba(45,35,120,0.32)" stroke-width="1.5"/>
<path d="M249.79 438.8 L248.01 439.02 L246.22 439.19 L244.42 439.31 L242.62 439.37 L240.81 439.39 L239 439.35 L237.19 439.26 L237.81 434.35 L239.48 434.42 L241.15 434.45 L242.82 434.43 L244.48 434.36 L246.14 434.24 L247.79 434.08 L249.43 433.87Z" fill="url(#g25)"/>
<path d="M249.43 433.87 L247.79 434.08 L246.14 434.24 L244.48 434.36 L242.82 434.43 L241.15 434.45 L239.48 434.42 L237.81 434.35" fill="none" stroke="#000" stroke-width="1.2"/>
<path d="M249.68 437.31 L247.94 437.52 L246.19 437.69 L244.44 437.81 L242.68 437.87 L240.91 437.89 L239.15 437.85 L237.38 437.77" fill="none" stroke="rgba(45,35,120,0.32)" stroke-width="1.5"/>
<path d="M230.38 438.45 L228.29 438.05 L226.2 437.58 L224.13 437.04 L222.07 436.43 L220.03 435.75 L218.01 435 L216.01 434.18 L214.03 433.3 L212.09 432.34 L210.17 431.32 L208.28 430.24 L206.42 429.09 L204.61 427.87 L202.83 426.59 L201.09 425.26 L199.39 423.86 L197.73 422.4 L196.13 420.89 L194.57 419.32 L193.06 417.69 L191.6 416.01 L190.2 414.29 L188.85 412.51 L187.56 410.68 L186.33 408.81 L185.17 406.9 L184.06 404.94 L183.02 402.95 L182.04 400.91 L181.13 398.84 L180.28 396.74 L179.51 394.61 L178.8 392.44 L178.17 390.26 L183.02 389.24 L183.61 391.27 L184.28 393.27 L185 395.25 L185.79 397.19 L186.65 399.11 L187.56 400.99 L188.54 402.84 L189.57 404.64 L190.66 406.41 L191.81 408.14 L193.01 409.83 L194.27 411.47 L195.58 413.06 L196.93 414.61 L198.34 416.11 L199.79 417.55 L201.28 418.95 L202.82 420.29 L204.4 421.58 L206.01 422.81 L207.66 423.98 L209.35 425.09 L211.07 426.15 L212.82 427.14 L214.6 428.08 L216.4 428.95 L218.23 429.76 L220.08 430.51 L221.95 431.19 L223.84 431.81 L225.75 432.36 L227.66 432.85 L229.59 433.28 L231.53 433.64Z" fill="url(#g26)"/>
<path d="M231.53 433.64 L229.59 433.28 L227.66 432.85 L225.75 432.36 L223.84 431.81 L221.95 431.19 L220.08 430.51 L218.23 429.76 L216.4 428.95 L214.6 428.08 L212.82 427.14 L211.07 426.15 L209.35 425.09 L207.66 423.98 L206.01 422.81 L204.4 421.58 L202.82 420.29 L201.28 418.95 L199.79 417.55 L198.34 416.11 L196.93 414.61 L195.58 413.06 L194.27 411.47 L193.01 409.83 L191.81 408.14 L190.66 406.41 L189.57 404.64 L188.54 402.84 L187.56 400.99 L186.65 399.11 L185.79 397.19 L185 395.25 L184.28 393.27 L183.61 391.27 L183.02 389.24" fill="none" stroke="#000" stroke-width="1.2"/>
<path d="M230.73 436.99 L228.68 436.61 L226.64 436.15 L224.62 435.62 L222.61 435.03 L220.61 434.37 L218.64 433.64 L216.68 432.84 L214.75 431.98 L212.85 431.05 L210.97 430.06 L209.12 429 L207.31 427.88 L205.53 426.69 L203.79 425.45 L202.09 424.14 L200.43 422.78 L198.81 421.35 L197.24 419.88 L195.71 418.34 L194.23 416.76 L192.81 415.12 L191.43 413.43 L190.11 411.7 L188.85 409.91 L187.65 408.09 L186.5 406.22 L185.42 404.3 L184.39 402.35 L183.43 400.37 L182.54 398.34 L181.71 396.29 L180.95 394.2 L180.26 392.09 L179.64 389.95" fill="none" stroke="rgba(45,35,120,0.32)" stroke-width="1.5"/>
<path d="M178.17 390.26 L177.61 388.05 L177.13 385.83 L176.72 383.58 L176.38 381.32 L176.11 379.05 L175.93 376.76 L175.81 374.46 L175.78 372.16 L175.82 369.85 L175.94 367.55 L176.13 365.24 L176.4 362.93 L176.75 360.63 L177.18 358.34 L177.68 356.07 L178.26 353.8 L178.91 351.55 L179.64 349.32 L180.45 347.11 L181.33 344.93 L182.28 342.77 L183.31 340.64 L184.41 338.54 L185.58 336.48 L186.82 334.45 L188.13 332.46 L189.5 330.51 L190.95 328.61 L192.46 326.75 L194.03 324.93 L195.66 323.17 L197.36 321.46 L199.11 319.81 L200.92 318.21 L202.79 316.67 L204.71 315.19 L207.45 319.31 L205.66 320.7 L203.93 322.14 L202.24 323.64 L200.62 325.19 L199.04 326.79 L197.52 328.44 L196.07 330.13 L194.67 331.87 L193.33 333.65 L192.05 335.47 L190.84 337.33 L189.7 339.22 L188.61 341.15 L187.6 343.1 L186.65 345.09 L185.77 347.1 L184.96 349.14 L184.22 351.2 L183.55 353.28 L182.95 355.37 L182.42 357.48 L181.96 359.6 L181.58 361.73 L181.26 363.87 L181.02 366.01 L180.85 368.16 L180.75 370.31 L180.72 372.45 L180.76 374.59 L180.88 376.72 L181.06 378.84 L181.31 380.96 L181.64 383.05 L182.03 385.13 L182.49 387.2 L183.02 389.24Z" fill="url(#g27)"/>
<path d="M183.02 389.24 L182.49 387.2 L182.03 385.13 L181.64 383.05 L181.31 380.96 L181.06 378.84 L180.88 376.72 L180.76 374.59 L180.72 372.45 L180.75 370.31 L180.85 368.16 L181.02 366.01 L181.26 363.87 L181.58 361.73 L181.96 359.6 L182.42 357.48 L182.95 355.37 L183.55 353.28 L184.22 351.2 L184.96 349.14 L185.77 347.1 L186.65 345.09 L187.6 343.1 L188.61 341.15 L189.7 339.22 L190.84 337.33 L192.05 335.47 L193.33 333.65 L194.67 331.87 L196.07 330.13 L197.52 328.44 L199.04 326.79 L200.62 325.19 L202.24 323.64 L203.93 322.14 L205.66 320.7 L207.45 319.31" fill="none" stroke="#000" stroke-width="1.2"/>
<path d="M179.64 389.95 L179.09 387.79 L178.61 385.62 L178.21 383.42 L177.87 381.21 L177.61 378.99 L177.43 376.75 L177.31 374.5 L177.28 372.25 L177.31 369.99 L177.43 367.73 L177.61 365.47 L177.88 363.22 L178.21 360.97 L178.63 358.72 L179.12 356.49 L179.68 354.28 L180.32 352.07 L181.03 349.89 L181.82 347.73 L182.67 345.59 L183.61 343.47 L184.61 341.39 L185.68 339.33 L186.82 337.31 L188.04 335.32 L189.32 333.37 L190.66 331.46 L192.07 329.59 L193.55 327.77 L195.09 326 L196.69 324.27 L198.35 322.59 L200.06 320.97 L201.83 319.4 L203.66 317.89 L205.54 316.44" fill="none" stroke="rgba(45,35,120,0.32)" stroke-width="1.5"/>
<path d="M204.71 315.19 L206.68 313.77 L208.7 312.42 L210.76 311.13 L212.87 309.91 L215.02 308.76 L217.22 307.68 L219.45 306.67 L221.72 305.73 L224.02 304.87 L226.36 304.08 L228.72 303.37 L231.11 302.74 L233.52 302.18 L235.96 301.71 L238.41 301.31 L240.88 301 L243.36 300.77 L245.85 300.61 L248.35 300.55 L250.86 300.56 L250.49 305.5 L248.15 305.49 L245.81 305.56 L243.48 305.71 L241.16 305.94 L238.86 306.24 L236.57 306.62 L234.29 307.07 L232.04 307.6 L229.81 308.2 L227.61 308.87 L225.43 309.62 L223.28 310.43 L221.17 311.31 L219.09 312.26 L217.05 313.28 L215.04 314.36 L213.08 315.51 L211.16 316.72 L209.28 317.99 L207.45 319.31Z" fill="url(#g28)"/>
<path d="M207.45 319.31 L209.28 317.99 L211.16 316.72 L213.08 315.51 L215.04 314.36 L217.05 313.28 L219.09 312.26 L221.17 311.31 L223.28 310.43 L225.43 309.62 L227.61 308.87 L229.81 308.2 L232.04 307.6 L234.29 307.07 L236.57 306.62 L238.86 306.24 L241.16 305.94 L243.48 305.71 L245.81 305.56 L248.15 305.49 L250.49 305.5" fill="none" stroke="#000" stroke-width="1.2"/>
<path d="M205.54 316.44 L207.47 315.05 L209.44 313.72 L211.46 312.46 L213.53 311.26 L215.64 310.13 L217.79 309.07 L219.97 308.08 L222.19 307.16 L224.45 306.31 L226.73 305.54 L229.05 304.84 L231.39 304.21 L233.75 303.67 L236.14 303.2 L238.54 302.81 L240.96 302.5 L243.4 302.27 L245.84 302.11 L248.29 302.05 L250.75 302.06" fill="none" stroke="rgba(45,35,120,0.32)" stroke-width="1.5"/>
<path d="M250.86 300.56 L253.27 300.65 L255.68 300.82 L258.09 301.07 L260.49 301.39 L262.89 301.79 L265.27 302.27 L267.64 302.82 L270 303.45 L272.34 304.16 L274.66 304.94 L276.96 305.79 L279.23 306.72 L277.05 311.17 L274.92 310.31 L272.77 309.51 L270.6 308.79 L268.4 308.14 L266.2 307.56 L263.97 307.05 L261.74 306.61 L259.5 306.24 L257.25 305.95 L255 305.73 L252.75 305.58 L250.49 305.5Z" fill="url(#g29)"/>
<path d="M250.49 305.5 L252.75 305.58 L255 305.73 L257.25 305.95 L259.5 306.24 L261.74 306.61 L263.97 307.05 L266.2 307.56 L268.4 308.14 L270.6 308.79 L272.77 309.51 L274.92 310.31 L277.05 311.17" fill="none" stroke="#000" stroke-width="1.2"/>
<path d="M250.75 302.06 L253.11 302.14 L255.48 302.31 L257.84 302.55 L260.19 302.86 L262.54 303.25 L264.88 303.72 L267.2 304.26 L269.52 304.87 L271.81 305.56 L274.09 306.32 L276.34 307.16 L278.57 308.07" fill="none" stroke="rgba(45,35,120,0.32)" stroke-width="1.5"/>
<path d="M279.23 306.72 L281.36 307.67 L283.47 308.69 L285.55 309.77 L287.59 310.91 L289.61 312.12 L291.59 313.39 L293.53 314.72 L295.44 316.11 L292.26 319.91 L290.47 318.61 L288.65 317.37 L286.79 316.19 L284.9 315.06 L282.98 314 L281.03 312.99 L279.05 312.05 L277.05 311.17Z" fill="url(#g30)"/>
<path d="M277.05 311.17 L279.05 312.05 L281.03 312.99 L282.98 314 L284.9 315.06 L286.79 316.19 L288.65 317.37 L290.47 318.61 L292.26 319.91" fill="none" stroke="#000" stroke-width="1.2"/>
<path d="M278.57 308.07 L280.66 309 L282.73 309.99 L284.77 311.05 L286.78 312.17 L288.75 313.35 L290.7 314.6 L292.6 315.9 L294.48 317.26" fill="none" stroke="rgba(45,35,120,0.32)" stroke-width="1.5"/>
<path d="M295.44 316.11 L297.52 317.74 L299.55 319.43 L301.52 321.2 L303.44 323.03 L305.3 324.94 L307.09 326.9 L308.82 328.93 L310.49 331.02 L312.08 333.17 L313.61 335.38 L315.06 337.64 L316.43 339.95 L317.73 342.31 L318.96 344.71 L320.1 347.16 L321.16 349.65 L322.14 352.18 L323.03 354.75 L323.84 357.35 L324.56 359.98 L325.19 362.63 L325.73 365.31 L326.19 368.02 L326.55 370.73 L326.82 373.47 L327 376.22 L327.09 378.97 L327.08 381.73 L326.98 384.5 L326.79 387.26 L326.5 390.02 L326.12 392.78 L325.65 395.52 L325.08 398.25 L324.42 400.96 L323.67 403.66 L322.83 406.33 L321.89 408.98 L320.87 411.6 L319.76 414.18 L318.55 416.73 L317.26 419.24 L315.89 421.72 L314.43 424.14 L310.36 421.33 L311.73 419.04 L313.01 416.71 L314.22 414.34 L315.35 411.93 L316.39 409.5 L317.34 407.03 L318.21 404.54 L319 402.02 L319.7 399.49 L320.31 396.93 L320.84 394.36 L321.27 391.78 L321.62 389.19 L321.88 386.6 L322.06 384 L322.14 381.4 L322.14 378.8 L322.05 376.22 L321.87 373.63 L321.61 371.07 L321.26 368.51 L320.83 365.98 L320.31 363.46 L319.71 360.97 L319.02 358.5 L318.26 356.07 L317.41 353.66 L316.49 351.29 L315.48 348.95 L314.4 346.66 L313.25 344.4 L312.02 342.19 L310.72 340.03 L309.35 337.91 L307.92 335.85 L306.42 333.84 L304.85 331.88 L303.22 329.99 L301.53 328.15 L299.78 326.37 L297.98 324.66 L296.13 323.01 L294.22 321.42 L292.26 319.91Z" fill="url(#g31)"/>
<path d="M292.26 319.91 L294.22 321.42 L296.13 323.01 L297.98 324.66 L299.78 326.37 L301.53 328.15 L303.22 329.99 L304.85 331.88 L306.42 333.84 L307.92 335.85 L309.35 337.91 L310.72 340.03 L312.02 342.19 L313.25 344.4 L314.4 346.66 L315.48 348.95 L316.49 351.29 L317.41 353.66 L318.26 356.07 L319.02 358.5 L319.71 360.97 L320.31 363.46 L320.83 365.98 L321.26 368.51 L321.61 371.07 L321.87 373.63 L322.05 376.22 L322.14 378.8 L322.14 381.4 L322.06 384 L321.88 386.6 L321.62 389.19 L321.27 391.78 L320.84 394.36 L320.31 396.93 L319.7 399.49 L319 402.02 L318.21 404.54 L317.34 407.03 L316.39 409.5 L315.35 411.93 L314.22 414.34 L313.01 416.71 L311.73 419.04 L310.36 421.33" fill="none" stroke="#000" stroke-width="1.2"/>
<path d="M294.48 317.26 L296.52 318.85 L298.51 320.52 L300.45 322.25 L302.33 324.05 L304.16 325.91 L305.92 327.84 L307.62 329.83 L309.25 331.88 L310.82 333.98 L312.32 336.15 L313.74 338.36 L315.1 340.63 L316.37 342.94 L317.58 345.3 L318.7 347.71 L319.74 350.15 L320.7 352.63 L321.58 355.15 L322.38 357.7 L323.09 360.28 L323.71 362.88 L324.25 365.51 L324.69 368.17 L325.05 370.84 L325.32 373.52 L325.5 376.22 L325.59 378.92 L325.58 381.63 L325.49 384.35 L325.3 387.06 L325.02 389.77 L324.65 392.47 L324.19 395.17 L323.64 397.85 L322.99 400.52 L322.26 403.16 L321.43 405.79 L320.52 408.39 L319.51 410.96 L318.42 413.5 L317.24 416.01 L315.98 418.48 L314.63 420.9 L313.19 423.29" fill="none" stroke="rgba(45,35,120,0.32)" stroke-width="1.5"/>
<line x1="231.53" y1="433.64" x2="230.38" y2="438.45" stroke="#000" stroke-width="1.2"/>
<line x1="183.02" y1="389.24" x2="178.17" y2="390.26" stroke="#000" stroke-width="1.2"/>
<line x1="291.67" y1="356.95" x2="296.25" y2="355.05" stroke="#000" stroke-width="1.2"/>
<line x1="277.05" y1="311.17" x2="279.23" y2="306.72" stroke="#000" stroke-width="1.2"/>
<line x1="259.66" y1="431.43" x2="260.91" y2="436.22" stroke="#000" stroke-width="1.2"/>
<line x1="207.45" y1="319.31" x2="204.71" y2="315.19" stroke="#000" stroke-width="1.2"/>
<line x1="310.36" y1="421.33" x2="314.43" y2="424.14" stroke="#000" stroke-width="1.2"/>
<line x1="250.49" y1="305.5" x2="250.86" y2="300.56" stroke="#000" stroke-width="1.2"/>
<line x1="249.43" y1="433.87" x2="249.79" y2="438.8" stroke="#000" stroke-width="1.2"/>
<line x1="292.26" y1="319.91" x2="295.44" y2="316.11" stroke="#000" stroke-width="1.2"/>
<line x1="271.35" y1="425.93" x2="273.66" y2="430.31" stroke="#000" stroke-width="1.2"/>
<line x1="237.81" y1="434.35" x2="237.19" y2="439.26" stroke="#000" stroke-width="1.2"/>
<line x1="289.19" y1="408.14" x2="293.2" y2="411.05" stroke="#000" stroke-width="1.2"/>
<path d="M296.25 355.05 L297.08 356.79 L297.85 358.55 L298.56 360.35 L299.21 362.18 L299.8 364.03 L300.33 365.9 L300.79 367.8 L301.18 369.72 L301.51 371.65 L301.77 373.6 L301.97 375.56 L302.09 377.53 L302.15 379.51 L302.14 381.49 L302.06 383.48 L301.91 385.47 L301.69 387.46 L301.4 389.44 L301.04 391.42 L300.61 393.39 L300.11 395.34 L299.54 397.28 L298.9 399.21 L298.2 401.12 L297.43 403 L296.59 404.86 L295.68 406.7 L294.71 408.51 L293.67 410.28 L292.57 412.02 L291.41 413.73 L290.18 415.4 L288.9 417.03 L287.55 418.62 L286.15 420.16 L284.69 421.66 L283.18 423.11 L281.61 424.51 L279.99 425.85 L278.33 427.15 L276.61 428.38 L274.85 429.56 L273.05 430.68 L271.2 431.74 L269.31 432.73 L267.39 433.66 L265.43 434.53 L263.43 435.32 L261.41 436.05 L259.36 436.71 L257.28 437.3 L255.17 437.82 L253.05 438.27 L250.9 438.64 L248.74 438.94 L246.57 439.16 L244.38 439.31 L242.19 439.38 L239.99 439.37 L237.79 439.29 L235.58 439.13 L233.38 438.9 L231.19 438.59 L229 438.2 L226.82 437.73 L224.65 437.19 L222.5 436.57 L220.37 435.87 L218.26 435.1 L216.17 434.25 L214.11 433.33 L212.08 432.34 L210.08 431.27 L208.11 430.14 L206.18 428.93 L204.29 427.65 L202.44 426.31 L200.64 424.9 L198.88 423.42 L197.17 421.88 L195.51 420.28 L193.91 418.62 L192.36 416.9 L190.87 415.12 L189.44 413.29 L188.07 411.41 L186.76 409.48 L185.52 407.49 L184.35 405.47 L183.24 403.4 L182.21 401.28 L181.25 399.13 L180.36 396.94 L179.55 394.72 L178.81 392.46 L178.15 390.18 L177.57 387.87 L177.07 385.54 L176.65 383.18 L176.31 380.81 L176.06 378.43 L175.88 376.03 L175.79 373.62 L175.79 371.21 L175.86 368.79 L176.03 366.37 L176.27 363.95 L176.6 361.54 L177.02 359.14 L177.52 356.75 L178.1 354.37 L178.77 352.01 L179.52 349.67 L180.36 347.35 L181.27 345.06 L182.27 342.8 L183.34 340.57 L184.5 338.37 L185.73 336.21 L187.04 334.1 L188.43 332.02 L189.89 329.99 L191.42 328.01 L193.02 326.08 L194.7 324.2 L196.44 322.38 L198.24 320.62 L200.11 318.91 L202.04 317.27 L204.04 315.7 L206.08 314.19 L208.19 312.75 L210.34 311.39 L212.55 310.09 L214.81 308.88 L217.11 307.73 L219.45 306.67 L221.83 305.69 L224.25 304.79 L226.7 303.97 L229.19 303.24 L231.7 302.59 L234.24 302.03 L236.81 301.56 L239.39 301.18 L241.99 300.88 L244.6 300.68 L247.22 300.57 L249.85 300.55 L252.48 300.61 L255.12 300.78 L257.75 301.03 L260.37 301.37 L262.99 301.81 L265.6 302.34 L268.19 302.96 L270.76 303.67 L273.31 304.47 L275.83 305.36 L278.33 306.34 L280.79 307.41 L283.22 308.57 L285.62 309.81 L287.97 311.13 L290.28 312.54 L292.54 314.03 L294.76 315.6 L296.92 317.26 L299.03 318.98 L301.07 320.79 L303.06 322.66 L304.99 324.61 L306.85 326.63 L308.64 328.71 L310.36 330.86 L312.01 333.07 L313.58 335.35 L315.08 337.67 L316.5 340.06 L317.83 342.49 L319.08 344.98 L320.25 347.51 L321.33 350.08 L322.32 352.7 L323.22 355.35 L324.03 358.04 L324.75 360.75 L325.38 363.5 L325.9 366.27 L326.34 369.06 L326.67 371.87 L326.91 374.7 L327.05 377.53 L327.1 380.37 L327.04 383.22 L326.88 386.07 L326.63 388.92 L326.27 391.76 L325.82 394.59 L325.27 397.41 L324.62 400.22 L323.87 403 L323.02 405.76 L322.07 408.49 L321.03 411.2 L319.9 413.87 L318.67 416.5 L317.35 419.09 L315.93 421.64 L314.43 424.14" fill="none" stroke="#000" stroke-width="1.5"/>
<text x="219.7" y="300.3" font-size="8.6" fill="#111" font-weight="bold" text-anchor="middle" stroke="#111" stroke-width="0.3">URR</text>
<text x="265.1" y="295.3" font-size="8.6" fill="#f01010" font-weight="bold" text-anchor="middle" stroke="#f01010" stroke-width="0.3">E6</text>
<text x="290" y="304.3" font-size="8.6" fill="#f01010" font-weight="bold" text-anchor="middle" stroke="#f01010" stroke-width="0.3">E7</text>
<text x="169.5" y="360.2" font-size="8.6" fill="#111" font-weight="bold" text-anchor="middle" stroke="#111" stroke-width="0.3">L1</text>
<text x="330" y="354.1" font-size="8.6" fill="#111" font-weight="bold" text-anchor="middle" stroke="#111" stroke-width="0.3">E1</text>
<text x="311.1" y="381.1" font-size="8.6" fill="#111" font-weight="bold" text-anchor="middle" stroke="#111" stroke-width="0.3">E1</text>
<text x="199.4" y="437.2" font-size="8.6" fill="#111" font-weight="bold" text-anchor="middle" stroke="#111" stroke-width="0.3">L2</text>
<text x="246.1" y="451.9" font-size="8.6" fill="#111" font-weight="bold" text-anchor="middle" stroke="#111" stroke-width="0.3">E5</text>
<text x="273.2" y="445.3" font-size="8.6" fill="#111" font-weight="bold" text-anchor="middle" stroke="#111" stroke-width="0.3">E4</text>
<text x="285.2" y="436.2" font-size="8.6" fill="#111" font-weight="bold" text-anchor="middle" stroke="#111" stroke-width="0.3">E2</text>
<path d="M120.2 468.7 L219.5 468.7 L219.2 467.2 Q221.7 469.8 222.1 471 Q221.7 472.2 219.2 474.8 L219.5 473.3 L120.2 473.3Z" fill="#00ffff" stroke="#111" stroke-width="1.25" stroke-linejoin="round"/>
<path d="M221.9 468.7 L294 468.7 L293.7 467.2 Q296.2 469.8 296.6 471 Q296.2 472.2 293.7 474.8 L294 473.3 L221.9 473.3 Q223.1 472.5 223.3 471 Q223.1 469.5 221.9 468.7Z" fill="#ffa500" stroke="#111" stroke-width="1.25" stroke-linejoin="round"/>
<path d="M296.4 468.7 L324.9 468.7 L324.6 467.2 Q327.1 469.8 327.5 471 Q327.1 472.2 324.6 474.8 L324.9 473.3 L296.4 473.3 Q297.6 472.5 297.8 471 Q297.6 469.5 296.4 468.7Z" fill="#ffa500" stroke="#111" stroke-width="1.25" stroke-linejoin="round"/>
<path d="M327.3 468.7 L353.3 468.7 L353 467.2 Q355.5 469.8 355.9 471 Q355.5 472.2 353 474.8 L353.3 473.3 L327.3 473.3 Q328.5 472.5 328.7 471 Q328.5 469.5 327.3 468.7Z" fill="#00ffff" stroke="#111" stroke-width="1.25" stroke-linejoin="round"/>
<line x1="288.62" y1="358.21" x2="224.92" y2="460.14" stroke="#544d4b" stroke-width="1.05" stroke-dasharray="4 3"/>
<path d="M222 464.8 L223.1 456.06 L225.18 459.71 L229.38 459.98Z" fill="#544d4b"/>
<line x1="321.65" y1="429.15" x2="326.2" y2="460.16" stroke="#544d4b" stroke-width="1.05" stroke-dasharray="4 3"/>
<path d="M327 465.6 L322.18 458.22 L326.13 459.66 L329.5 457.15Z" fill="#544d4b"/>
<text x="138" y="487.9" font-size="8.3" fill="#000" font-weight="normal" text-anchor="start" stroke="#000" stroke-width="0.12">Chr13:73955322_HPV16:1471</text>
<text x="387.9" y="487.8" font-size="8.3" fill="#000" font-weight="normal" text-anchor="end" stroke="#000" stroke-width="0.12">HPV16:2727_Chr13:73922259</text>
<line x1="600.44" y1="442.17" x2="605.78" y2="454.02" stroke="#000" stroke-width="1.6"/>
<path d="M531.76 371.81 L531.75 370.55 L531.79 369.28 L531.87 368.01 L532 366.74 L532.16 365.47 L532.37 364.21 L532.63 362.95 L532.92 361.69 L533.26 360.45 L533.64 359.21 L534.06 357.98 L534.53 356.77 L535.03 355.57 L535.58 354.38 L536.17 353.21 L536.79 352.06 L537.46 350.92 L538.17 349.81 L538.91 348.72 L539.7 347.65 L540.52 346.61 L541.37 345.59 L542.27 344.6 L543.19 343.64 L544.16 342.7 L545.15 341.8 L546.18 340.93 L547.23 340.09 L549.75 343.88 L548.82 344.64 L547.91 345.42 L547.04 346.23 L546.19 347.06 L545.38 347.92 L544.59 348.81 L543.84 349.72 L543.12 350.65 L542.44 351.6 L541.79 352.57 L541.17 353.56 L540.59 354.57 L540.04 355.6 L539.53 356.64 L539.06 357.69 L538.62 358.76 L538.22 359.83 L537.86 360.92 L537.53 362.01 L537.24 363.12 L536.99 364.23 L536.78 365.34 L536.61 366.46 L536.47 367.58 L536.37 368.7 L536.31 369.82 L536.29 370.94 L536.3 372.05Z" fill="url(#g32)"/>
<path d="M536.3 372.05 L536.29 370.94 L536.31 369.82 L536.37 368.7 L536.47 367.58 L536.61 366.46 L536.78 365.34 L536.99 364.23 L537.24 363.12 L537.53 362.01 L537.86 360.92 L538.22 359.83 L538.62 358.76 L539.06 357.69 L539.53 356.64 L540.04 355.6 L540.59 354.57 L541.17 353.56 L541.79 352.57 L542.44 351.6 L543.12 350.65 L543.84 349.72 L544.59 348.81 L545.38 347.92 L546.19 347.06 L547.04 346.23 L547.91 345.42 L548.82 344.64 L549.75 343.88" fill="none" stroke="#000" stroke-width="1.2"/>
<path d="M533.26 371.89 L533.25 370.68 L533.28 369.46 L533.36 368.24 L533.47 367.01 L533.63 365.8 L533.83 364.58 L534.07 363.37 L534.35 362.16 L534.67 360.96 L535.03 359.77 L535.43 358.59 L535.88 357.42 L536.36 356.27 L536.88 355.12 L537.44 354 L538.04 352.89 L538.68 351.79 L539.36 350.72 L540.08 349.67 L540.83 348.64 L541.61 347.63 L542.44 346.65 L543.29 345.7 L544.18 344.77 L545.11 343.87 L546.06 342.99 L547.05 342.15 L548.06 341.34" fill="none" stroke="rgba(45,35,120,0.32)" stroke-width="1.5"/>
<path d="M547.23 340.09 L548.31 339.3 L549.42 338.53 L550.55 337.81 L551.71 337.11 L552.89 336.46 L554.1 335.85 L555.33 335.27 L556.58 334.73 L557.85 334.24 L559.14 333.78 L560.45 333.37 L561.77 333 L563.11 332.68 L564.46 332.4 L565.82 332.16 L567.2 331.97 L568.58 331.82 L569.96 331.72 L571.36 331.66 L572.75 331.65 L572.42 336.19 L571.17 336.21 L569.92 336.27 L568.69 336.37 L567.46 336.51 L566.23 336.69 L565.02 336.91 L563.82 337.17 L562.63 337.47 L561.46 337.81 L560.29 338.19 L559.15 338.6 L558.02 339.05 L556.91 339.54 L555.82 340.06 L554.75 340.61 L553.7 341.2 L552.68 341.83 L551.68 342.48 L550.7 343.17 L549.75 343.88Z" fill="url(#g33)"/>
<path d="M549.75 343.88 L550.7 343.17 L551.68 342.48 L552.68 341.83 L553.7 341.2 L554.75 340.61 L555.82 340.06 L556.91 339.54 L558.02 339.05 L559.15 338.6 L560.29 338.19 L561.46 337.81 L562.63 337.47 L563.82 337.17 L565.02 336.91 L566.23 336.69 L567.46 336.51 L568.69 336.37 L569.92 336.27 L571.17 336.21 L572.42 336.19" fill="none" stroke="#000" stroke-width="1.2"/>
<path d="M548.06 341.34 L549.1 340.57 L550.16 339.84 L551.25 339.13 L552.37 338.46 L553.51 337.83 L554.67 337.23 L555.85 336.68 L557.06 336.16 L558.28 335.68 L559.52 335.24 L560.78 334.84 L562.06 334.48 L563.34 334.16 L564.65 333.88 L565.96 333.65 L567.28 333.46 L568.61 333.32 L569.95 333.22 L571.29 333.16 L572.64 333.15" fill="none" stroke="rgba(45,35,120,0.32)" stroke-width="1.5"/>
<path d="M572.75 331.65 L574.1 331.69 L575.45 331.76 L576.79 331.89 L578.13 332.05 L579.47 332.26 L580.81 332.51 L582.14 332.8 L583.46 333.14 L584.78 333.51 L586.08 333.94 L587.37 334.4 L588.65 334.9 L586.65 338.99 L585.5 338.55 L584.34 338.14 L583.17 337.77 L581.99 337.44 L580.81 337.15 L579.62 336.9 L578.42 336.68 L577.22 336.51 L576.02 336.37 L574.82 336.27 L573.62 336.21 L572.42 336.19Z" fill="url(#g34)"/>
<path d="M572.42 336.19 L573.62 336.21 L574.82 336.27 L576.02 336.37 L577.22 336.51 L578.42 336.68 L579.62 336.9 L580.81 337.15 L581.99 337.44 L583.17 337.77 L584.34 338.14 L585.5 338.55 L586.65 338.99" fill="none" stroke="#000" stroke-width="1.2"/>
<path d="M572.64 333.15 L573.94 333.18 L575.24 333.25 L576.54 333.36 L577.83 333.52 L579.13 333.72 L580.42 333.95 L581.7 334.23 L582.98 334.56 L584.25 334.92 L585.51 335.32 L586.76 335.77 L587.99 336.25" fill="none" stroke="rgba(45,35,120,0.32)" stroke-width="1.5"/>
<path d="M588.65 334.9 L589.85 335.42 L591.04 335.98 L592.21 336.57 L593.37 337.2 L594.51 337.86 L595.63 338.56 L596.73 339.3 L597.8 340.07 L594.89 343.56 L593.91 342.87 L592.92 342.22 L591.91 341.6 L590.89 341.01 L589.85 340.46 L588.8 339.94 L587.73 339.45 L586.65 338.99Z" fill="url(#g35)"/>
<path d="M586.65 338.99 L587.73 339.45 L588.8 339.94 L589.85 340.46 L590.89 341.01 L591.91 341.6 L592.92 342.22 L593.91 342.87 L594.89 343.56" fill="none" stroke="#000" stroke-width="1.2"/>
<path d="M587.99 336.25 L589.15 336.75 L590.3 337.28 L591.43 337.85 L592.55 338.46 L593.65 339.1 L594.73 339.77 L595.8 340.48 L596.84 341.22" fill="none" stroke="rgba(45,35,120,0.32)" stroke-width="1.5"/>
<path d="M597.8 340.07 L598.98 340.96 L600.12 341.89 L601.23 342.86 L602.32 343.87 L603.37 344.92 L604.38 346.01 L605.36 347.13 L606.31 348.29 L607.22 349.48 L608.09 350.7 L608.92 351.95 L609.71 353.24 L610.45 354.55 L611.16 355.88 L611.82 357.25 L612.43 358.64 L613 360.05 L613.53 361.48 L614 362.93 L614.43 364.4 L614.81 365.89 L615.14 367.39 L615.42 368.9 L615.65 370.43 L615.83 371.96 L615.95 373.5 L616.03 375.05 L616.05 376.61 L616.02 378.17 L615.94 379.73 L615.81 381.28 L615.62 382.84 L615.39 384.39 L615.1 385.94 L614.75 387.48 L614.36 389.01 L613.91 390.52 L613.41 392.03 L612.86 393.52 L612.26 394.99 L611.61 396.45 L610.91 397.88 L610.16 399.3 L609.37 400.69 L608.52 402.06 L604.84 399.38 L605.6 398.14 L606.31 396.88 L606.98 395.59 L607.61 394.29 L608.19 392.97 L608.72 391.63 L609.21 390.28 L609.65 388.92 L610.05 387.54 L610.4 386.16 L610.7 384.77 L610.95 383.37 L611.16 381.96 L611.32 380.56 L611.43 379.15 L611.49 377.74 L611.51 376.33 L611.48 374.93 L611.4 373.53 L611.28 372.14 L611.11 370.76 L610.89 369.38 L610.63 368.02 L610.33 366.67 L609.98 365.33 L609.58 364.01 L609.15 362.71 L608.67 361.42 L608.14 360.15 L607.58 358.91 L606.98 357.69 L606.34 356.49 L605.66 355.31 L604.94 354.16 L604.19 353.04 L603.4 351.95 L602.57 350.88 L601.72 349.85 L600.83 348.85 L599.91 347.88 L598.96 346.94 L597.98 346.04 L596.97 345.18 L595.94 344.35 L594.89 343.56Z" fill="url(#g36)"/>
<path d="M594.89 343.56 L595.94 344.35 L596.97 345.18 L597.98 346.04 L598.96 346.94 L599.91 347.88 L600.83 348.85 L601.72 349.85 L602.57 350.88 L603.4 351.95 L604.19 353.04 L604.94 354.16 L605.66 355.31 L606.34 356.49 L606.98 357.69 L607.58 358.91 L608.14 360.15 L608.67 361.42 L609.15 362.71 L609.58 364.01 L609.98 365.33 L610.33 366.67 L610.63 368.02 L610.89 369.38 L611.11 370.76 L611.28 372.14 L611.4 373.53 L611.48 374.93 L611.51 376.33 L611.49 377.74 L611.43 379.15 L611.32 380.56 L611.16 381.96 L610.95 383.37 L610.7 384.77 L610.4 386.16 L610.05 387.54 L609.65 388.92 L609.21 390.28 L608.72 391.63 L608.19 392.97 L607.61 394.29 L606.98 395.59 L606.31 396.88 L605.6 398.14 L604.84 399.38" fill="none" stroke="#000" stroke-width="1.2"/>
<path d="M596.84 341.22 L597.98 342.08 L599.08 342.97 L600.16 343.91 L601.21 344.89 L602.23 345.9 L603.21 346.95 L604.16 348.03 L605.08 349.14 L605.96 350.29 L606.8 351.47 L607.61 352.68 L608.37 353.92 L609.1 355.19 L609.78 356.48 L610.42 357.8 L611.02 359.14 L611.57 360.5 L612.08 361.88 L612.54 363.29 L612.96 364.71 L613.33 366.14 L613.65 367.6 L613.93 369.06 L614.15 370.54 L614.33 372.02 L614.45 373.51 L614.53 375.01 L614.56 376.52 L614.53 378.03 L614.46 379.54 L614.33 381.04 L614.15 382.55 L613.93 384.05 L613.65 385.55 L613.32 387.04 L612.94 388.52 L612.51 389.99 L612.03 391.45 L611.5 392.9 L610.92 394.33 L610.29 395.74 L609.62 397.13 L608.89 398.5 L608.12 399.85 L607.31 401.18" fill="none" stroke="rgba(45,35,120,0.32)" stroke-width="1.5"/>
<path d="M608.52 402.06 L607.7 403.28 L606.85 404.49 L605.96 405.67 L605.03 406.82 L604.06 407.95 L603.06 409.05 L602.02 410.12 L600.95 411.16 L599.84 412.16 L598.71 413.14 L597.54 414.08 L596.34 414.98 L595.11 415.85 L593.86 416.69 L592.57 417.48 L590.45 413.46 L591.62 412.73 L592.75 411.96 L593.86 411.17 L594.95 410.34 L596 409.48 L597.03 408.59 L598.02 407.67 L598.99 406.72 L599.93 405.75 L600.83 404.75 L601.7 403.72 L602.54 402.67 L603.34 401.6 L604.11 400.5 L604.84 399.38Z" fill="url(#g37)"/>
<path d="M604.84 399.38 L604.11 400.5 L603.34 401.6 L602.54 402.67 L601.7 403.72 L600.83 404.75 L599.93 405.75 L598.99 406.72 L598.02 407.67 L597.03 408.59 L596 409.48 L594.95 410.34 L593.86 411.17 L592.75 411.96 L591.62 412.73 L590.45 413.46" fill="none" stroke="#000" stroke-width="1.2"/>
<path d="M607.31 401.18 L606.52 402.37 L605.69 403.54 L604.83 404.68 L603.93 405.8 L602.99 406.89 L602.03 407.96 L601.02 409 L599.98 410.01 L598.92 410.98 L597.81 411.93 L596.68 412.84 L595.52 413.73 L594.33 414.57 L593.12 415.38 L591.87 416.15" fill="none" stroke="rgba(45,35,120,0.32)" stroke-width="1.5"/>
<path d="M592.57 417.48 L591.35 418.19 L590.11 418.86 L588.85 419.5 L587.56 420.11 L586.26 420.67 L584.94 421.2 L583.61 421.7 L582.26 422.15 L581.1 417.75 L582.33 417.33 L583.54 416.87 L584.74 416.39 L585.92 415.86 L587.08 415.31 L588.22 414.72 L589.35 414.1 L590.45 413.46Z" fill="url(#g38)"/>
<path d="M590.45 413.46 L589.35 414.1 L588.22 414.72 L587.08 415.31 L585.92 415.86 L584.74 416.39 L583.54 416.87 L582.33 417.33 L581.1 417.75" fill="none" stroke="#000" stroke-width="1.2"/>
<path d="M591.87 416.15 L590.69 416.84 L589.49 417.5 L588.26 418.12 L587.02 418.71 L585.76 419.26 L584.48 419.78 L583.19 420.26 L581.88 420.7" fill="none" stroke="rgba(45,35,120,0.32)" stroke-width="1.5"/>
<path d="M582.26 422.15 L581 422.54 L579.74 422.89 L578.47 423.21 L577.19 423.49 L575.9 423.74 L574.6 423.96 L573.29 424.15 L572.96 419.61 L574.15 419.43 L575.33 419.23 L576.5 418.99 L577.67 418.73 L578.82 418.43 L579.97 418.11 L581.1 417.75Z" fill="url(#g39)"/>
<path d="M581.1 417.75 L579.97 418.11 L578.82 418.43 L577.67 418.73 L576.5 418.99 L575.33 419.23 L574.15 419.43 L572.96 419.61" fill="none" stroke="#000" stroke-width="1.2"/>
<path d="M581.88 420.7 L580.66 421.08 L579.44 421.42 L578.2 421.73 L576.96 422.01 L575.71 422.26 L574.45 422.47 L573.18 422.65" fill="none" stroke="rgba(45,35,120,0.32)" stroke-width="1.5"/>
<path d="M573.29 424.15 L571.86 424.31 L570.42 424.43 L568.97 424.51 L567.52 424.55 L566.07 424.55 L564.62 424.51 L563.17 424.42 L563.74 419.91 L565.07 419.98 L566.39 420.01 L567.71 420.01 L569.03 419.96 L570.34 419.88 L571.65 419.76 L572.96 419.61Z" fill="url(#g40)"/>
<path d="M572.96 419.61 L571.65 419.76 L570.34 419.88 L569.03 419.96 L567.71 420.01 L566.39 420.01 L565.07 419.98 L563.74 419.91" fill="none" stroke="#000" stroke-width="1.2"/>
<path d="M573.18 422.65 L571.79 422.81 L570.39 422.93 L568.99 423.01 L567.59 423.05 L566.18 423.05 L564.77 423.01 L563.36 422.93" fill="none" stroke="rgba(45,35,120,0.32)" stroke-width="1.5"/>
<path d="M557.71 423.73 L556.04 423.39 L554.37 423 L552.71 422.56 L551.07 422.05 L549.44 421.49 L547.83 420.88 L546.23 420.21 L544.66 419.49 L543.11 418.71 L541.58 417.89 L540.08 417.01 L538.6 416.07 L537.16 415.09 L535.75 414.06 L534.37 412.98 L533.02 411.85 L531.71 410.68 L530.44 409.46 L529.2 408.2 L528.01 406.89 L526.86 405.55 L525.75 404.16 L524.69 402.74 L523.68 401.28 L522.71 399.78 L521.79 398.25 L520.92 396.68 L520.1 395.09 L519.34 393.46 L518.63 391.81 L517.97 390.14 L517.37 388.44 L516.82 386.71 L516.33 384.97 L520.78 384.04 L521.24 385.63 L521.75 387.21 L522.31 388.76 L522.92 390.3 L523.58 391.81 L524.28 393.29 L525.04 394.75 L525.84 396.18 L526.69 397.57 L527.58 398.94 L528.52 400.27 L529.5 401.57 L530.51 402.84 L531.57 404.06 L532.67 405.25 L533.8 406.4 L534.97 407.51 L536.17 408.57 L537.41 409.6 L538.68 410.58 L539.97 411.51 L541.3 412.4 L542.65 413.25 L544.02 414.05 L545.42 414.8 L546.84 415.5 L548.28 416.15 L549.74 416.75 L551.21 417.3 L552.7 417.81 L554.2 418.26 L555.71 418.66 L557.24 419.01 L558.77 419.3Z" fill="url(#g41)"/>
<path d="M558.77 419.3 L557.24 419.01 L555.71 418.66 L554.2 418.26 L552.7 417.81 L551.21 417.3 L549.74 416.75 L548.28 416.15 L546.84 415.5 L545.42 414.8 L544.02 414.05 L542.65 413.25 L541.3 412.4 L539.97 411.51 L538.68 410.58 L537.41 409.6 L536.17 408.57 L534.97 407.51 L533.8 406.4 L532.67 405.25 L531.57 404.06 L530.51 402.84 L529.5 401.57 L528.52 400.27 L527.58 398.94 L526.69 397.57 L525.84 396.18 L525.04 394.75 L524.28 393.29 L523.58 391.81 L522.92 390.3 L522.31 388.76 L521.75 387.21 L521.24 385.63 L520.78 384.04" fill="none" stroke="#000" stroke-width="1.2"/>
<path d="M558.06 422.27 L556.43 421.95 L554.81 421.57 L553.2 421.14 L551.61 420.65 L550.02 420.11 L548.46 419.52 L546.91 418.87 L545.38 418.17 L543.87 417.42 L542.38 416.62 L540.92 415.77 L539.49 414.86 L538.09 413.91 L536.71 412.91 L535.37 411.87 L534.06 410.77 L532.79 409.63 L531.55 408.45 L530.35 407.23 L529.19 405.96 L528.07 404.65 L526.99 403.31 L525.95 401.93 L524.96 400.51 L524.02 399.05 L523.13 397.56 L522.28 396.04 L521.48 394.5 L520.74 392.92 L520.04 391.31 L519.4 389.68 L518.81 388.03 L518.28 386.36 L517.8 384.66" fill="none" stroke="rgba(45,35,120,0.32)" stroke-width="1.5"/>
<path d="M516.33 384.97 L515.9 383.22 L515.53 381.45 L515.22 379.66 L514.96 377.87 L514.77 376.06 L514.63 374.25 L514.55 372.42 L514.54 370.6 L514.59 368.77 L514.69 366.94 L514.86 365.11 L515.09 363.29 L515.38 361.47 L515.73 359.66 L516.14 357.86 L516.61 356.07 L517.14 354.29 L517.73 352.53 L518.38 350.79 L519.09 349.07 L519.85 347.37 L520.68 345.69 L521.56 344.04 L522.49 342.41 L523.48 340.82 L524.53 339.26 L525.62 337.73 L526.77 336.23 L527.97 334.77 L529.22 333.35 L530.52 331.97 L531.87 330.63 L533.26 329.34 L534.7 328.09 L536.18 326.88 L537.7 325.73 L540.21 329.52 L538.82 330.59 L537.46 331.7 L536.14 332.86 L534.86 334.06 L533.63 335.3 L532.44 336.57 L531.29 337.88 L530.19 339.23 L529.14 340.61 L528.14 342.02 L527.18 343.47 L526.28 344.94 L525.42 346.43 L524.62 347.96 L523.87 349.5 L523.17 351.07 L522.53 352.65 L521.94 354.26 L521.4 355.88 L520.92 357.51 L520.5 359.16 L520.13 360.81 L519.81 362.48 L519.56 364.15 L519.35 365.83 L519.21 367.5 L519.12 369.18 L519.08 370.86 L519.1 372.54 L519.18 374.21 L519.31 375.87 L519.5 377.53 L519.74 379.18 L520.03 380.81 L520.38 382.43 L520.78 384.04Z" fill="url(#g42)"/>
<path d="M520.78 384.04 L520.38 382.43 L520.03 380.81 L519.74 379.18 L519.5 377.53 L519.31 375.87 L519.18 374.21 L519.1 372.54 L519.08 370.86 L519.12 369.18 L519.21 367.5 L519.35 365.83 L519.56 364.15 L519.81 362.48 L520.13 360.81 L520.5 359.16 L520.92 357.51 L521.4 355.88 L521.94 354.26 L522.53 352.65 L523.17 351.07 L523.87 349.5 L524.62 347.96 L525.42 346.43 L526.28 344.94 L527.18 343.47 L528.14 342.02 L529.14 340.61 L530.19 339.23 L531.29 337.88 L532.44 336.57 L533.63 335.3 L534.86 334.06 L536.14 332.86 L537.46 331.7 L538.82 330.59 L540.21 329.52" fill="none" stroke="#000" stroke-width="1.2"/>
<path d="M517.8 384.66 L517.38 382.96 L517.01 381.24 L516.71 379.5 L516.46 377.76 L516.26 376 L516.13 374.23 L516.05 372.46 L516.04 370.68 L516.08 368.91 L516.18 367.13 L516.34 365.35 L516.56 363.57 L516.84 361.8 L517.18 360.04 L517.57 358.29 L518.03 356.54 L518.54 354.82 L519.12 353.1 L519.75 351.4 L520.43 349.73 L521.18 348.07 L521.98 346.44 L522.83 344.83 L523.74 343.25 L524.7 341.69 L525.72 340.17 L526.78 338.68 L527.9 337.22 L529.07 335.8 L530.28 334.41 L531.55 333.07 L532.86 331.76 L534.21 330.5 L535.61 329.28 L537.05 328.1 L538.53 326.98" fill="none" stroke="rgba(45,35,120,0.32)" stroke-width="1.5"/>
<path d="M537.7 325.73 L539.25 324.62 L540.85 323.57 L542.48 322.56 L544.15 321.62 L545.85 320.72 L547.58 319.88 L549.34 319.1 L551.13 318.37 L552.95 317.71 L554.78 317.1 L556.64 316.55 L558.53 316.07 L560.42 315.64 L562.34 315.28 L564.27 314.98 L566.21 314.75 L568.16 314.58 L570.11 314.47 L572.08 314.43 L574.04 314.46 L573.7 318.99 L571.89 318.98 L570.07 319.02 L568.27 319.13 L566.47 319.29 L564.68 319.52 L562.9 319.8 L561.13 320.14 L559.38 320.54 L557.65 320.99 L555.93 321.5 L554.24 322.07 L552.57 322.69 L550.92 323.37 L549.3 324.09 L547.71 324.87 L546.14 325.71 L544.61 326.59 L543.11 327.52 L541.64 328.49 L540.21 329.52Z" fill="url(#g43)"/>
<path d="M540.21 329.52 L541.64 328.49 L543.11 327.52 L544.61 326.59 L546.14 325.71 L547.71 324.87 L549.3 324.09 L550.92 323.37 L552.57 322.69 L554.24 322.07 L555.93 321.5 L557.65 320.99 L559.38 320.54 L561.13 320.14 L562.9 319.8 L564.68 319.52 L566.47 319.29 L568.27 319.13 L570.07 319.02 L571.89 318.98 L573.7 318.99" fill="none" stroke="#000" stroke-width="1.2"/>
<path d="M538.53 326.98 L540.04 325.9 L541.6 324.87 L543.18 323.89 L544.81 322.96 L546.46 322.09 L548.15 321.27 L549.86 320.51 L551.61 319.8 L553.37 319.15 L555.16 318.55 L556.98 318.02 L558.81 317.54 L560.66 317.13 L562.52 316.77 L564.4 316.48 L566.29 316.25 L568.19 316.08 L570.1 315.97 L572.01 315.93 L573.93 315.95" fill="none" stroke="rgba(45,35,120,0.32)" stroke-width="1.5"/>
<path d="M574.04 314.46 L575.93 314.54 L577.82 314.68 L579.71 314.89 L581.59 315.15 L583.46 315.48 L585.33 315.86 L587.18 316.31 L589.03 316.81 L590.86 317.38 L592.67 318 L594.46 318.68 L596.24 319.42 L594.24 323.5 L592.59 322.83 L590.93 322.2 L589.25 321.64 L587.56 321.12 L585.85 320.66 L584.14 320.26 L582.41 319.91 L580.68 319.61 L578.94 319.37 L577.19 319.19 L575.45 319.06 L573.7 318.99Z" fill="url(#g44)"/>
<path d="M573.7 318.99 L575.45 319.06 L577.19 319.19 L578.94 319.37 L580.68 319.61 L582.41 319.91 L584.14 320.26 L585.85 320.66 L587.56 321.12 L589.25 321.64 L590.93 322.2 L592.59 322.83 L594.24 323.5" fill="none" stroke="#000" stroke-width="1.2"/>
<path d="M573.93 315.95 L575.77 316.03 L577.61 316.17 L579.45 316.37 L581.29 316.62 L583.12 316.94 L584.94 317.31 L586.75 317.74 L588.54 318.23 L590.33 318.78 L592.1 319.39 L593.85 320.05 L595.58 320.77" fill="none" stroke="rgba(45,35,120,0.32)" stroke-width="1.5"/>
<path d="M596.24 319.42 L597.9 320.17 L599.54 320.98 L601.16 321.83 L602.76 322.74 L604.33 323.69 L605.87 324.69 L607.38 325.74 L608.87 326.84 L605.95 330.33 L604.57 329.32 L603.17 328.35 L601.74 327.43 L600.28 326.55 L598.8 325.72 L597.3 324.93 L595.78 324.2 L594.24 323.5Z" fill="url(#g45)"/>
<path d="M594.24 323.5 L595.78 324.2 L597.3 324.93 L598.8 325.72 L600.28 326.55 L601.74 327.43 L603.17 328.35 L604.57 329.32 L605.95 330.33" fill="none" stroke="#000" stroke-width="1.2"/>
<path d="M595.58 320.77 L597.2 321.5 L598.8 322.28 L600.38 323.11 L601.94 323.99 L603.47 324.92 L604.98 325.9 L606.46 326.92 L607.9 327.99" fill="none" stroke="rgba(45,35,120,0.32)" stroke-width="1.5"/>
<path d="M608.87 326.84 L610.47 328.1 L612.04 329.43 L613.56 330.81 L615.04 332.23 L616.47 333.72 L617.85 335.24 L619.19 336.82 L620.47 338.45 L621.7 340.11 L622.87 341.82 L623.99 343.58 L625.05 345.37 L626.05 347.19 L626.99 349.06 L627.87 350.95 L628.69 352.88 L629.44 354.84 L630.13 356.82 L630.75 358.83 L631.31 360.86 L631.79 362.91 L632.21 364.98 L632.56 367.07 L632.85 369.17 L633.06 371.28 L633.2 373.39 L633.27 375.52 L633.27 377.65 L633.19 379.78 L633.05 381.91 L632.83 384.04 L632.55 386.16 L632.19 388.28 L631.76 390.38 L631.26 392.48 L630.69 394.55 L630.04 396.61 L629.33 398.65 L628.55 400.67 L627.71 402.66 L626.79 404.63 L625.81 406.57 L624.76 408.48 L623.65 410.35 L622.47 412.19 L618.79 409.51 L619.88 407.8 L620.91 406.06 L621.88 404.28 L622.79 402.47 L623.63 400.64 L624.41 398.78 L625.13 396.91 L625.79 395.01 L626.38 393.09 L626.9 391.16 L627.36 389.21 L627.75 387.25 L628.08 385.29 L628.34 383.31 L628.54 381.34 L628.66 379.36 L628.72 377.38 L628.72 375.4 L628.65 373.42 L628.51 371.46 L628.31 369.5 L628.04 367.55 L627.71 365.62 L627.31 363.7 L626.85 361.79 L626.33 359.91 L625.75 358.05 L625.1 356.21 L624.4 354.4 L623.64 352.61 L622.81 350.86 L621.94 349.13 L621 347.44 L620.01 345.79 L618.97 344.17 L617.88 342.58 L616.73 341.04 L615.54 339.54 L614.3 338.09 L613.01 336.67 L611.68 335.31 L610.31 333.99 L608.89 332.72 L607.44 331.5 L605.95 330.33Z" fill="url(#g46)"/>
<path d="M605.95 330.33 L607.44 331.5 L608.89 332.72 L610.31 333.99 L611.68 335.31 L613.01 336.67 L614.3 338.09 L615.54 339.54 L616.73 341.04 L617.88 342.58 L618.97 344.17 L620.01 345.79 L621 347.44 L621.94 349.13 L622.81 350.86 L623.64 352.61 L624.4 354.4 L625.1 356.21 L625.75 358.05 L626.33 359.91 L626.85 361.79 L627.31 363.7 L627.71 365.62 L628.04 367.55 L628.31 369.5 L628.51 371.46 L628.65 373.42 L628.72 375.4 L628.72 377.38 L628.66 379.36 L628.54 381.34 L628.34 383.31 L628.08 385.29 L627.75 387.25 L627.36 389.21 L626.9 391.16 L626.38 393.09 L625.79 395.01 L625.13 396.91 L624.41 398.78 L623.63 400.64 L622.79 402.47 L621.88 404.28 L620.91 406.06 L619.88 407.8 L618.79 409.51" fill="none" stroke="#000" stroke-width="1.2"/>
<path d="M607.9 327.99 L609.47 329.22 L611 330.51 L612.49 331.85 L613.93 333.25 L615.33 334.69 L616.68 336.18 L617.99 337.72 L619.24 339.3 L620.44 340.93 L621.59 342.6 L622.68 344.31 L623.72 346.05 L624.7 347.83 L625.62 349.65 L626.48 351.5 L627.27 353.38 L628.01 355.29 L628.68 357.23 L629.29 359.19 L629.84 361.17 L630.32 363.17 L630.73 365.19 L631.07 367.23 L631.35 369.27 L631.56 371.33 L631.7 373.4 L631.77 375.48 L631.77 377.56 L631.7 379.64 L631.56 381.72 L631.35 383.8 L631.07 385.87 L630.73 387.94 L630.31 390 L629.82 392.04 L629.27 394.07 L628.64 396.08 L627.95 398.08 L627.19 400.05 L626.36 402 L625.47 403.92 L624.51 405.81 L623.49 407.68 L622.41 409.51 L621.26 411.31" fill="none" stroke="rgba(45,35,120,0.32)" stroke-width="1.5"/>
<path d="M622.47 412.19 L621.34 413.84 L620.16 415.45 L618.92 417.04 L617.64 418.58 L616.31 420.09 L614.93 421.56 L613.5 422.98 L612.03 424.36 L610.52 425.7 L608.96 427 L607.37 428.25 L605.73 429.45 L604.06 430.6 L602.34 431.7 L600.6 432.74 L598.48 428.72 L600.1 427.74 L601.7 426.71 L603.25 425.63 L604.77 424.51 L606.26 423.34 L607.7 422.13 L609.11 420.88 L610.47 419.59 L611.8 418.26 L613.08 416.89 L614.31 415.48 L615.5 414.04 L616.65 412.56 L617.74 411.05 L618.79 409.51Z" fill="url(#g47)"/>
<path d="M618.79 409.51 L617.74 411.05 L616.65 412.56 L615.5 414.04 L614.31 415.48 L613.08 416.89 L611.8 418.26 L610.47 419.59 L609.11 420.88 L607.7 422.13 L606.26 423.34 L604.77 424.51 L603.25 425.63 L601.7 426.71 L600.1 427.74 L598.48 428.72" fill="none" stroke="#000" stroke-width="1.2"/>
<path d="M621.26 411.31 L620.16 412.92 L619 414.5 L617.8 416.05 L616.54 417.56 L615.24 419.03 L613.9 420.47 L612.5 421.86 L611.07 423.22 L609.59 424.53 L608.07 425.79 L606.51 427.01 L604.91 428.19 L603.28 429.31 L601.61 430.39 L599.9 431.42" fill="none" stroke="rgba(45,35,120,0.32)" stroke-width="1.5"/>
<path d="M600.6 432.74 L598.94 433.67 L597.25 434.56 L595.54 435.39 L593.8 436.18 L592.04 436.92 L590.25 437.61 L588.45 438.25 L586.62 438.83 L585.47 434.43 L587.17 433.88 L588.85 433.28 L590.51 432.63 L592.15 431.94 L593.77 431.2 L595.37 430.42 L596.94 429.59 L598.48 428.72Z" fill="url(#g48)"/>
<path d="M598.48 428.72 L596.94 429.59 L595.37 430.42 L593.77 431.2 L592.15 431.94 L590.51 432.63 L588.85 433.28 L587.17 433.88 L585.47 434.43" fill="none" stroke="#000" stroke-width="1.2"/>
<path d="M599.9 431.42 L598.28 432.33 L596.63 433.19 L594.96 434.01 L593.26 434.78 L591.54 435.51 L589.79 436.18 L588.03 436.81 L586.24 437.38" fill="none" stroke="rgba(45,35,120,0.32)" stroke-width="1.5"/>
<path d="M586.62 438.83 L584.93 439.33 L583.23 439.77 L581.52 440.18 L579.79 440.54 L578.05 440.85 L576.31 441.12 L574.55 441.35 L574.22 436.81 L575.85 436.59 L577.48 436.34 L579.1 436.04 L580.71 435.7 L582.31 435.32 L583.9 434.9 L585.47 434.43Z" fill="url(#g49)"/>
<path d="M585.47 434.43 L583.9 434.9 L582.31 435.32 L580.71 435.7 L579.1 436.04 L577.48 436.34 L575.85 436.59 L574.22 436.81" fill="none" stroke="#000" stroke-width="1.2"/>
<path d="M586.24 437.38 L584.59 437.87 L582.93 438.31 L581.25 438.7 L579.56 439.05 L577.86 439.36 L576.16 439.63 L574.44 439.85" fill="none" stroke="rgba(45,35,120,0.32)" stroke-width="1.5"/>
<path d="M574.55 441.35 L572.63 441.54 L570.7 441.67 L568.76 441.76 L566.82 441.78 L564.88 441.75 L562.94 441.67 L560.99 441.53 L561.57 437.02 L563.38 437.14 L565.19 437.21 L567.01 437.24 L568.82 437.21 L570.62 437.12 L572.42 436.99 L574.22 436.81Z" fill="url(#g50)"/>
<path d="M574.22 436.81 L572.42 436.99 L570.62 437.12 L568.82 437.21 L567.01 437.24 L565.19 437.21 L563.38 437.14 L561.57 437.02" fill="none" stroke="#000" stroke-width="1.2"/>
<path d="M574.44 439.85 L572.56 440.04 L570.67 440.17 L568.78 440.26 L566.88 440.28 L564.98 440.26 L563.08 440.18 L561.18 440.04" fill="none" stroke="rgba(45,35,120,0.32)" stroke-width="1.5"/>
<path d="M553.72 440.5 L551.49 440.03 L549.27 439.48 L547.07 438.85 L544.89 438.15 L542.73 437.38 L540.59 436.53 L538.48 435.61 L536.4 434.63 L534.35 433.57 L532.33 432.44 L530.35 431.24 L528.41 429.98 L526.51 428.65 L524.65 427.26 L522.84 425.8 L521.07 424.29 L519.35 422.71 L517.69 421.07 L516.08 419.38 L514.52 417.63 L513.02 415.83 L511.58 413.98 L510.2 412.08 L508.88 410.13 L507.63 408.13 L506.44 406.1 L505.32 404.02 L504.26 401.9 L503.28 399.75 L502.37 397.56 L501.53 395.34 L500.76 393.09 L500.07 390.81 L499.45 388.51 L503.91 387.58 L504.49 389.73 L505.14 391.86 L505.87 393.97 L506.66 396.04 L507.52 398.09 L508.44 400.1 L509.43 402.08 L510.49 404.03 L511.61 405.93 L512.78 407.79 L514.02 409.61 L515.32 411.39 L516.67 413.12 L518.08 414.8 L519.54 416.43 L521.05 418.01 L522.61 419.53 L524.22 421.01 L525.88 422.42 L527.58 423.78 L529.32 425.07 L531.1 426.31 L532.92 427.49 L534.77 428.6 L536.66 429.65 L538.58 430.63 L540.52 431.55 L542.5 432.4 L544.5 433.19 L546.52 433.9 L548.56 434.55 L550.62 435.13 L552.69 435.64 L554.78 436.08Z" fill="url(#g51)"/>
<path d="M554.78 436.08 L552.69 435.64 L550.62 435.13 L548.56 434.55 L546.52 433.9 L544.5 433.19 L542.5 432.4 L540.52 431.55 L538.58 430.63 L536.66 429.65 L534.77 428.6 L532.92 427.49 L531.1 426.31 L529.32 425.07 L527.58 423.78 L525.88 422.42 L524.22 421.01 L522.61 419.53 L521.05 418.01 L519.54 416.43 L518.08 414.8 L516.67 413.12 L515.32 411.39 L514.02 409.61 L512.78 407.79 L511.61 405.93 L510.49 404.03 L509.43 402.08 L508.44 400.1 L507.52 398.09 L506.66 396.04 L505.87 393.97 L505.14 391.86 L504.49 389.73 L503.91 387.58" fill="none" stroke="#000" stroke-width="1.2"/>
<path d="M554.07 439.05 L551.88 438.58 L549.71 438.04 L547.56 437.43 L545.42 436.75 L543.31 436 L541.22 435.17 L539.15 434.27 L537.12 433.31 L535.11 432.28 L533.14 431.17 L531.2 430 L529.3 428.77 L527.43 427.47 L525.61 426.11 L523.84 424.69 L522.11 423.2 L520.43 421.66 L518.8 420.06 L517.22 418.41 L515.69 416.7 L514.22 414.94 L512.81 413.13 L511.46 411.27 L510.17 409.36 L508.94 407.41 L507.77 405.41 L506.67 403.38 L505.64 401.31 L504.68 399.2 L503.78 397.06 L502.96 394.89 L502.21 392.68 L501.53 390.45 L500.92 388.2" fill="none" stroke="rgba(45,35,120,0.32)" stroke-width="1.5"/>
<path d="M499.45 388.51 L498.92 386.2 L498.46 383.86 L498.07 381.51 L497.76 379.15 L497.54 376.77 L497.39 374.38 L497.32 371.99 L497.32 369.6 L497.41 367.2 L497.58 364.8 L497.83 362.41 L498.16 360.02 L498.56 357.65 L499.05 355.28 L499.61 352.93 L500.26 350.6 L500.98 348.28 L501.77 345.99 L502.65 343.72 L503.6 341.48 L504.62 339.28 L505.72 337.1 L506.9 334.96 L508.14 332.85 L509.46 330.79 L510.84 328.77 L512.29 326.79 L513.81 324.86 L515.39 322.98 L517.04 321.15 L518.75 319.37 L520.52 317.65 L522.35 315.98 L524.23 314.38 L526.17 312.84 L528.16 311.36 L530.68 315.15 L528.81 316.54 L526.99 318 L525.23 319.51 L523.52 321.07 L521.86 322.69 L520.26 324.37 L518.71 326.09 L517.23 327.86 L515.81 329.67 L514.45 331.53 L513.16 333.44 L511.93 335.38 L510.76 337.35 L509.67 339.37 L508.64 341.41 L507.69 343.49 L506.8 345.59 L505.98 347.72 L505.24 349.87 L504.57 352.04 L503.97 354.23 L503.45 356.44 L503 358.65 L502.62 360.88 L502.32 363.12 L502.1 365.37 L501.94 367.61 L501.87 369.86 L501.86 372.11 L501.94 374.35 L502.08 376.58 L502.3 378.81 L502.6 381.02 L502.96 383.22 L503.4 385.41 L503.91 387.58Z" fill="url(#g52)"/>
<path d="M503.91 387.58 L503.4 385.41 L502.96 383.22 L502.6 381.02 L502.3 378.81 L502.08 376.58 L501.94 374.35 L501.86 372.11 L501.87 369.86 L501.94 367.61 L502.1 365.37 L502.32 363.12 L502.62 360.88 L503 358.65 L503.45 356.44 L503.97 354.23 L504.57 352.04 L505.24 349.87 L505.98 347.72 L506.8 345.59 L507.69 343.49 L508.64 341.41 L509.67 339.37 L510.76 337.35 L511.93 335.38 L513.16 333.44 L514.45 331.53 L515.81 329.67 L517.23 327.86 L518.71 326.09 L520.26 324.37 L521.86 322.69 L523.52 321.07 L525.23 319.51 L526.99 318 L528.81 316.54 L530.68 315.15" fill="none" stroke="#000" stroke-width="1.2"/>
<path d="M500.92 388.2 L500.39 385.94 L499.94 383.65 L499.56 381.35 L499.26 379.04 L499.04 376.71 L498.89 374.37 L498.82 372.03 L498.82 369.68 L498.91 367.33 L499.07 364.99 L499.31 362.64 L499.63 360.31 L500.02 357.98 L500.5 355.66 L501.05 353.36 L501.68 351.07 L502.38 348.81 L503.16 346.56 L504.02 344.34 L504.95 342.14 L505.95 339.98 L507.02 337.85 L508.17 335.75 L509.39 333.68 L510.68 331.66 L512.03 329.68 L513.45 327.74 L514.94 325.85 L516.49 324 L518.1 322.21 L519.78 320.47 L521.51 318.78 L523.3 317.15 L525.14 315.57 L527.04 314.06 L528.99 312.61" fill="none" stroke="rgba(45,35,120,0.32)" stroke-width="1.5"/>
<path d="M528.16 311.36 L530.2 309.95 L532.28 308.6 L534.42 307.32 L536.59 306.12 L538.81 304.98 L541.06 303.92 L543.35 302.93 L545.68 302.01 L548.04 301.18 L550.42 300.42 L552.84 299.73 L555.28 299.13 L557.74 298.61 L560.21 298.17 L562.71 297.81 L565.22 297.53 L567.74 297.34 L570.26 297.23 L572.79 297.2 L575.33 297.26 L574.99 301.8 L572.6 301.75 L570.22 301.78 L567.85 301.89 L565.48 302.08 L563.12 302.34 L560.77 302.69 L558.44 303.11 L556.13 303.6 L553.84 304.17 L551.57 304.82 L549.33 305.54 L547.12 306.33 L544.93 307.2 L542.78 308.13 L540.66 309.13 L538.58 310.21 L536.54 311.35 L534.54 312.55 L532.59 313.82 L530.68 315.15Z" fill="url(#g53)"/>
<path d="M530.68 315.15 L532.59 313.82 L534.54 312.55 L536.54 311.35 L538.58 310.21 L540.66 309.13 L542.78 308.13 L544.93 307.2 L547.12 306.33 L549.33 305.54 L551.57 304.82 L553.84 304.17 L556.13 303.6 L558.44 303.11 L560.77 302.69 L563.12 302.34 L565.48 302.08 L567.85 301.89 L570.22 301.78 L572.6 301.75 L574.99 301.8" fill="none" stroke="#000" stroke-width="1.2"/>
<path d="M528.99 312.61 L530.99 311.22 L533.03 309.9 L535.12 308.65 L537.25 307.47 L539.42 306.35 L541.63 305.31 L543.87 304.34 L546.15 303.44 L548.46 302.61 L550.8 301.87 L553.17 301.2 L555.56 300.61 L557.97 300.09 L560.4 299.66 L562.84 299.3 L565.3 299.03 L567.77 298.84 L570.25 298.73 L572.73 298.7 L575.22 298.76" fill="none" stroke="rgba(45,35,120,0.32)" stroke-width="1.5"/>
<path d="M575.33 297.26 L577.76 297.39 L580.2 297.6 L582.62 297.89 L585.04 298.26 L587.45 298.7 L589.85 299.22 L592.23 299.82 L594.59 300.49 L596.94 301.24 L599.26 302.06 L601.55 302.96 L603.82 303.93 L601.82 308.02 L599.68 307.11 L597.52 306.27 L595.33 305.5 L593.12 304.8 L590.9 304.17 L588.65 303.61 L586.4 303.13 L584.13 302.72 L581.85 302.38 L579.57 302.11 L577.28 301.92 L574.99 301.8Z" fill="url(#g54)"/>
<path d="M574.99 301.8 L577.28 301.92 L579.57 302.11 L581.85 302.38 L584.13 302.72 L586.4 303.13 L588.65 303.61 L590.9 304.17 L593.12 304.8 L595.33 305.5 L597.52 306.27 L599.68 307.11 L601.82 308.02" fill="none" stroke="#000" stroke-width="1.2"/>
<path d="M575.22 298.76 L577.6 298.89 L579.99 299.09 L582.37 299.37 L584.74 299.73 L587.1 300.16 L589.45 300.67 L591.79 301.25 L594.11 301.91 L596.41 302.64 L598.68 303.45 L600.94 304.33 L603.16 305.28" fill="none" stroke="rgba(45,35,120,0.32)" stroke-width="1.5"/>
<path d="M603.82 303.93 L605.95 304.92 L608.05 305.98 L610.11 307.09 L612.15 308.27 L614.15 309.52 L616.11 310.82 L618.04 312.18 L619.93 313.61 L617.01 317.1 L615.23 315.76 L613.41 314.48 L611.56 313.26 L609.67 312.09 L607.75 310.98 L605.8 309.93 L603.83 308.95 L601.82 308.02Z" fill="url(#g55)"/>
<path d="M601.82 308.02 L603.83 308.95 L605.8 309.93 L607.75 310.98 L609.67 312.09 L611.56 313.26 L613.41 314.48 L615.23 315.76 L617.01 317.1" fill="none" stroke="#000" stroke-width="1.2"/>
<path d="M603.16 305.28 L605.25 306.25 L607.31 307.28 L609.34 308.37 L611.33 309.53 L613.3 310.75 L615.22 312.03 L617.11 313.36 L618.96 314.76" fill="none" stroke="rgba(45,35,120,0.32)" stroke-width="1.5"/>
<path d="M619.93 313.61 L621.97 315.25 L623.96 316.97 L625.89 318.75 L627.76 320.6 L629.58 322.51 L631.33 324.48 L633.01 326.51 L634.63 328.61 L636.18 330.75 L637.66 332.95 L639.06 335.2 L640.4 337.5 L641.65 339.84 L642.83 342.23 L643.93 344.66 L644.94 347.13 L645.88 349.63 L646.73 352.16 L647.5 354.73 L648.18 357.32 L648.78 359.94 L649.29 362.58 L649.71 365.23 L650.04 367.9 L650.29 370.59 L650.44 373.28 L650.5 375.99 L650.48 378.69 L650.36 381.4 L650.15 384.1 L649.85 386.8 L649.47 389.49 L648.99 392.16 L648.42 394.83 L647.76 397.47 L647.01 400.1 L646.18 402.7 L645.26 405.28 L644.25 407.82 L643.15 410.34 L641.97 412.81 L640.71 415.25 L639.36 417.65 L637.93 420.01 L636.43 422.32 L632.75 419.65 L634.17 417.46 L635.51 415.23 L636.78 412.96 L637.97 410.66 L639.08 408.31 L640.11 405.94 L641.05 403.53 L641.92 401.09 L642.71 398.64 L643.41 396.16 L644.02 393.66 L644.55 391.14 L645 388.61 L645.36 386.07 L645.64 383.52 L645.83 380.97 L645.94 378.42 L645.96 375.86 L645.89 373.31 L645.74 370.77 L645.51 368.24 L645.19 365.72 L644.78 363.21 L644.3 360.72 L643.73 358.26 L643.08 355.81 L642.35 353.39 L641.54 351 L640.65 348.65 L639.69 346.32 L638.65 344.03 L637.53 341.78 L636.35 339.58 L635.09 337.41 L633.76 335.29 L632.36 333.22 L630.89 331.2 L629.36 329.23 L627.77 327.32 L626.12 325.46 L624.41 323.67 L622.64 321.93 L620.81 320.25 L618.93 318.64 L617.01 317.1Z" fill="url(#g56)"/>
<path d="M617.01 317.1 L618.93 318.64 L620.81 320.25 L622.64 321.93 L624.41 323.67 L626.12 325.46 L627.77 327.32 L629.36 329.23 L630.89 331.2 L632.36 333.22 L633.76 335.29 L635.09 337.41 L636.35 339.58 L637.53 341.78 L638.65 344.03 L639.69 346.32 L640.65 348.65 L641.54 351 L642.35 353.39 L643.08 355.81 L643.73 358.26 L644.3 360.72 L644.78 363.21 L645.19 365.72 L645.51 368.24 L645.74 370.77 L645.89 373.31 L645.96 375.86 L645.94 378.42 L645.83 380.97 L645.64 383.52 L645.36 386.07 L645 388.61 L644.55 391.14 L644.02 393.66 L643.41 396.16 L642.71 398.64 L641.92 401.09 L641.05 403.53 L640.11 405.94 L639.08 408.31 L637.97 410.66 L636.78 412.96 L635.51 415.23 L634.17 417.46 L632.75 419.65" fill="none" stroke="#000" stroke-width="1.2"/>
<path d="M618.96 314.76 L620.97 316.37 L622.92 318.05 L624.82 319.8 L626.66 321.61 L628.44 323.48 L630.15 325.42 L631.81 327.41 L633.4 329.46 L634.92 331.57 L636.37 333.72 L637.75 335.93 L639.06 338.18 L640.29 340.48 L641.45 342.83 L642.53 345.21 L643.53 347.63 L644.45 350.08 L645.29 352.57 L646.04 355.09 L646.72 357.63 L647.3 360.2 L647.8 362.79 L648.22 365.39 L648.55 368.01 L648.79 370.65 L648.94 373.29 L649.01 375.95 L648.98 378.6 L648.87 381.26 L648.67 383.91 L648.37 386.56 L647.99 389.2 L647.53 391.83 L646.97 394.44 L646.32 397.04 L645.59 399.62 L644.77 402.17 L643.87 404.7 L642.88 407.2 L641.81 409.67 L640.65 412.1 L639.41 414.5 L638.09 416.86 L636.69 419.17 L635.21 421.44" fill="none" stroke="rgba(45,35,120,0.32)" stroke-width="1.5"/>
<path d="M636.43 422.32 L634.98 424.39 L633.47 426.42 L631.89 428.4 L630.25 430.34 L628.56 432.23 L626.8 434.06 L624.99 435.85 L623.12 437.57 L621.2 439.25 L619.22 440.86 L617.19 442.42 L615.12 443.91 L613 445.34 L610.83 446.71 L608.62 448.01 L606.51 443.98 L608.59 442.75 L610.64 441.45 L612.64 440.09 L614.6 438.68 L616.51 437.2 L618.38 435.67 L620.19 434.09 L621.96 432.45 L623.67 430.76 L625.33 429.02 L626.93 427.24 L628.47 425.4 L629.96 423.53 L631.38 421.61 L632.75 419.65Z" fill="url(#g57)"/>
<path d="M632.75 419.65 L631.38 421.61 L629.96 423.53 L628.47 425.4 L626.93 427.24 L625.33 429.02 L623.67 430.76 L621.96 432.45 L620.19 434.09 L618.38 435.67 L616.51 437.2 L614.6 438.68 L612.64 440.09 L610.64 441.45 L608.59 442.75 L606.51 443.98" fill="none" stroke="#000" stroke-width="1.2"/>
<path d="M635.21 421.44 L633.79 423.47 L632.31 425.47 L630.76 427.41 L629.16 429.32 L627.49 431.17 L625.77 432.97 L623.99 434.73 L622.15 436.43 L620.27 438.07 L618.33 439.65 L616.34 441.18 L614.3 442.65 L612.22 444.06 L610.09 445.4 L607.93 446.68" fill="none" stroke="rgba(45,35,120,0.32)" stroke-width="1.5"/>
<path d="M608.62 448.01 L607.52 448.62 L606.4 449.23 L605.28 449.81 L604.14 450.38 L602.27 446.23 L603.34 445.69 L604.41 445.14 L605.46 444.57 L606.51 443.98Z" fill="url(#g58)"/>
<path d="M606.51 443.98 L605.46 444.57 L604.41 445.14 L603.34 445.69 L602.27 446.23" fill="none" stroke="#000" stroke-width="1.2"/>
<path d="M607.93 446.68 L606.84 447.29 L605.74 447.88 L604.64 448.45 L603.52 449.01" fill="none" stroke="rgba(45,35,120,0.32)" stroke-width="1.5"/>
<line x1="590.45" y1="413.46" x2="592.57" y2="417.48" stroke="#000" stroke-width="1.2"/>
<line x1="586.65" y1="338.99" x2="588.65" y2="334.9" stroke="#000" stroke-width="1.2"/>
<line x1="561.57" y1="437.02" x2="560.99" y2="441.53" stroke="#000" stroke-width="1.2"/>
<line x1="581.1" y1="417.75" x2="582.26" y2="422.15" stroke="#000" stroke-width="1.2"/>
<line x1="594.89" y1="343.56" x2="597.8" y2="340.07" stroke="#000" stroke-width="1.2"/>
<line x1="536.3" y1="372.05" x2="531.76" y2="371.81" stroke="#000" stroke-width="1.2"/>
<line x1="554.78" y1="436.08" x2="553.72" y2="440.5" stroke="#000" stroke-width="1.2"/>
<line x1="530.68" y1="315.15" x2="528.16" y2="311.36" stroke="#000" stroke-width="1.2"/>
<line x1="572.96" y1="419.61" x2="573.29" y2="424.15" stroke="#000" stroke-width="1.2"/>
<line x1="563.74" y1="419.91" x2="563.17" y2="424.42" stroke="#000" stroke-width="1.2"/>
<line x1="558.77" y1="419.3" x2="557.71" y2="423.73" stroke="#000" stroke-width="1.2"/>
<line x1="540.21" y1="329.52" x2="537.7" y2="325.73" stroke="#000" stroke-width="1.2"/>
<line x1="632.75" y1="419.65" x2="636.43" y2="422.32" stroke="#000" stroke-width="1.2"/>
<line x1="574.99" y1="301.8" x2="575.33" y2="297.26" stroke="#000" stroke-width="1.2"/>
<line x1="549.75" y1="343.88" x2="547.23" y2="340.09" stroke="#000" stroke-width="1.2"/>
<line x1="618.79" y1="409.51" x2="622.47" y2="412.19" stroke="#000" stroke-width="1.2"/>
<line x1="606.51" y1="443.98" x2="608.62" y2="448.01" stroke="#000" stroke-width="1.2"/>
<line x1="503.91" y1="387.58" x2="499.45" y2="388.51" stroke="#000" stroke-width="1.2"/>
<line x1="601.82" y1="308.02" x2="603.82" y2="303.93" stroke="#000" stroke-width="1.2"/>
<line x1="573.7" y1="318.99" x2="574.04" y2="314.46" stroke="#000" stroke-width="1.2"/>
<line x1="602.27" y1="446.23" x2="604.14" y2="450.38" stroke="#000" stroke-width="1.2"/>
<line x1="617.01" y1="317.1" x2="619.93" y2="313.61" stroke="#000" stroke-width="1.2"/>
<line x1="604.84" y1="399.38" x2="608.52" y2="402.06" stroke="#000" stroke-width="1.2"/>
<line x1="598.48" y1="428.72" x2="600.6" y2="432.74" stroke="#000" stroke-width="1.2"/>
<line x1="520.78" y1="384.04" x2="516.33" y2="384.97" stroke="#000" stroke-width="1.2"/>
<line x1="594.24" y1="323.5" x2="596.24" y2="319.42" stroke="#000" stroke-width="1.2"/>
<line x1="572.42" y1="336.19" x2="572.75" y2="331.65" stroke="#000" stroke-width="1.2"/>
<line x1="585.47" y1="434.43" x2="586.62" y2="438.83" stroke="#000" stroke-width="1.2"/>
<line x1="605.95" y1="330.33" x2="608.87" y2="326.84" stroke="#000" stroke-width="1.2"/>
<line x1="574.22" y1="436.81" x2="574.55" y2="441.35" stroke="#000" stroke-width="1.2"/>
<path d="M531.76 371.81 L531.76 370.49 L531.8 369.16 L531.89 367.84 L532.02 366.51 L532.21 365.19 L532.44 363.87 L532.71 362.55 L533.04 361.25 L533.41 359.95 L533.82 358.66 L534.28 357.38 L534.79 356.12 L535.34 354.88 L535.94 353.65 L536.58 352.44 L537.27 351.25 L537.99 350.08 L538.76 348.93 L539.58 347.81 L540.43 346.72 L541.32 345.66 L542.25 344.62 L543.22 343.61 L544.22 342.64 L545.27 341.7 L546.34 340.8 L547.45 339.93 L548.59 339.09 L549.77 338.3 L550.97 337.55 L552.2 336.84 L553.46 336.17 L554.74 335.54 L556.05 334.95 L557.38 334.42 L558.74 333.92 L560.11 333.48 L561.5 333.08 L562.9 332.72 L564.32 332.42 L565.76 332.17 L567.2 331.96 L568.66 331.81 L570.12 331.71 L571.59 331.66 L573.06 331.66 L574.53 331.71 L576.01 331.81 L577.48 331.96 L578.96 332.17 L580.42 332.43 L581.88 332.74 L583.33 333.1 L584.77 333.51 L586.2 333.98 L587.62 334.49 L589.02 335.06 L590.4 335.67 L591.76 336.34 L593.1 337.05 L594.42 337.81 L595.71 338.62 L596.98 339.47 L598.22 340.37 L599.43 341.32 L600.61 342.31 L601.75 343.34 L602.87 344.41 L603.94 345.53 L604.98 346.68 L605.98 347.87 L606.94 349.1 L607.86 350.36 L608.73 351.66 L609.56 352.99 L610.35 354.35 L611.09 355.75 L611.78 357.16 L612.42 358.61 L613.02 360.08 L613.56 361.57 L614.05 363.09 L614.49 364.62 L614.88 366.17 L615.21 367.74 L615.49 369.32 L615.71 370.91 L615.88 372.51 L615.99 374.12 L616.05 375.74 L616.05 377.36 L615.99 378.99 L615.87 380.61 L615.7 382.23 L615.48 383.85 L615.19 385.47 L614.85 387.07 L614.45 388.67 L614 390.25 L613.49 391.82 L612.92 393.38 L612.3 394.91 L611.62 396.43 L610.89 397.93 L610.11 399.4 L609.27 400.85 L608.38 402.27 L607.45 403.66 L606.46 405.02 L605.42 406.34 L604.33 407.64 L603.2 408.89 L602.02 410.11 L600.8 411.29 L599.54 412.43 L598.23 413.53 L596.89 414.58 L595.5 415.58 L594.08 416.54 L592.62 417.45 L591.13 418.31 L589.61 419.12 L588.06 419.88 L586.48 420.58 L584.87 421.23 L583.24 421.83 L581.58 422.36 L579.9 422.84 L578.21 423.27 L576.5 423.63 L574.77 423.94 L573.03 424.18 L571.28 424.36 L569.52 424.49 L567.75 424.55 L565.98 424.55 L564.21 424.49 L562.43 424.36 L560.66 424.18 L558.9 423.93 L557.14 423.62 L555.38 423.25 L553.64 422.81 L551.91 422.32 L550.2 421.76 L548.51 421.15 L546.83 420.47 L545.18 419.73 L543.55 418.94 L541.94 418.09 L540.36 417.18 L538.82 416.21 L537.3 415.19 L535.82 414.12 L534.37 412.99 L532.97 411.81 L531.6 410.58 L530.27 409.3 L528.99 407.97 L527.75 406.59 L526.56 405.18 L525.41 403.71 L524.32 402.21 L523.27 400.66 L522.28 399.08 L521.35 397.46 L520.47 395.81 L519.64 394.12 L518.88 392.41 L518.17 390.66 L517.52 388.89 L516.94 387.09 L516.41 385.27 L515.95 383.43 L515.55 381.57 L515.22 379.7 L514.95 377.81 L514.75 375.91 L514.62 374 L514.55 372.09 L514.54 370.17 L514.61 368.25 L514.74 366.32 L514.94 364.4 L515.21 362.49 L515.54 360.58 L515.94 358.68 L516.41 356.8 L516.94 354.92 L517.54 353.07 L518.21 351.23 L518.94 349.42 L519.73 347.63 L520.59 345.86 L521.51 344.12 L522.49 342.41 L523.53 340.74 L524.64 339.1 L525.8 337.49 L527.01 335.93 L528.29 334.41 L529.62 332.92 L531 331.49 L532.43 330.1 L533.91 328.76 L535.45 327.47 L537.02 326.23 L538.65 325.04 L540.31 323.91 L542.02 322.84 L543.77 321.83 L545.55 320.87 L547.37 319.98 L549.22 319.15 L551.11 318.38 L553.02 317.68 L554.95 317.05 L556.92 316.48 L558.9 315.98 L560.9 315.55 L562.92 315.19 L564.96 314.89 L567.01 314.67 L569.06 314.52 L571.13 314.44 L573.2 314.44 L575.27 314.5 L577.34 314.64 L579.41 314.85 L581.47 315.14 L583.53 315.49 L585.57 315.92 L587.61 316.42 L589.62 316.99 L591.62 317.63 L593.6 318.34 L595.55 319.13 L597.48 319.98 L599.39 320.9 L601.26 321.88 L603.1 322.94 L604.9 324.05 L606.67 325.24 L608.4 326.48 L610.08 327.79 L611.72 329.15 L613.32 330.58 L614.86 332.06 L616.36 333.6 L617.81 335.19 L619.2 336.83 L620.53 338.52 L621.81 340.27 L623.02 342.05 L624.18 343.88 L625.27 345.76 L626.3 347.67 L627.26 349.62 L628.16 351.61 L628.98 353.63 L629.74 355.68 L630.43 357.76 L631.04 359.86 L631.58 361.99 L632.05 364.14 L632.44 366.3 L632.76 368.49 L633 370.68 L633.17 372.89 L633.26 375.1 L633.27 377.32 L633.2 379.54 L633.06 381.76 L632.84 383.98 L632.54 386.19 L632.17 388.39 L631.71 390.59 L631.18 392.76 L630.58 394.93 L629.89 397.07 L629.13 399.19 L628.3 401.28 L627.4 403.35 L626.42 405.39 L625.37 407.4 L624.24 409.37 L623.05 411.3 L621.79 413.2 L620.46 415.05 L619.07 416.85 L617.61 418.61 L616.09 420.32 L614.51 421.98 L612.87 423.59 L611.17 425.14 L609.42 426.63 L607.61 428.06 L605.75 429.43 L603.85 430.73 L601.89 431.97 L599.89 433.15 L597.85 434.25 L595.77 435.29 L593.65 436.25 L591.49 437.14 L589.3 437.95 L587.09 438.69 L584.84 439.35 L582.57 439.94 L580.28 440.44 L577.96 440.87 L575.63 441.21 L573.29 441.48 L570.94 441.66 L568.57 441.76 L566.21 441.78 L563.84 441.72 L561.47 441.57 L559.1 441.34 L556.74 441.03 L554.39 440.63 L552.05 440.15 L549.72 439.6 L547.42 438.95 L545.13 438.23 L542.87 437.43 L540.63 436.55 L538.42 435.59 L536.24 434.55 L534.1 433.44 L532 432.25 L529.93 430.98 L527.91 429.64 L525.94 428.23 L524.01 426.75 L522.13 425.21 L520.3 423.59 L518.53 421.91 L516.82 420.17 L515.16 418.37 L513.57 416.5 L512.04 414.58 L510.57 412.61 L509.18 410.58 L507.85 408.51 L506.6 406.38 L505.42 404.21 L504.31 402 L503.28 399.75 L502.33 397.46 L501.45 395.13 L500.66 392.77 L499.95 390.38 L499.32 387.97 L498.78 385.53 L498.32 383.08 L497.94 380.6 L497.66 378.11 L497.45 375.61 L497.34 373.1 L497.31 370.58 L497.37 368.06 L497.52 365.54 L497.76 363.02 L498.08 360.51 L498.49 358.01 L498.99 355.53 L499.58 353.05 L500.25 350.6 L501.01 348.17 L501.86 345.76 L502.79 343.38 L503.8 341.04 L504.9 338.72 L506.07 336.44 L507.33 334.21 L508.67 332.01 L510.08 329.86 L511.57 327.76 L513.13 325.7 L514.77 323.7 L516.48 321.76 L518.25 319.88 L520.1 318.05 L522 316.29 L523.97 314.59 L526.01 312.96 L528.1 311.41 L530.24 309.92 L532.44 308.51 L534.69 307.17 L536.99 305.91 L539.33 304.73 L541.71 303.63 L544.14 302.61 L546.6 301.68 L549.1 300.83 L551.63 300.07 L554.18 299.39 L556.76 298.81 L559.37 298.31 L561.99 297.91 L564.63 297.59 L567.28 297.37 L569.94 297.24 L572.6 297.2 L575.27 297.26 L577.94 297.41 L580.61 297.65 L583.27 297.98 L585.92 298.41 L588.55 298.93 L591.17 299.54 L593.77 300.25 L596.35 301.04 L598.9 301.93 L601.42 302.91 L603.91 303.97 L606.36 305.12 L608.77 306.36 L611.15 307.68 L613.48 309.09 L615.76 310.58 L617.99 312.14 L620.16 313.79 L622.28 315.52 L624.34 317.31 L626.35 319.19 L628.28 321.13 L630.15 323.14 L631.95 325.22 L633.68 327.36 L635.34 329.56 L636.92 331.83 L638.42 334.15 L639.84 336.52 L641.18 338.94 L642.44 341.41 L643.61 343.93 L644.69 346.49 L645.69 349.09 L646.59 351.72 L647.41 354.39 L648.13 357.09 L648.75 359.82 L649.29 362.56 L649.72 365.33 L650.07 368.12 L650.31 370.92 L650.46 373.73 L650.51 376.54 L650.46 379.36 L650.31 382.18 L650.06 384.99 L649.72 387.8 L649.28 390.6 L648.74 393.38 L648.1 396.15 L647.37 398.9 L646.54 401.62 L645.61 404.31 L644.59 406.98 L643.48 409.61 L642.27 412.2 L640.98 414.75 L639.59 417.26 L638.11 419.72 L636.55 422.13 L634.91 424.49 L633.18 426.79 L631.37 429.04 L629.48 431.22 L627.51 433.33 L625.47 435.38 L623.36 437.36 L621.17 439.27 L618.92 441.1 L616.6 442.85 L614.22 444.52 L611.79 446.12 L609.29 447.62 L606.74 449.05 L604.14 450.38" fill="none" stroke="#000" stroke-width="1.5"/>
<line x1="526.63" y1="372.3" x2="521.63" y2="372.12" stroke="#000" stroke-width="1.5"/>
<line x1="545.11" y1="372.94" x2="530.32" y2="372.43" stroke="#000" stroke-width="1.5"/>
<text x="543" y="298.3" font-size="8.6" fill="#111" font-weight="bold" text-anchor="middle" stroke="#111" stroke-width="0.3">URR</text>
<text x="588.5" y="294.6" font-size="8.6" fill="#f01010" font-weight="bold" text-anchor="middle" stroke="#f01010" stroke-width="0.3">E6</text>
<text x="613.4" y="304.1" font-size="8.6" fill="#f01010" font-weight="bold" text-anchor="middle" stroke="#f01010" stroke-width="0.3">E7</text>
<text x="492.4" y="357.7" font-size="8.6" fill="#111" font-weight="bold" text-anchor="middle" stroke="#111" stroke-width="0.3">L1</text>
<text x="652.8" y="354.1" font-size="8.6" fill="#111" font-weight="bold" text-anchor="middle" stroke="#111" stroke-width="0.3">E1</text>
<text x="549.5" y="314" font-size="8.6" fill="#111" font-weight="bold" text-anchor="middle" stroke="#111" stroke-width="0.3">URR</text>
<text x="584.9" y="312.1" font-size="8.6" fill="#f01010" font-weight="bold" text-anchor="middle" stroke="#f01010" stroke-width="0.3">E6</text>
<text x="604.2" y="319.6" font-size="8.6" fill="#f01010" font-weight="bold" text-anchor="middle" stroke="#f01010" stroke-width="0.3">E7</text>
<text x="509.4" y="359.8" font-size="8.6" fill="#111" font-weight="bold" text-anchor="middle" stroke="#111" stroke-width="0.3">L1</text>
<text x="636.4" y="359" font-size="8.6" fill="#111" font-weight="bold" text-anchor="middle" stroke="#111" stroke-width="0.3">E1</text>
<text x="554.9" y="329.5" font-size="8.6" fill="#111" font-weight="bold" text-anchor="middle" stroke="#111" stroke-width="0.3">URR</text>
<text x="580.8" y="329.1" font-size="8.6" fill="#f01010" font-weight="bold" text-anchor="middle" stroke="#f01010" stroke-width="0.3">E6</text>
<text x="595.7" y="334" font-size="8.6" fill="#f01010" font-weight="bold" text-anchor="middle" stroke="#f01010" stroke-width="0.3">E7</text>
<text x="527" y="359.8" font-size="8.6" fill="#111" font-weight="bold" text-anchor="middle" stroke="#111" stroke-width="0.3">L1</text>
<text x="620.1" y="363" font-size="8.6" fill="#111" font-weight="bold" text-anchor="middle" stroke="#111" stroke-width="0.3">E1</text>
<text x="533.6" y="423.2" font-size="8.6" fill="#111" font-weight="bold" text-anchor="middle" stroke="#111" stroke-width="0.3">L2</text>
<text x="569.8" y="434.2" font-size="8.6" fill="#111" font-weight="bold" text-anchor="middle" stroke="#111" stroke-width="0.3">E5</text>
<text x="591" y="429" font-size="8.6" fill="#111" font-weight="bold" text-anchor="middle" stroke="#111" stroke-width="0.3">E4</text>
<text x="601" y="422" font-size="8.6" fill="#111" font-weight="bold" text-anchor="middle" stroke="#111" stroke-width="0.3">E2</text>
<text x="521.8" y="437.2" font-size="8.6" fill="#111" font-weight="bold" text-anchor="middle" stroke="#111" stroke-width="0.3">L2</text>
<text x="569.8" y="451.2" font-size="8.6" fill="#111" font-weight="bold" text-anchor="middle" stroke="#111" stroke-width="0.3">E5</text>
<text x="597.9" y="444.2" font-size="8.6" fill="#111" font-weight="bold" text-anchor="middle" stroke="#111" stroke-width="0.3">E4</text>
<text x="610.2" y="436" font-size="8.6" fill="#111" font-weight="bold" text-anchor="middle" stroke="#111" stroke-width="0.3">E2</text>
<text x="630.3" y="442.2" font-size="8.6" fill="#111" font-weight="bold" text-anchor="middle" stroke="#111" stroke-width="0.3">E2</text>
<path d="M464.8 465.8 L477.4 465.8 L477.1 464.3 Q479.6 466.9 480 468.1 Q479.6 469.3 477.1 471.9 L477.4 470.4 L464.8 470.4Z" fill="#00ffff" stroke="#111" stroke-width="1.25" stroke-linejoin="round"/>
<path d="M479.8 465.8 L493.3 465.8 L493 464.3 Q495.5 466.9 495.9 468.1 Q495.5 469.3 493 471.9 L493.3 470.4 L479.8 470.4 Q481 469.6 481.2 468.1 Q481 466.6 479.8 465.8Z" fill="#ffa500" stroke="#111" stroke-width="1.25" stroke-linejoin="round"/>
<path d="M495.7 465.8 L560.3 465.8 L560 464.3 Q562.5 466.9 562.9 468.1 Q562.5 469.3 560 471.9 L560.3 470.4 L495.7 470.4 Q496.9 469.6 497.1 468.1 Q496.9 466.6 495.7 465.8Z" fill="#ffa500" stroke="#111" stroke-width="1.25" stroke-linejoin="round"/>
<path d="M562.7 465.8 L626.5 465.8 L626.2 464.3 Q628.7 466.9 629.1 468.1 Q628.7 469.3 626.2 471.9 L626.5 470.4 L562.7 470.4 Q563.9 469.6 564.1 468.1 Q563.9 466.6 562.7 465.8Z" fill="#ffa500" stroke="#111" stroke-width="1.25" stroke-linejoin="round"/>
<path d="M628.9 465.8 L655.5 465.8 L655.2 464.3 Q657.7 466.9 658.1 468.1 Q657.7 469.3 655.2 471.9 L655.5 470.4 L628.9 470.4 Q630.1 469.6 630.3 468.1 Q630.1 466.6 628.9 465.8Z" fill="#ffa500" stroke="#111" stroke-width="1.25" stroke-linejoin="round"/>
<path d="M657.9 465.8 L696.7 465.8 L696.4 464.3 Q698.9 466.9 699.3 468.1 Q698.9 469.3 696.4 471.9 L696.7 470.4 L657.9 470.4 Q659.1 469.6 659.3 468.1 Q659.1 466.6 657.9 465.8Z" fill="#00ffff" stroke="#111" stroke-width="1.25" stroke-linejoin="round"/>
<line x1="534.65" y1="371.97" x2="484.13" y2="456.08" stroke="#544d4b" stroke-width="1.05" stroke-dasharray="4 3"/>
<path d="M481.3 460.8 L482.25 452.04 L484.39 455.66 L488.59 455.85Z" fill="#544d4b"/>
<line x1="602.49" y1="446.73" x2="651.38" y2="459.42" stroke="#544d4b" stroke-width="1.05" stroke-dasharray="4 3"/>
<path d="M656.7 460.8 L648.03 462.37 L650.89 459.29 L649.89 455.21Z" fill="#544d4b"/>
<text x="545" y="485.6" font-size="8.3" fill="#000" font-weight="normal" text-anchor="end" stroke="#000" stroke-width="0.12">Chr17:36095602_HPV16:5983</text>
<text x="715.5" y="485.3" font-size="8.3" fill="#000" font-weight="normal" text-anchor="end" stroke="#000" stroke-width="0.12">HPV16:3408_Chr17:36095944</text>
<path d="M197.38 648.57 L196.1 648.46 L194.82 648.31 L193.54 648.11 L192.28 647.87 L191.02 647.59 L189.78 647.26 L188.55 646.9 L187.33 646.48 L186.12 646.03 L184.93 645.54 L183.76 645 L182.61 644.43 L181.48 643.81 L180.37 643.16 L179.28 642.47 L178.22 641.74 L177.19 640.98 L176.18 640.18 L175.2 639.34 L174.25 638.48 L173.33 637.58 L172.44 636.64 L171.58 635.68 L170.76 634.69 L169.97 633.68 L169.22 632.63 L168.5 631.56 L167.82 630.47 L167.18 629.35 L166.58 628.21 L166.02 627.06 L165.5 625.88 L165.02 624.69 L164.58 623.48 L164.18 622.25 L163.82 621.01 L163.51 619.77 L163.24 618.51 L163.02 617.24 L162.84 615.96 L162.7 614.68 L162.61 613.4 L162.56 612.11 L162.55 610.83 L162.59 609.54 L162.68 608.26 L162.81 606.98 L162.98 605.7 L163.2 604.43 L163.46 603.17 L163.76 601.92 L164.11 600.68 L164.5 599.45 L164.93 598.24 L165.4 597.04 L165.92 595.86 L166.47 594.7 L167.07 593.56 L167.7 592.44 L168.37 591.34 L169.08 590.27 L169.83 589.22 L170.61 588.2 L171.42 587.2 L172.27 586.23 L173.16 585.3 L174.07 584.39 L175.02 583.52 L175.99 582.68 L177 581.87 L178.03 581.1 L179.08 580.37 L180.16 579.67 L181.27 579.01 L182.4 578.39 L183.54 577.8 L184.71 577.26 L185.9 576.76 L187.1 576.3 L188.32 575.88 L189.55 575.5 L190.79 575.17 L192.04 574.88 L193.31 574.63 L194.58 574.42 L195.85 574.26 L197.14 574.15 L198.42 574.08 L199.71 574.05 L201 574.07 L202.28 574.13 L203.56 574.24 L204.84 574.39 L206.11 574.58 L207.38 574.82 L208.64 575.1 L209.88 575.42 L211.11 575.79 L212.33 576.2 L213.54 576.65 L214.73 577.15 L215.9 577.68 L217.05 578.25 L218.18 578.87 L219.29 579.52 L220.38 580.21 L221.44 580.94 L222.48 581.7 L223.49 582.5 L224.47 583.33 L225.42 584.2 L226.34 585.1 L227.23 586.02 L228.09 586.98 L228.92 587.97 L229.71 588.99 L230.46 590.03 L231.18 591.1 L231.86 592.2 L232.5 593.31 L233.1 594.45 L233.66 595.61 L234.19 596.78 L234.67 597.98 L235.11 599.19 L235.51 600.41 L235.87 601.65 L236.18 602.89 L236.45 604.15 L236.68 605.42 L236.86 606.69 L237 607.97 L237.09 609.26 L237.14 610.54 L237.15 611.83 L237.11 613.12 L237.02 614.4 L236.9 615.68 L236.73 616.96 L236.51 618.23 L236.25 619.49 L235.95 620.74 L235.6 621.98 L235.22 623.21 L234.79 624.42 L234.31 625.62 L233.8 626.8 L233.25 627.96 L232.65 629.1 L232.02 630.22 L231.35 631.32 L230.64 632.4 L229.9 633.45 L229.12 634.47 L228.3 635.47 L227.45 636.44 L226.57 637.37 L225.66 638.28 L224.71 639.15 L223.74 640 L222.74 640.8 L221.71 641.57 L220.65 642.31 L219.57 643.01 L218.47 643.67 L217.34 644.29 L216.19 644.88 L215.03 645.42 L213.84 645.93 L212.64 646.39 L211.42 646.81 L210.19 647.19" fill="none" stroke="#ffa200" stroke-width="2.8"/>
<path d="M174.25 572.77 L175.54 571.95 L176.85 571.17 L178.19 570.43 L179.55 569.74 L180.94 569.09 L182.35 568.49 L183.77 567.93 L185.21 567.42 L186.67 566.97 L188.14 566.55 L189.63 566.19 L191.13 565.88 L192.63 565.62 L194.15 565.4 L195.67 565.24 L197.19 565.13 L198.72 565.06 L200.25 565.05 L201.78 565.09 L203.31 565.18 L202.88 570.86 L201.54 570.79 L200.2 570.75 L198.86 570.76 L197.52 570.82 L196.18 570.92 L194.85 571.06 L193.52 571.25 L192.2 571.48 L190.89 571.75 L189.59 572.07 L188.29 572.43 L187.02 572.83 L185.75 573.28 L184.5 573.76 L183.27 574.29 L182.05 574.86 L180.86 575.47 L179.68 576.11 L178.53 576.8 L177.4 577.52Z" fill="url(#g59)"/>
<path d="M177.4 577.52 L178.53 576.8 L179.68 576.11 L180.86 575.47 L182.05 574.86 L183.27 574.29 L184.5 573.76 L185.75 573.28 L187.02 572.83 L188.29 572.43 L189.59 572.07 L190.89 571.75 L192.2 571.48 L193.52 571.25 L194.85 571.06 L196.18 570.92 L197.52 570.82 L198.86 570.76 L200.2 570.75 L201.54 570.79 L202.88 570.86" fill="none" stroke="#000" stroke-width="1.15"/>
<path d="M175.08 574.02 L176.32 573.22 L177.6 572.47 L178.89 571.75 L180.21 571.08 L181.55 570.46 L182.91 569.88 L184.29 569.34 L185.69 568.85 L187.1 568.4 L188.52 568.01 L189.96 567.65 L191.41 567.35 L192.87 567.1 L194.33 566.89 L195.8 566.73 L197.28 566.62 L198.76 566.56 L200.24 566.55 L201.72 566.59 L203.19 566.67" fill="none" stroke="rgba(45,35,120,0.32)" stroke-width="1.5"/>
<path d="M203.31 565.18 L204.77 565.31 L206.23 565.49 L207.68 565.72 L209.12 565.99 L210.56 566.3 L211.98 566.67 L213.39 567.07 L214.79 567.53 L216.17 568.02 L217.54 568.56 L218.89 569.15 L220.22 569.77 L217.71 574.89 L216.54 574.34 L215.36 573.83 L214.16 573.36 L212.95 572.92 L211.72 572.53 L210.49 572.17 L209.24 571.85 L207.98 571.57 L206.71 571.33 L205.44 571.14 L204.16 570.98 L202.88 570.86Z" fill="url(#g60)"/>
<path d="M202.88 570.86 L204.16 570.98 L205.44 571.14 L206.71 571.33 L207.98 571.57 L209.24 571.85 L210.49 572.17 L211.72 572.53 L212.95 572.92 L214.16 573.36 L215.36 573.83 L216.54 574.34 L217.71 574.89" fill="none" stroke="#000" stroke-width="1.15"/>
<path d="M203.19 566.67 L204.61 566.8 L206.02 566.98 L207.42 567.2 L208.82 567.46 L210.21 567.76 L211.59 568.11 L212.95 568.51 L214.31 568.95 L215.64 569.43 L216.97 569.95 L218.27 570.51 L219.56 571.12" fill="none" stroke="rgba(45,35,120,0.32)" stroke-width="1.5"/>
<path d="M220.22 569.77 L221.46 570.4 L222.68 571.07 L223.88 571.78 L225.07 572.52 L226.22 573.3 L227.36 574.11 L228.46 574.95 L229.55 575.83 L225.89 580.2 L224.94 579.43 L223.97 578.69 L222.98 577.98 L221.96 577.3 L220.93 576.65 L219.87 576.03 L218.8 575.44 L217.71 574.89Z" fill="url(#g61)"/>
<path d="M217.71 574.89 L218.8 575.44 L219.87 576.03 L220.93 576.65 L221.96 577.3 L222.98 577.98 L223.97 578.69 L224.94 579.43 L225.89 580.2" fill="none" stroke="#000" stroke-width="1.15"/>
<path d="M219.56 571.12 L220.76 571.73 L221.94 572.38 L223.11 573.06 L224.25 573.78 L225.37 574.53 L226.47 575.31 L227.54 576.13 L228.59 576.98" fill="none" stroke="rgba(45,35,120,0.32)" stroke-width="1.5"/>
<path d="M229.55 575.83 L230.72 576.84 L231.85 577.89 L232.95 578.98 L234.01 580.1 L235.04 581.26 L236.02 582.45 L236.97 583.67 L237.87 584.93 L238.73 586.21 L239.55 587.52 L240.32 588.86 L241.05 590.22 L241.73 591.61 L242.37 593.02 L242.96 594.45 L243.5 595.9 L243.99 597.36 L244.43 598.85 L244.82 600.34 L245.16 601.85 L245.46 603.37 L245.7 604.89 L245.89 606.43 L246.03 607.97 L246.11 609.51 L246.15 611.05 L246.13 612.6 L246.07 614.14 L245.95 615.69 L245.78 617.22 L245.55 618.75 L245.28 620.27 L244.96 621.79 L244.59 623.29 L244.16 624.77 L243.69 626.24 L243.17 627.7 L242.6 629.14 L241.98 630.55 L241.32 631.95 L240.61 633.32 L239.85 634.67 L239.05 635.99 L238.2 637.29 L237.32 638.55 L232.7 635.2 L233.48 634.09 L234.22 632.96 L234.92 631.8 L235.59 630.62 L236.21 629.41 L236.79 628.19 L237.34 626.95 L237.83 625.69 L238.29 624.41 L238.71 623.12 L239.08 621.82 L239.41 620.5 L239.69 619.17 L239.93 617.84 L240.12 616.5 L240.27 615.15 L240.38 613.8 L240.44 612.45 L240.45 611.09 L240.42 609.74 L240.34 608.38 L240.22 607.03 L240.05 605.69 L239.84 604.35 L239.59 603.02 L239.29 601.7 L238.94 600.38 L238.55 599.09 L238.12 597.8 L237.65 596.53 L237.13 595.28 L236.58 594.04 L235.98 592.83 L235.34 591.63 L234.66 590.46 L233.94 589.31 L233.19 588.18 L232.4 587.08 L231.57 586.01 L230.71 584.96 L229.81 583.95 L228.88 582.96 L227.91 582.01 L226.92 581.09 L225.89 580.2Z" fill="url(#g62)"/>
<path d="M225.89 580.2 L226.92 581.09 L227.91 582.01 L228.88 582.96 L229.81 583.95 L230.71 584.96 L231.57 586.01 L232.4 587.08 L233.19 588.18 L233.94 589.31 L234.66 590.46 L235.34 591.63 L235.98 592.83 L236.58 594.04 L237.13 595.28 L237.65 596.53 L238.12 597.8 L238.55 599.09 L238.94 600.38 L239.29 601.7 L239.59 603.02 L239.84 604.35 L240.05 605.69 L240.22 607.03 L240.34 608.38 L240.42 609.74 L240.45 611.09 L240.44 612.45 L240.38 613.8 L240.27 615.15 L240.12 616.5 L239.93 617.84 L239.69 619.17 L239.41 620.5 L239.08 621.82 L238.71 623.12 L238.29 624.41 L237.83 625.69 L237.34 626.95 L236.79 628.19 L236.21 629.41 L235.59 630.62 L234.92 631.8 L234.22 632.96 L233.48 634.09 L232.7 635.2" fill="none" stroke="#000" stroke-width="1.15"/>
<path d="M228.59 576.98 L229.72 577.96 L230.81 578.97 L231.88 580.03 L232.91 581.11 L233.9 582.23 L234.85 583.39 L235.76 584.57 L236.64 585.78 L237.47 587.03 L238.26 588.29 L239.01 589.59 L239.71 590.91 L240.37 592.25 L240.99 593.61 L241.56 595 L242.08 596.4 L242.56 597.82 L242.99 599.25 L243.36 600.7 L243.7 602.16 L243.98 603.62 L244.21 605.1 L244.4 606.59 L244.53 608.08 L244.61 609.57 L244.65 611.06 L244.63 612.56 L244.57 614.05 L244.45 615.55 L244.29 617.03 L244.07 618.51 L243.81 619.98 L243.5 621.45 L243.14 622.9 L242.73 624.34 L242.27 625.76 L241.76 627.17 L241.21 628.56 L240.62 629.93 L239.97 631.28 L239.28 632.61 L238.55 633.91 L237.78 635.19 L236.96 636.45 L236.1 637.67" fill="none" stroke="rgba(45,35,120,0.32)" stroke-width="1.5"/>
<path d="M237.32 638.55 L236.47 639.68 L235.58 640.79 L234.67 641.87 L233.72 642.92 L232.74 643.94 L231.72 644.93 L230.68 645.89 L229.61 646.82 L228.51 647.71 L227.39 648.57 L226.24 649.39 L225.06 650.18 L223.86 650.94 L222.64 651.65 L221.4 652.33 L218.75 647.28 L219.84 646.69 L220.91 646.06 L221.96 645.4 L222.99 644.71 L224 643.99 L224.99 643.23 L225.95 642.45 L226.89 641.64 L227.8 640.8 L228.69 639.93 L229.55 639.03 L230.38 638.11 L231.18 637.17 L231.96 636.2 L232.7 635.2Z" fill="url(#g63)"/>
<path d="M232.7 635.2 L231.96 636.2 L231.18 637.17 L230.38 638.11 L229.55 639.03 L228.69 639.93 L227.8 640.8 L226.89 641.64 L225.95 642.45 L224.99 643.23 L224 643.99 L222.99 644.71 L221.96 645.4 L220.91 646.06 L219.84 646.69 L218.75 647.28" fill="none" stroke="#000" stroke-width="1.15"/>
<path d="M236.1 637.67 L235.28 638.77 L234.43 639.84 L233.54 640.88 L232.62 641.9 L231.67 642.88 L230.69 643.84 L229.68 644.77 L228.65 645.67 L227.59 646.53 L226.5 647.36 L225.38 648.16 L224.25 648.92 L223.09 649.65 L221.9 650.35 L220.7 651" fill="none" stroke="rgba(45,35,120,0.32)" stroke-width="1.5"/>
<path d="M221.4 652.33 L220.22 652.93 L219.03 653.49 L217.82 654.02 L216.6 654.52 L215.36 654.98 L214.11 655.4 L212.85 655.79 L211.57 656.14 L210.13 650.63 L211.25 650.32 L212.35 649.98 L213.45 649.6 L214.53 649.2 L215.61 648.77 L216.67 648.3 L217.71 647.81 L218.75 647.28Z" fill="url(#g64)"/>
<path d="M218.75 647.28 L217.71 647.81 L216.67 648.3 L215.61 648.77 L214.53 649.2 L213.45 649.6 L212.35 649.98 L211.25 650.32 L210.13 650.63" fill="none" stroke="#000" stroke-width="1.15"/>
<path d="M220.7 651 L219.56 651.58 L218.41 652.13 L217.24 652.64 L216.05 653.12 L214.86 653.56 L213.65 653.97 L212.42 654.35 L211.19 654.69" fill="none" stroke="rgba(45,35,120,0.32)" stroke-width="1.5"/>
<path d="M211.57 656.14 L210.4 656.43 L209.22 656.69 L208.03 656.92 L206.84 657.12 L205.64 657.29 L204.44 657.42 L203.23 657.53 L202.82 651.84 L203.87 651.75 L204.93 651.63 L205.98 651.48 L207.02 651.31 L208.07 651.11 L209.1 650.88 L210.13 650.63Z" fill="url(#g65)"/>
<path d="M210.13 650.63 L209.1 650.88 L208.07 651.11 L207.02 651.31 L205.98 651.48 L204.93 651.63 L203.87 651.75 L202.82 651.84" fill="none" stroke="#000" stroke-width="1.15"/>
<path d="M211.19 654.69 L210.06 654.97 L208.91 655.22 L207.77 655.45 L206.61 655.64 L205.45 655.8 L204.29 655.93 L203.12 656.03" fill="none" stroke="rgba(45,35,120,0.32)" stroke-width="1.5"/>
<path d="M203.23 657.53 L201.92 657.6 L200.6 657.64 L199.28 657.65 L197.96 657.61 L196.64 657.54 L195.33 657.43 L194.01 657.28 L194.73 651.63 L195.88 651.76 L197.04 651.85 L198.19 651.92 L199.35 651.95 L200.51 651.94 L201.66 651.91 L202.82 651.84Z" fill="url(#g66)"/>
<path d="M202.82 651.84 L201.66 651.91 L200.51 651.94 L199.35 651.95 L198.19 651.92 L197.04 651.85 L195.88 651.76 L194.73 651.63" fill="none" stroke="#000" stroke-width="1.15"/>
<path d="M203.12 656.03 L201.85 656.11 L200.57 656.14 L199.3 656.15 L198.02 656.11 L196.74 656.04 L195.47 655.94 L194.2 655.79" fill="none" stroke="rgba(45,35,120,0.32)" stroke-width="1.5"/>
<path d="M189.13 656.39 L187.64 656.01 L186.16 655.58 L184.7 655.1 L183.25 654.57 L181.82 654 L180.42 653.37 L179.03 652.7 L177.67 651.99 L176.33 651.23 L175.01 650.43 L173.73 649.58 L172.47 648.69 L171.25 647.76 L170.05 646.79 L168.89 645.78 L167.76 644.73 L166.67 643.64 L165.62 642.52 L164.6 641.37 L163.62 640.18 L162.68 638.96 L161.79 637.71 L160.93 636.43 L160.12 635.12 L159.35 633.79 L158.63 632.43 L157.95 631.05 L157.32 629.64 L156.73 628.22 L156.2 626.78 L155.71 625.32 L155.27 623.84 L154.88 622.35 L154.54 620.85 L160.11 619.68 L160.41 621 L160.76 622.3 L161.14 623.6 L161.57 624.88 L162.04 626.14 L162.55 627.39 L163.11 628.62 L163.7 629.83 L164.34 631.03 L165.01 632.2 L165.72 633.34 L166.47 634.46 L167.26 635.56 L168.08 636.63 L168.94 637.67 L169.83 638.69 L170.76 639.67 L171.71 640.62 L172.7 641.54 L173.72 642.42 L174.77 643.28 L175.84 644.09 L176.95 644.87 L178.07 645.61 L179.22 646.32 L180.4 646.99 L181.59 647.61 L182.81 648.2 L184.04 648.75 L185.29 649.25 L186.56 649.71 L187.84 650.13 L189.14 650.51 L190.45 650.85Z" fill="url(#g67)"/>
<path d="M190.45 650.85 L189.14 650.51 L187.84 650.13 L186.56 649.71 L185.29 649.25 L184.04 648.75 L182.81 648.2 L181.59 647.61 L180.4 646.99 L179.22 646.32 L178.07 645.61 L176.95 644.87 L175.84 644.09 L174.77 643.28 L173.72 642.42 L172.7 641.54 L171.71 640.62 L170.76 639.67 L169.83 638.69 L168.94 637.67 L168.08 636.63 L167.26 635.56 L166.47 634.46 L165.72 633.34 L165.01 632.2 L164.34 631.03 L163.7 629.83 L163.11 628.62 L162.55 627.39 L162.04 626.14 L161.57 624.88 L161.14 623.6 L160.76 622.3 L160.41 621 L160.11 619.68" fill="none" stroke="#000" stroke-width="1.15"/>
<path d="M189.48 654.93 L188.03 654.56 L186.6 654.15 L185.19 653.68 L183.79 653.17 L182.41 652.61 L181.04 652.01 L179.7 651.36 L178.38 650.67 L177.09 649.94 L175.82 649.16 L174.58 648.34 L173.36 647.48 L172.17 646.58 L171.02 645.64 L169.89 644.66 L168.8 643.65 L167.75 642.6 L166.73 641.51 L165.74 640.4 L164.79 639.25 L163.89 638.07 L163.02 636.86 L162.19 635.62 L161.41 634.35 L160.66 633.06 L159.96 631.75 L159.31 630.41 L158.7 629.05 L158.13 627.67 L157.61 626.28 L157.14 624.86 L156.71 623.44 L156.33 622 L156 620.54" fill="none" stroke="rgba(45,35,120,0.32)" stroke-width="1.5"/>
<path d="M154.54 620.85 L154.25 619.35 L154.01 617.83 L153.82 616.31 L153.68 614.79 L153.59 613.26 L153.55 611.73 L153.56 610.19 L153.63 608.66 L153.74 607.13 L153.91 605.61 L154.12 604.09 L154.39 602.58 L154.7 601.08 L155.07 599.59 L155.48 598.12 L155.94 596.66 L156.45 595.21 L157.01 593.79 L157.62 592.38 L158.27 590.99 L158.96 589.63 L159.7 588.28 L160.49 586.97 L161.32 585.68 L162.19 584.42 L163.1 583.19 L164.05 581.99 L165.04 580.82 L166.07 579.68 L167.14 578.58 L168.24 577.52 L169.38 576.49 L170.55 575.5 L171.75 574.55 L172.99 573.64 L174.25 572.77 L177.4 577.52 L176.29 578.28 L175.21 579.08 L174.16 579.91 L173.13 580.78 L172.13 581.68 L171.17 582.62 L170.23 583.58 L169.33 584.58 L168.46 585.6 L167.63 586.65 L166.83 587.73 L166.06 588.84 L165.34 589.97 L164.65 591.12 L164 592.3 L163.39 593.5 L162.82 594.71 L162.28 595.95 L161.8 597.2 L161.35 598.47 L160.94 599.75 L160.58 601.04 L160.26 602.35 L159.98 603.66 L159.75 604.99 L159.56 606.32 L159.42 607.65 L159.32 608.99 L159.26 610.34 L159.25 611.68 L159.28 613.02 L159.36 614.36 L159.48 615.7 L159.65 617.04 L159.86 618.36 L160.11 619.68Z" fill="url(#g68)"/>
<path d="M160.11 619.68 L159.86 618.36 L159.65 617.04 L159.48 615.7 L159.36 614.36 L159.28 613.02 L159.25 611.68 L159.26 610.34 L159.32 608.99 L159.42 607.65 L159.56 606.32 L159.75 604.99 L159.98 603.66 L160.26 602.35 L160.58 601.04 L160.94 599.75 L161.35 598.47 L161.8 597.2 L162.28 595.95 L162.82 594.71 L163.39 593.5 L164 592.3 L164.65 591.12 L165.34 589.97 L166.06 588.84 L166.83 587.73 L167.63 586.65 L168.46 585.6 L169.33 584.58 L170.23 583.58 L171.17 582.62 L172.13 581.68 L173.13 580.78 L174.16 579.91 L175.21 579.08 L176.29 578.28 L177.4 577.52" fill="none" stroke="#000" stroke-width="1.15"/>
<path d="M156 620.54 L155.72 619.09 L155.49 617.62 L155.31 616.15 L155.17 614.68 L155.09 613.2 L155.05 611.71 L155.06 610.23 L155.13 608.75 L155.24 607.27 L155.4 605.8 L155.6 604.33 L155.86 602.87 L156.17 601.42 L156.52 599.98 L156.92 598.55 L157.37 597.13 L157.86 595.74 L158.4 594.35 L158.98 592.99 L159.61 591.65 L160.29 590.33 L161.01 589.03 L161.77 587.76 L162.57 586.51 L163.41 585.29 L164.29 584.1 L165.21 582.94 L166.17 581.81 L167.17 580.71 L168.2 579.64 L169.27 578.61 L170.37 577.62 L171.5 576.66 L172.66 575.74 L173.86 574.86 L175.08 574.02" fill="none" stroke="rgba(45,35,120,0.32)" stroke-width="1.5"/>
<line x1="190.45" y1="650.85" x2="189.13" y2="656.39" stroke="#000" stroke-width="1.3"/>
<line x1="160.11" y1="619.68" x2="154.54" y2="620.85" stroke="#000" stroke-width="1.3"/>
<line x1="202.88" y1="570.86" x2="203.31" y2="565.18" stroke="#000" stroke-width="1.3"/>
<line x1="210.13" y1="650.63" x2="211.57" y2="656.14" stroke="#000" stroke-width="1.3"/>
<line x1="177.4" y1="577.52" x2="174.25" y2="572.77" stroke="#000" stroke-width="1.3"/>
<line x1="225.89" y1="580.2" x2="229.55" y2="575.83" stroke="#000" stroke-width="1.3"/>
<line x1="202.82" y1="651.84" x2="203.23" y2="657.53" stroke="#000" stroke-width="1.3"/>
<line x1="218.75" y1="647.28" x2="221.4" y2="652.33" stroke="#000" stroke-width="1.3"/>
<line x1="217.71" y1="574.89" x2="220.22" y2="569.77" stroke="#000" stroke-width="1.3"/>
<line x1="194.73" y1="651.63" x2="194.01" y2="657.28" stroke="#000" stroke-width="1.3"/>
<line x1="232.7" y1="635.2" x2="237.32" y2="638.55" stroke="#000" stroke-width="1.3"/>
<line x1="177.4" y1="577.52" x2="174.25" y2="572.77" stroke="#000" stroke-width="1.3"/>
<path d="M174.25 572.77 L175.6 571.91 L176.97 571.1 L178.37 570.33 L179.8 569.61 L181.26 568.95 L182.73 568.33 L184.23 567.77 L185.74 567.25 L187.27 566.79 L188.81 566.38 L190.37 566.03 L191.94 565.73 L193.52 565.48 L195.11 565.29 L196.7 565.16 L198.3 565.08 L199.9 565.05 L201.49 565.08 L203.09 565.16 L204.68 565.3 L206.27 565.5 L207.85 565.75 L209.42 566.05 L210.98 566.41 L212.52 566.82 L214.05 567.28 L215.56 567.8 L217.06 568.37 L218.53 568.99 L219.98 569.66 L221.41 570.38 L222.81 571.14 L224.18 571.96 L225.53 572.82 L226.84 573.73 L228.13 574.69 L229.37 575.68 L230.59 576.72 L231.76 577.81 L232.9 578.93 L234 580.09 L235.06 581.29 L236.08 582.52 L237.05 583.79 L237.98 585.09 L238.86 586.42 L239.7 587.78 L240.49 589.17 L241.23 590.59 L241.92 592.03 L242.57 593.49 L243.16 594.98 L243.7 596.48 L244.18 598 L244.62 599.54 L245 601.09 L245.33 602.66 L245.6 604.23 L245.82 605.82 L245.98 607.41 L246.09 609 L246.14 610.6 L246.14 612.2 L246.09 613.79 L245.97 615.39 L245.81 616.98 L245.59 618.56 L245.31 620.13 L244.98 621.7 L244.59 623.25 L244.16 624.79 L243.67 626.31 L243.12 627.81 L242.53 629.3 L241.89 630.76 L241.19 632.2 L240.45 633.61 L239.65 635 L238.81 636.36 L237.93 637.69 L237 638.99 L236.02 640.25 L235 641.49 L233.94 642.68 L232.84 643.84 L231.7 644.96 L230.52 646.04 L229.3 647.07 L228.05 648.07 L226.77 649.02 L225.45 649.93 L224.1 650.79 L222.73 651.6 L221.33 652.37 L219.9 653.09 L218.44 653.75 L216.97 654.37 L215.47 654.93 L213.96 655.45 L212.43 655.91 L210.89 656.32 L209.33 656.67 L207.76 656.97 L206.18 657.22 L204.59 657.41 L203 657.54 L201.4 657.62 L199.8 657.65 L198.21 657.62 L196.61 657.54 L195.02 657.4 L193.43 657.2 L191.85 656.95 L190.28 656.65 L188.72 656.29 L187.18 655.88 L185.65 655.42 L184.14 654.9 L182.64 654.33 L181.17 653.71 L179.72 653.04 L178.29 652.32 L176.89 651.56 L175.52 650.74 L174.17 649.88 L172.86 648.97 L171.57 648.01 L170.33 647.02 L169.11 645.98 L167.94 644.89 L166.8 643.77 L165.7 642.61 L164.64 641.41 L163.62 640.18 L162.65 638.91 L161.72 637.61 L160.84 636.28 L160 634.92 L159.21 633.53 L158.47 632.11 L157.78 630.67 L157.13 629.21 L156.54 627.72 L156 626.22 L155.52 624.7 L155.08 623.16 L154.7 621.61 L154.37 620.04 L154.1 618.47 L153.88 616.88 L153.72 615.29 L153.61 613.7 L153.56 612.1 L153.56 610.5 L153.61 608.91 L153.73 607.31 L153.89 605.72 L154.11 604.14 L154.39 602.57 L154.72 601 L155.11 599.45 L155.54 597.91 L156.03 596.39 L156.58 594.89 L157.17 593.4 L157.81 591.94 L158.51 590.5 L159.25 589.09 L160.05 587.7 L160.89 586.34 L161.77 585.01 L162.7 583.71 L163.68 582.45 L164.7 581.21 L165.76 580.02 L166.86 578.86 L168 577.74 L169.18 576.66 L170.4 575.63 L171.65 574.63 L172.93 573.68 L174.25 572.77" fill="none" stroke="#000" stroke-width="1.6"/>
<line x1="197.71" y1="643.58" x2="196.83" y2="656.75" stroke="#000" stroke-width="1.3"/>
<line x1="208.51" y1="642.16" x2="212.62" y2="656.79" stroke="#000" stroke-width="1.3"/>
<text x="185.3" y="564.4" font-size="8.6" fill="#111" font-weight="bold" text-anchor="middle" stroke="#111" stroke-width="0.3">URR</text>
<text x="212" y="565.1" font-size="8.6" fill="#f01010" font-weight="bold" text-anchor="middle" stroke="#f01010" stroke-width="0.3">E6</text>
<text x="226.5" y="571.1" font-size="8.6" fill="#f01010" font-weight="bold" text-anchor="middle" stroke="#f01010" stroke-width="0.3">E7</text>
<text x="148" y="598.5" font-size="8.6" fill="#111" font-weight="bold" text-anchor="middle" stroke="#111" stroke-width="0.3">L1</text>
<text x="251.5" y="607.1" font-size="8.6" fill="#111" font-weight="bold" text-anchor="middle" stroke="#111" stroke-width="0.3">E1</text>
<text x="162.9" y="653.1" font-size="8.6" fill="#111" font-weight="bold" text-anchor="middle" stroke="#111" stroke-width="0.3">L2</text>
<text x="199.2" y="666.1" font-size="8.6" fill="#111" font-weight="bold" text-anchor="middle" stroke="#111" stroke-width="0.3">E5</text>
<text x="218.9" y="661.6" font-size="8.6" fill="#111" font-weight="bold" text-anchor="middle" stroke="#111" stroke-width="0.3">E4</text>
<text x="232.7" y="655.7" font-size="8.6" fill="#111" font-weight="bold" text-anchor="middle" stroke="#111" stroke-width="0.3">E2</text>
<line x1="282.3" y1="593.51" x2="263.49" y2="581.53" stroke="#000" stroke-width="1.6"/>
<line x1="342.34" y1="615.45" x2="364.85" y2="618.34" stroke="#000" stroke-width="1.6"/>
<path d="M278.84 591.31 L279.55 590.24 L280.28 589.21 L281.06 588.19 L281.87 587.21 L282.71 586.25 L283.59 585.32 L284.49 584.42 L285.43 583.55 L286.39 582.72 L287.38 581.92 L288.4 581.15 L289.45 580.42 L290.52 579.73 L291.61 579.07 L292.73 578.45 L293.86 577.87 L295.02 577.32 L296.19 576.82 L297.38 576.36 L298.58 575.94 L299.8 575.56 L301.03 575.22 L302.27 574.92 L303.52 574.67 L304.78 574.46 L306.04 574.29 L307.31 574.17 L308.59 574.09 L309.86 574.05 L311.14 574.06 L312.41 574.11 L313.68 574.2 L314.95 574.34 L316.21 574.52 L317.47 574.75 L318.72 575.01 L319.95 575.32 L321.18 575.67 L322.39 576.07 L323.59 576.5 L324.78 576.97 L325.94 577.49 L327.09 578.04 L328.22 578.64 L329.33 579.27 L330.42 579.94 L331.48 580.65 L332.52 581.39 L333.53 582.16 L334.51 582.98 L335.47 583.82 L336.39 584.7 L337.29 585.61 L338.16 586.54 L338.99 587.51 L339.79 588.5 L340.55 589.53 L341.28 590.57 L341.97 591.64 L342.63 592.74 L343.24 593.86 L343.82 594.99 L344.36 596.15 L344.86 597.32 L345.32 598.51 L345.74 599.72 L346.12 600.93 L346.45 602.17 L346.74 603.41 L346.99 604.66 L347.2 605.92 L347.37 607.18 L347.49 608.45 L347.56 609.72 L347.6 611 L347.59 612.28 L347.54 613.55 L347.44 614.82 L347.3 616.09" fill="none" stroke="#ffa200" stroke-width="2.8"/>
<path d="M284.7 572.77 L285.99 571.95 L287.3 571.17 L288.64 570.43 L290 569.74 L291.39 569.09 L292.8 568.49 L294.22 567.93 L295.66 567.42 L297.12 566.97 L298.59 566.55 L300.08 566.19 L301.58 565.88 L303.08 565.62 L304.6 565.4 L306.12 565.24 L307.64 565.13 L309.17 565.06 L310.7 565.05 L312.23 565.09 L313.76 565.18 L313.33 570.86 L311.99 570.79 L310.65 570.75 L309.31 570.76 L307.97 570.82 L306.63 570.92 L305.3 571.06 L303.97 571.25 L302.65 571.48 L301.34 571.75 L300.04 572.07 L298.74 572.43 L297.47 572.83 L296.2 573.28 L294.95 573.76 L293.72 574.29 L292.5 574.86 L291.31 575.47 L290.13 576.11 L288.98 576.8 L287.85 577.52Z" fill="url(#g69)"/>
<path d="M287.85 577.52 L288.98 576.8 L290.13 576.11 L291.31 575.47 L292.5 574.86 L293.72 574.29 L294.95 573.76 L296.2 573.28 L297.47 572.83 L298.74 572.43 L300.04 572.07 L301.34 571.75 L302.65 571.48 L303.97 571.25 L305.3 571.06 L306.63 570.92 L307.97 570.82 L309.31 570.76 L310.65 570.75 L311.99 570.79 L313.33 570.86" fill="none" stroke="#000" stroke-width="1.15"/>
<path d="M285.53 574.02 L286.77 573.22 L288.05 572.47 L289.34 571.75 L290.66 571.08 L292 570.46 L293.36 569.88 L294.74 569.34 L296.14 568.85 L297.55 568.4 L298.97 568.01 L300.41 567.65 L301.86 567.35 L303.32 567.1 L304.78 566.89 L306.25 566.73 L307.73 566.62 L309.21 566.56 L310.69 566.55 L312.17 566.59 L313.64 566.67" fill="none" stroke="rgba(45,35,120,0.32)" stroke-width="1.5"/>
<path d="M313.76 565.18 L315.22 565.31 L316.68 565.49 L318.13 565.72 L319.57 565.99 L321.01 566.3 L322.43 566.67 L323.84 567.07 L325.24 567.53 L326.62 568.02 L327.99 568.56 L329.34 569.15 L330.67 569.77 L328.16 574.89 L326.99 574.34 L325.81 573.83 L324.61 573.36 L323.4 572.92 L322.17 572.53 L320.94 572.17 L319.69 571.85 L318.43 571.57 L317.16 571.33 L315.89 571.14 L314.61 570.98 L313.33 570.86Z" fill="url(#g70)"/>
<path d="M313.33 570.86 L314.61 570.98 L315.89 571.14 L317.16 571.33 L318.43 571.57 L319.69 571.85 L320.94 572.17 L322.17 572.53 L323.4 572.92 L324.61 573.36 L325.81 573.83 L326.99 574.34 L328.16 574.89" fill="none" stroke="#000" stroke-width="1.15"/>
<path d="M313.64 566.67 L315.06 566.8 L316.47 566.98 L317.87 567.2 L319.27 567.46 L320.66 567.76 L322.04 568.11 L323.4 568.51 L324.76 568.95 L326.09 569.43 L327.42 569.95 L328.72 570.51 L330.01 571.12" fill="none" stroke="rgba(45,35,120,0.32)" stroke-width="1.5"/>
<path d="M330.67 569.77 L331.91 570.4 L333.13 571.07 L334.33 571.78 L335.52 572.52 L336.67 573.3 L337.81 574.11 L338.91 574.95 L340 575.83 L336.34 580.2 L335.39 579.43 L334.42 578.69 L333.43 577.98 L332.41 577.3 L331.38 576.65 L330.32 576.03 L329.25 575.44 L328.16 574.89Z" fill="url(#g71)"/>
<path d="M328.16 574.89 L329.25 575.44 L330.32 576.03 L331.38 576.65 L332.41 577.3 L333.43 577.98 L334.42 578.69 L335.39 579.43 L336.34 580.2" fill="none" stroke="#000" stroke-width="1.15"/>
<path d="M330.01 571.12 L331.21 571.73 L332.39 572.38 L333.56 573.06 L334.7 573.78 L335.82 574.53 L336.92 575.31 L337.99 576.13 L339.04 576.98" fill="none" stroke="rgba(45,35,120,0.32)" stroke-width="1.5"/>
<path d="M340 575.83 L341.17 576.84 L342.3 577.89 L343.4 578.98 L344.46 580.1 L345.49 581.26 L346.47 582.45 L347.42 583.67 L348.32 584.93 L349.18 586.21 L350 587.52 L350.77 588.86 L351.5 590.22 L352.18 591.61 L352.82 593.02 L353.41 594.45 L353.95 595.9 L354.44 597.36 L354.88 598.85 L355.27 600.34 L355.61 601.85 L355.91 603.37 L356.15 604.89 L356.34 606.43 L356.48 607.97 L356.56 609.51 L356.6 611.05 L356.58 612.6 L356.52 614.14 L356.4 615.69 L356.23 617.22 L356 618.75 L355.73 620.27 L355.41 621.79 L355.04 623.29 L354.61 624.77 L354.14 626.24 L353.62 627.7 L353.05 629.14 L352.43 630.55 L351.77 631.95 L351.06 633.32 L350.3 634.67 L349.5 635.99 L348.65 637.29 L347.77 638.55 L343.15 635.2 L343.93 634.09 L344.67 632.96 L345.37 631.8 L346.04 630.62 L346.66 629.41 L347.24 628.19 L347.79 626.95 L348.28 625.69 L348.74 624.41 L349.16 623.12 L349.53 621.82 L349.86 620.5 L350.14 619.17 L350.38 617.84 L350.57 616.5 L350.72 615.15 L350.83 613.8 L350.89 612.45 L350.9 611.09 L350.87 609.74 L350.79 608.38 L350.67 607.03 L350.5 605.69 L350.29 604.35 L350.04 603.02 L349.74 601.7 L349.39 600.38 L349 599.09 L348.57 597.8 L348.1 596.53 L347.58 595.28 L347.03 594.04 L346.43 592.83 L345.79 591.63 L345.11 590.46 L344.39 589.31 L343.64 588.18 L342.85 587.08 L342.02 586.01 L341.16 584.96 L340.26 583.95 L339.33 582.96 L338.36 582.01 L337.37 581.09 L336.34 580.2Z" fill="url(#g72)"/>
<path d="M336.34 580.2 L337.37 581.09 L338.36 582.01 L339.33 582.96 L340.26 583.95 L341.16 584.96 L342.02 586.01 L342.85 587.08 L343.64 588.18 L344.39 589.31 L345.11 590.46 L345.79 591.63 L346.43 592.83 L347.03 594.04 L347.58 595.28 L348.1 596.53 L348.57 597.8 L349 599.09 L349.39 600.38 L349.74 601.7 L350.04 603.02 L350.29 604.35 L350.5 605.69 L350.67 607.03 L350.79 608.38 L350.87 609.74 L350.9 611.09 L350.89 612.45 L350.83 613.8 L350.72 615.15 L350.57 616.5 L350.38 617.84 L350.14 619.17 L349.86 620.5 L349.53 621.82 L349.16 623.12 L348.74 624.41 L348.28 625.69 L347.79 626.95 L347.24 628.19 L346.66 629.41 L346.04 630.62 L345.37 631.8 L344.67 632.96 L343.93 634.09 L343.15 635.2" fill="none" stroke="#000" stroke-width="1.15"/>
<path d="M339.04 576.98 L340.17 577.96 L341.26 578.97 L342.33 580.03 L343.36 581.11 L344.35 582.23 L345.3 583.39 L346.21 584.57 L347.09 585.78 L347.92 587.03 L348.71 588.29 L349.46 589.59 L350.16 590.91 L350.82 592.25 L351.44 593.61 L352.01 595 L352.53 596.4 L353.01 597.82 L353.44 599.25 L353.81 600.7 L354.15 602.16 L354.43 603.62 L354.66 605.1 L354.85 606.59 L354.98 608.08 L355.06 609.57 L355.1 611.06 L355.08 612.56 L355.02 614.05 L354.9 615.55 L354.74 617.03 L354.52 618.51 L354.26 619.98 L353.95 621.45 L353.59 622.9 L353.18 624.34 L352.72 625.76 L352.21 627.17 L351.66 628.56 L351.07 629.93 L350.42 631.28 L349.73 632.61 L349 633.91 L348.23 635.19 L347.41 636.45 L346.55 637.67" fill="none" stroke="rgba(45,35,120,0.32)" stroke-width="1.5"/>
<path d="M347.77 638.55 L346.92 639.68 L346.03 640.79 L345.12 641.87 L344.17 642.92 L343.19 643.94 L342.17 644.93 L341.13 645.89 L340.06 646.82 L338.96 647.71 L337.84 648.57 L336.69 649.39 L335.51 650.18 L334.31 650.94 L333.09 651.65 L331.85 652.33 L329.2 647.28 L330.29 646.69 L331.36 646.06 L332.41 645.4 L333.44 644.71 L334.45 643.99 L335.44 643.23 L336.4 642.45 L337.34 641.64 L338.25 640.8 L339.14 639.93 L340 639.03 L340.83 638.11 L341.63 637.17 L342.41 636.2 L343.15 635.2Z" fill="url(#g73)"/>
<path d="M343.15 635.2 L342.41 636.2 L341.63 637.17 L340.83 638.11 L340 639.03 L339.14 639.93 L338.25 640.8 L337.34 641.64 L336.4 642.45 L335.44 643.23 L334.45 643.99 L333.44 644.71 L332.41 645.4 L331.36 646.06 L330.29 646.69 L329.2 647.28" fill="none" stroke="#000" stroke-width="1.15"/>
<path d="M346.55 637.67 L345.73 638.77 L344.88 639.84 L343.99 640.88 L343.07 641.9 L342.12 642.88 L341.14 643.84 L340.13 644.77 L339.1 645.67 L338.04 646.53 L336.95 647.36 L335.83 648.16 L334.7 648.92 L333.54 649.65 L332.35 650.35 L331.15 651" fill="none" stroke="rgba(45,35,120,0.32)" stroke-width="1.5"/>
<path d="M331.85 652.33 L330.67 652.93 L329.48 653.49 L328.27 654.02 L327.05 654.52 L325.81 654.98 L324.56 655.4 L323.3 655.79 L322.02 656.14 L320.58 650.63 L321.7 650.32 L322.8 649.98 L323.9 649.6 L324.98 649.2 L326.06 648.77 L327.12 648.3 L328.16 647.81 L329.2 647.28Z" fill="url(#g74)"/>
<path d="M329.2 647.28 L328.16 647.81 L327.12 648.3 L326.06 648.77 L324.98 649.2 L323.9 649.6 L322.8 649.98 L321.7 650.32 L320.58 650.63" fill="none" stroke="#000" stroke-width="1.15"/>
<path d="M331.15 651 L330.01 651.58 L328.86 652.13 L327.69 652.64 L326.5 653.12 L325.31 653.56 L324.1 653.97 L322.87 654.35 L321.64 654.69" fill="none" stroke="rgba(45,35,120,0.32)" stroke-width="1.5"/>
<path d="M322.02 656.14 L320.85 656.43 L319.67 656.69 L318.48 656.92 L317.29 657.12 L316.09 657.29 L314.89 657.42 L313.68 657.53 L313.27 651.84 L314.32 651.75 L315.38 651.63 L316.43 651.48 L317.47 651.31 L318.52 651.11 L319.55 650.88 L320.58 650.63Z" fill="url(#g75)"/>
<path d="M320.58 650.63 L319.55 650.88 L318.52 651.11 L317.47 651.31 L316.43 651.48 L315.38 651.63 L314.32 651.75 L313.27 651.84" fill="none" stroke="#000" stroke-width="1.15"/>
<path d="M321.64 654.69 L320.51 654.97 L319.36 655.22 L318.22 655.45 L317.06 655.64 L315.9 655.8 L314.74 655.93 L313.57 656.03" fill="none" stroke="rgba(45,35,120,0.32)" stroke-width="1.5"/>
<path d="M313.68 657.53 L312.37 657.6 L311.05 657.64 L309.73 657.65 L308.41 657.61 L307.09 657.54 L305.78 657.43 L304.46 657.28 L305.18 651.63 L306.33 651.76 L307.49 651.85 L308.64 651.92 L309.8 651.95 L310.96 651.94 L312.11 651.91 L313.27 651.84Z" fill="url(#g76)"/>
<path d="M313.27 651.84 L312.11 651.91 L310.96 651.94 L309.8 651.95 L308.64 651.92 L307.49 651.85 L306.33 651.76 L305.18 651.63" fill="none" stroke="#000" stroke-width="1.15"/>
<path d="M313.57 656.03 L312.3 656.11 L311.02 656.14 L309.75 656.15 L308.47 656.11 L307.19 656.04 L305.92 655.94 L304.65 655.79" fill="none" stroke="rgba(45,35,120,0.32)" stroke-width="1.5"/>
<path d="M299.58 656.39 L298.09 656.01 L296.61 655.58 L295.15 655.1 L293.7 654.57 L292.27 654 L290.87 653.37 L289.48 652.7 L288.12 651.99 L286.78 651.23 L285.46 650.43 L284.18 649.58 L282.92 648.69 L281.7 647.76 L280.5 646.79 L279.34 645.78 L278.21 644.73 L277.12 643.64 L276.07 642.52 L275.05 641.37 L274.07 640.18 L273.13 638.96 L272.24 637.71 L271.38 636.43 L270.57 635.12 L269.8 633.79 L269.08 632.43 L268.4 631.05 L267.77 629.64 L267.18 628.22 L266.65 626.78 L266.16 625.32 L265.72 623.84 L265.33 622.35 L264.99 620.85 L270.56 619.68 L270.86 621 L271.21 622.3 L271.59 623.6 L272.02 624.88 L272.49 626.14 L273 627.39 L273.56 628.62 L274.15 629.83 L274.79 631.03 L275.46 632.2 L276.17 633.34 L276.92 634.46 L277.71 635.56 L278.53 636.63 L279.39 637.67 L280.28 638.69 L281.21 639.67 L282.16 640.62 L283.15 641.54 L284.17 642.42 L285.22 643.28 L286.29 644.09 L287.4 644.87 L288.52 645.61 L289.67 646.32 L290.85 646.99 L292.04 647.61 L293.26 648.2 L294.49 648.75 L295.74 649.25 L297.01 649.71 L298.29 650.13 L299.59 650.51 L300.9 650.85Z" fill="url(#g77)"/>
<path d="M300.9 650.85 L299.59 650.51 L298.29 650.13 L297.01 649.71 L295.74 649.25 L294.49 648.75 L293.26 648.2 L292.04 647.61 L290.85 646.99 L289.67 646.32 L288.52 645.61 L287.4 644.87 L286.29 644.09 L285.22 643.28 L284.17 642.42 L283.15 641.54 L282.16 640.62 L281.21 639.67 L280.28 638.69 L279.39 637.67 L278.53 636.63 L277.71 635.56 L276.92 634.46 L276.17 633.34 L275.46 632.2 L274.79 631.03 L274.15 629.83 L273.56 628.62 L273 627.39 L272.49 626.14 L272.02 624.88 L271.59 623.6 L271.21 622.3 L270.86 621 L270.56 619.68" fill="none" stroke="#000" stroke-width="1.15"/>
<path d="M299.93 654.93 L298.48 654.56 L297.05 654.15 L295.64 653.68 L294.24 653.17 L292.86 652.61 L291.49 652.01 L290.15 651.36 L288.83 650.67 L287.54 649.94 L286.27 649.16 L285.03 648.34 L283.81 647.48 L282.62 646.58 L281.47 645.64 L280.34 644.66 L279.25 643.65 L278.2 642.6 L277.18 641.51 L276.19 640.4 L275.24 639.25 L274.34 638.07 L273.47 636.86 L272.64 635.62 L271.86 634.35 L271.11 633.06 L270.41 631.75 L269.76 630.41 L269.15 629.05 L268.58 627.67 L268.06 626.28 L267.59 624.86 L267.16 623.44 L266.78 622 L266.45 620.54" fill="none" stroke="rgba(45,35,120,0.32)" stroke-width="1.5"/>
<path d="M264.99 620.85 L264.7 619.35 L264.46 617.83 L264.27 616.31 L264.13 614.79 L264.04 613.26 L264 611.73 L264.01 610.19 L264.08 608.66 L264.19 607.13 L264.36 605.61 L264.57 604.09 L264.84 602.58 L265.15 601.08 L265.52 599.59 L265.93 598.12 L266.39 596.66 L266.9 595.21 L267.46 593.79 L268.07 592.38 L268.72 590.99 L269.41 589.63 L270.15 588.28 L270.94 586.97 L271.77 585.68 L272.64 584.42 L273.55 583.19 L274.5 581.99 L275.49 580.82 L276.52 579.68 L277.59 578.58 L278.69 577.52 L279.83 576.49 L281 575.5 L282.2 574.55 L283.44 573.64 L284.7 572.77 L287.85 577.52 L286.74 578.28 L285.66 579.08 L284.61 579.91 L283.58 580.78 L282.58 581.68 L281.62 582.62 L280.68 583.58 L279.78 584.58 L278.91 585.6 L278.08 586.65 L277.28 587.73 L276.51 588.84 L275.79 589.97 L275.1 591.12 L274.45 592.3 L273.84 593.5 L273.27 594.71 L272.73 595.95 L272.25 597.2 L271.8 598.47 L271.39 599.75 L271.03 601.04 L270.71 602.35 L270.43 603.66 L270.2 604.99 L270.01 606.32 L269.87 607.65 L269.77 608.99 L269.71 610.34 L269.7 611.68 L269.73 613.02 L269.81 614.36 L269.93 615.7 L270.1 617.04 L270.31 618.36 L270.56 619.68Z" fill="url(#g78)"/>
<path d="M270.56 619.68 L270.31 618.36 L270.1 617.04 L269.93 615.7 L269.81 614.36 L269.73 613.02 L269.7 611.68 L269.71 610.34 L269.77 608.99 L269.87 607.65 L270.01 606.32 L270.2 604.99 L270.43 603.66 L270.71 602.35 L271.03 601.04 L271.39 599.75 L271.8 598.47 L272.25 597.2 L272.73 595.95 L273.27 594.71 L273.84 593.5 L274.45 592.3 L275.1 591.12 L275.79 589.97 L276.51 588.84 L277.28 587.73 L278.08 586.65 L278.91 585.6 L279.78 584.58 L280.68 583.58 L281.62 582.62 L282.58 581.68 L283.58 580.78 L284.61 579.91 L285.66 579.08 L286.74 578.28 L287.85 577.52" fill="none" stroke="#000" stroke-width="1.15"/>
<path d="M266.45 620.54 L266.17 619.09 L265.94 617.62 L265.76 616.15 L265.62 614.68 L265.54 613.2 L265.5 611.71 L265.51 610.23 L265.58 608.75 L265.69 607.27 L265.85 605.8 L266.05 604.33 L266.31 602.87 L266.62 601.42 L266.97 599.98 L267.37 598.55 L267.82 597.13 L268.31 595.74 L268.85 594.35 L269.43 592.99 L270.06 591.65 L270.74 590.33 L271.46 589.03 L272.22 587.76 L273.02 586.51 L273.86 585.29 L274.74 584.1 L275.66 582.94 L276.62 581.81 L277.62 580.71 L278.65 579.64 L279.72 578.61 L280.82 577.62 L281.95 576.66 L283.11 575.74 L284.31 574.86 L285.53 574.02" fill="none" stroke="rgba(45,35,120,0.32)" stroke-width="1.5"/>
<line x1="300.9" y1="650.85" x2="299.58" y2="656.39" stroke="#000" stroke-width="1.3"/>
<line x1="270.56" y1="619.68" x2="264.99" y2="620.85" stroke="#000" stroke-width="1.3"/>
<line x1="313.33" y1="570.86" x2="313.76" y2="565.18" stroke="#000" stroke-width="1.3"/>
<line x1="320.58" y1="650.63" x2="322.02" y2="656.14" stroke="#000" stroke-width="1.3"/>
<line x1="287.85" y1="577.52" x2="284.7" y2="572.77" stroke="#000" stroke-width="1.3"/>
<line x1="336.34" y1="580.2" x2="340" y2="575.83" stroke="#000" stroke-width="1.3"/>
<line x1="313.27" y1="651.84" x2="313.68" y2="657.53" stroke="#000" stroke-width="1.3"/>
<line x1="329.2" y1="647.28" x2="331.85" y2="652.33" stroke="#000" stroke-width="1.3"/>
<line x1="328.16" y1="574.89" x2="330.67" y2="569.77" stroke="#000" stroke-width="1.3"/>
<line x1="305.18" y1="651.63" x2="304.46" y2="657.28" stroke="#000" stroke-width="1.3"/>
<line x1="343.15" y1="635.2" x2="347.77" y2="638.55" stroke="#000" stroke-width="1.3"/>
<line x1="287.85" y1="577.52" x2="284.7" y2="572.77" stroke="#000" stroke-width="1.3"/>
<path d="M284.7 572.77 L286.05 571.91 L287.42 571.1 L288.82 570.33 L290.25 569.61 L291.71 568.95 L293.18 568.33 L294.68 567.77 L296.19 567.25 L297.72 566.79 L299.26 566.38 L300.82 566.03 L302.39 565.73 L303.97 565.48 L305.56 565.29 L307.15 565.16 L308.75 565.08 L310.35 565.05 L311.94 565.08 L313.54 565.16 L315.13 565.3 L316.72 565.5 L318.3 565.75 L319.87 566.05 L321.43 566.41 L322.97 566.82 L324.5 567.28 L326.01 567.8 L327.51 568.37 L328.98 568.99 L330.43 569.66 L331.86 570.38 L333.26 571.14 L334.63 571.96 L335.98 572.82 L337.29 573.73 L338.58 574.69 L339.82 575.68 L341.04 576.72 L342.21 577.81 L343.35 578.93 L344.45 580.09 L345.51 581.29 L346.53 582.52 L347.5 583.79 L348.43 585.09 L349.31 586.42 L350.15 587.78 L350.94 589.17 L351.68 590.59 L352.37 592.03 L353.02 593.49 L353.61 594.98 L354.15 596.48 L354.63 598 L355.07 599.54 L355.45 601.09 L355.78 602.66 L356.05 604.23 L356.27 605.82 L356.43 607.41 L356.54 609 L356.59 610.6 L356.59 612.2 L356.54 613.79 L356.42 615.39 L356.26 616.98 L356.04 618.56 L355.76 620.13 L355.43 621.7 L355.04 623.25 L354.61 624.79 L354.12 626.31 L353.57 627.81 L352.98 629.3 L352.34 630.76 L351.64 632.2 L350.9 633.61 L350.1 635 L349.26 636.36 L348.38 637.69 L347.45 638.99 L346.47 640.25 L345.45 641.49 L344.39 642.68 L343.29 643.84 L342.15 644.96 L340.97 646.04 L339.75 647.07 L338.5 648.07 L337.22 649.02 L335.9 649.93 L334.55 650.79 L333.18 651.6 L331.78 652.37 L330.35 653.09 L328.89 653.75 L327.42 654.37 L325.92 654.93 L324.41 655.45 L322.88 655.91 L321.34 656.32 L319.78 656.67 L318.21 656.97 L316.63 657.22 L315.04 657.41 L313.45 657.54 L311.85 657.62 L310.25 657.65 L308.66 657.62 L307.06 657.54 L305.47 657.4 L303.88 657.2 L302.3 656.95 L300.73 656.65 L299.17 656.29 L297.63 655.88 L296.1 655.42 L294.59 654.9 L293.09 654.33 L291.62 653.71 L290.17 653.04 L288.74 652.32 L287.34 651.56 L285.97 650.74 L284.62 649.88 L283.31 648.97 L282.02 648.01 L280.78 647.02 L279.56 645.98 L278.39 644.89 L277.25 643.77 L276.15 642.61 L275.09 641.41 L274.07 640.18 L273.1 638.91 L272.17 637.61 L271.29 636.28 L270.45 634.92 L269.66 633.53 L268.92 632.11 L268.23 630.67 L267.58 629.21 L266.99 627.72 L266.45 626.22 L265.97 624.7 L265.53 623.16 L265.15 621.61 L264.82 620.04 L264.55 618.47 L264.33 616.88 L264.17 615.29 L264.06 613.7 L264.01 612.1 L264.01 610.5 L264.06 608.91 L264.18 607.31 L264.34 605.72 L264.56 604.14 L264.84 602.57 L265.17 601 L265.56 599.45 L265.99 597.91 L266.48 596.39 L267.03 594.89 L267.62 593.4 L268.26 591.94 L268.96 590.5 L269.7 589.09 L270.5 587.7 L271.34 586.34 L272.22 585.01 L273.15 583.71 L274.13 582.45 L275.15 581.21 L276.21 580.02 L277.31 578.86 L278.45 577.74 L279.63 576.66 L280.85 575.63 L282.1 574.63 L283.38 573.68 L284.7 572.77" fill="none" stroke="#000" stroke-width="1.6"/>
<text x="295.8" y="564.4" font-size="8.6" fill="#111" font-weight="bold" text-anchor="middle" stroke="#111" stroke-width="0.3">URR</text>
<text x="323" y="565.1" font-size="8.6" fill="#f01010" font-weight="bold" text-anchor="middle" stroke="#f01010" stroke-width="0.3">E6</text>
<text x="337" y="571.1" font-size="8.6" fill="#f01010" font-weight="bold" text-anchor="middle" stroke="#f01010" stroke-width="0.3">E7</text>
<text x="260.5" y="598.1" font-size="8.6" fill="#111" font-weight="bold" text-anchor="middle" stroke="#111" stroke-width="0.3">L1</text>
<text x="362.3" y="605.4" font-size="8.6" fill="#111" font-weight="bold" text-anchor="middle" stroke="#111" stroke-width="0.3">E1</text>
<text x="272.5" y="652.1" font-size="8.6" fill="#111" font-weight="bold" text-anchor="middle" stroke="#111" stroke-width="0.3">L2</text>
<text x="310" y="666.1" font-size="8.6" fill="#111" font-weight="bold" text-anchor="middle" stroke="#111" stroke-width="0.3">E5</text>
<text x="329.3" y="661.8" font-size="8.6" fill="#111" font-weight="bold" text-anchor="middle" stroke="#111" stroke-width="0.3">E4</text>
<text x="343.5" y="654.9" font-size="8.6" fill="#111" font-weight="bold" text-anchor="middle" stroke="#111" stroke-width="0.3">E2</text>
<path d="M104.8 698.2 L212.1 698.2 L211.8 696.7 Q214.3 699.3 214.7 700.5 Q214.3 701.7 211.8 704.3 L212.1 702.8 L104.8 702.8Z" fill="#00ffff" stroke="#111" stroke-width="1.25" stroke-linejoin="round"/>
<path d="M214.5 698.2 L247.6 698.2 L247.3 696.7 Q249.8 699.3 250.2 700.5 Q249.8 701.7 247.3 704.3 L247.6 702.8 L214.5 702.8 Q215.7 702 215.9 700.5 Q215.7 699 214.5 698.2Z" fill="#ffa500" stroke="#111" stroke-width="1.25" stroke-linejoin="round"/>
<path d="M250 698.2 L287 698.2 L287 702.8 L250 702.8 Q251.2 702 251.4 700.5 Q251.2 699 250 698.2Z" fill="#ffa500" stroke="#111" stroke-width="1.25" stroke-linejoin="round"/>
<path d="M318.4 698.2 L327.1 698.2 L326.8 696.7 Q329.3 699.3 329.7 700.5 Q329.3 701.7 326.8 704.3 L327.1 702.8 L318.4 702.8Z" fill="#ffa500" stroke="#111" stroke-width="1.25" stroke-linejoin="round"/>
<path d="M329.5 698.2 L348.7 698.2 L348.4 696.7 Q350.9 699.3 351.3 700.5 Q350.9 701.7 348.4 704.3 L348.7 702.8 L329.5 702.8 Q330.7 702 330.9 700.5 Q330.7 699 329.5 698.2Z" fill="#ffa500" stroke="#111" stroke-width="1.25" stroke-linejoin="round"/>
<path d="M351.1 698.2 L367.8 698.2 L367.5 696.7 Q370 699.3 370.4 700.5 Q370 701.7 367.5 704.3 L367.8 702.8 L351.1 702.8 Q352.3 702 352.5 700.5 Q352.3 699 351.1 698.2Z" fill="#00ffff" stroke="#111" stroke-width="1.25" stroke-linejoin="round"/>
<text x="303.6" y="704.9" font-size="11.8" fill="#00f4f4" font-weight="bold" text-anchor="middle" letter-spacing="-1.2" stroke="#00f4f4" stroke-width="0.4">TATTT</text>
<line x1="287.5" y1="700.4" x2="318.4" y2="700.4" stroke="#000" stroke-width="1.1" stroke-dasharray="2.2 4.6" stroke-dashoffset="-0.8"/>
<line x1="212.5" y1="657" x2="213.87" y2="689.8" stroke="#544d4b" stroke-width="1.05" stroke-dasharray="4 3"/>
<path d="M214.1 695.3 L210.07 687.46 L213.85 689.31 L217.46 687.15Z" fill="#544d4b"/>
<line x1="200" y1="650" x2="277.37" y2="692.07" stroke="#544d4b" stroke-width="1.05" stroke-dasharray="4 3"/>
<path d="M282.2 694.7 L273.4 694.13 L276.93 691.83 L276.94 687.63Z" fill="#544d4b"/>
<line x1="277" y1="592" x2="316.74" y2="690.2" stroke="#544d4b" stroke-width="1.05" stroke-dasharray="4 3"/>
<path d="M318.8 695.3 L312.37 689.27 L316.55 689.74 L319.23 686.5Z" fill="#544d4b"/>
<line x1="349.8" y1="618" x2="350.64" y2="689.8" stroke="#544d4b" stroke-width="1.05" stroke-dasharray="4 3"/>
<path d="M350.7 695.3 L346.91 687.34 L350.63 689.3 L354.31 687.26Z" fill="#544d4b"/>
<text x="150.3" y="718.8" font-size="8.3" fill="#000" font-weight="normal" text-anchor="start" stroke="#000" stroke-width="0.12">Chr11:64974748_HPV16:3572</text>
<text x="285" y="718.5" font-size="8.3" fill="#000" font-weight="normal" text-anchor="start" stroke="#000" stroke-width="0.12">HPV16:2144_Chr11:64975399</text>
<line x1="438.95" y1="637.78" x2="428.18" y2="656.96" stroke="#000" stroke-width="1.6"/>
<line x1="483.2" y1="624.32" x2="505.15" y2="636.29" stroke="#000" stroke-width="1.6"/>
<path d="M487.85 626.86 L487.23 627.95 L486.57 629.02 L485.88 630.07 L485.15 631.09 L484.39 632.09 L483.6 633.06 L482.77 634.01 L481.91 634.93 L481.03 635.82 L480.11 636.67 L479.16 637.5 L478.19 638.3 L477.19 639.06 L476.16 639.78 L475.12 640.47 L474.04 641.13 L472.95 641.75 L471.84 642.33 L470.71 642.88 L469.56 643.38 L468.39 643.85 L467.21 644.28 L466.01 644.67 L464.81 645.01 L463.59 645.32 L462.36 645.59 L461.13 645.81 L459.88 645.99 L458.63 646.13 L457.38 646.23 L456.13 646.29 L454.87 646.3 L453.61 646.27 L452.36 646.2 L451.11 646.09 L449.86 645.93 L448.62 645.73 L447.39 645.49 L446.16 645.21 L444.95 644.89 L443.75 644.53 L442.56 644.13 L441.38 643.69 L440.22 643.2 L439.08 642.68 L437.95 642.12 L436.85 641.53" fill="none" stroke="#ffa200" stroke-width="2.8"/>
<path d="M429.5 570.42 L430.79 569.6 L432.1 568.82 L433.44 568.08 L434.8 567.39 L436.19 566.74 L437.6 566.14 L439.02 565.58 L440.46 565.07 L441.92 564.62 L443.39 564.2 L444.88 563.84 L446.38 563.53 L447.88 563.27 L449.4 563.05 L450.92 562.89 L452.44 562.78 L453.97 562.71 L455.5 562.7 L457.03 562.74 L458.56 562.83 L458.13 568.51 L456.79 568.44 L455.45 568.4 L454.11 568.41 L452.77 568.47 L451.43 568.57 L450.1 568.71 L448.77 568.9 L447.45 569.13 L446.14 569.4 L444.84 569.72 L443.54 570.08 L442.27 570.48 L441 570.93 L439.75 571.41 L438.52 571.94 L437.3 572.51 L436.11 573.12 L434.93 573.76 L433.78 574.45 L432.65 575.17Z" fill="url(#g79)"/>
<path d="M432.65 575.17 L433.78 574.45 L434.93 573.76 L436.11 573.12 L437.3 572.51 L438.52 571.94 L439.75 571.41 L441 570.93 L442.27 570.48 L443.54 570.08 L444.84 569.72 L446.14 569.4 L447.45 569.13 L448.77 568.9 L450.1 568.71 L451.43 568.57 L452.77 568.47 L454.11 568.41 L455.45 568.4 L456.79 568.44 L458.13 568.51" fill="none" stroke="#000" stroke-width="1.15"/>
<path d="M430.33 571.67 L431.57 570.87 L432.85 570.12 L434.14 569.4 L435.46 568.73 L436.8 568.11 L438.16 567.53 L439.54 566.99 L440.94 566.5 L442.35 566.05 L443.77 565.66 L445.21 565.3 L446.66 565 L448.12 564.75 L449.58 564.54 L451.05 564.38 L452.53 564.27 L454.01 564.21 L455.49 564.2 L456.97 564.24 L458.44 564.32" fill="none" stroke="rgba(45,35,120,0.32)" stroke-width="1.5"/>
<path d="M458.56 562.83 L460.02 562.96 L461.48 563.14 L462.93 563.37 L464.37 563.64 L465.81 563.95 L467.23 564.32 L468.64 564.72 L470.04 565.18 L471.42 565.67 L472.79 566.21 L474.14 566.8 L475.47 567.42 L472.96 572.54 L471.79 571.99 L470.61 571.48 L469.41 571.01 L468.2 570.57 L466.97 570.18 L465.74 569.82 L464.49 569.5 L463.23 569.22 L461.96 568.98 L460.69 568.79 L459.41 568.63 L458.13 568.51Z" fill="url(#g80)"/>
<path d="M458.13 568.51 L459.41 568.63 L460.69 568.79 L461.96 568.98 L463.23 569.22 L464.49 569.5 L465.74 569.82 L466.97 570.18 L468.2 570.57 L469.41 571.01 L470.61 571.48 L471.79 571.99 L472.96 572.54" fill="none" stroke="#000" stroke-width="1.15"/>
<path d="M458.44 564.32 L459.86 564.45 L461.27 564.63 L462.67 564.85 L464.07 565.11 L465.46 565.41 L466.84 565.76 L468.2 566.16 L469.56 566.6 L470.89 567.08 L472.22 567.6 L473.52 568.16 L474.81 568.77" fill="none" stroke="rgba(45,35,120,0.32)" stroke-width="1.5"/>
<path d="M475.47 567.42 L476.71 568.05 L477.93 568.72 L479.13 569.43 L480.32 570.17 L481.47 570.95 L482.61 571.76 L483.71 572.6 L484.8 573.48 L481.14 577.85 L480.19 577.08 L479.22 576.34 L478.23 575.63 L477.21 574.95 L476.18 574.3 L475.12 573.68 L474.05 573.09 L472.96 572.54Z" fill="url(#g81)"/>
<path d="M472.96 572.54 L474.05 573.09 L475.12 573.68 L476.18 574.3 L477.21 574.95 L478.23 575.63 L479.22 576.34 L480.19 577.08 L481.14 577.85" fill="none" stroke="#000" stroke-width="1.15"/>
<path d="M474.81 568.77 L476.01 569.38 L477.19 570.03 L478.36 570.71 L479.5 571.43 L480.62 572.18 L481.72 572.96 L482.79 573.78 L483.84 574.63" fill="none" stroke="rgba(45,35,120,0.32)" stroke-width="1.5"/>
<path d="M484.8 573.48 L485.97 574.49 L487.1 575.54 L488.2 576.63 L489.26 577.75 L490.29 578.91 L491.27 580.1 L492.22 581.32 L493.12 582.58 L493.98 583.86 L494.8 585.17 L495.57 586.51 L496.3 587.87 L496.98 589.26 L497.62 590.67 L498.21 592.1 L498.75 593.55 L499.24 595.01 L499.68 596.5 L500.07 597.99 L500.41 599.5 L500.71 601.02 L500.95 602.54 L501.14 604.08 L501.28 605.62 L501.36 607.16 L501.4 608.7 L501.38 610.25 L501.32 611.79 L501.2 613.34 L501.03 614.87 L500.8 616.4 L500.53 617.92 L500.21 619.44 L499.84 620.94 L499.41 622.42 L498.94 623.89 L498.42 625.35 L497.85 626.79 L497.23 628.2 L496.57 629.6 L495.86 630.97 L495.1 632.32 L494.3 633.64 L493.45 634.94 L492.57 636.2 L487.95 632.85 L488.73 631.74 L489.47 630.61 L490.17 629.45 L490.84 628.27 L491.46 627.06 L492.04 625.84 L492.59 624.6 L493.08 623.34 L493.54 622.06 L493.96 620.77 L494.33 619.47 L494.66 618.15 L494.94 616.82 L495.18 615.49 L495.37 614.15 L495.52 612.8 L495.63 611.45 L495.69 610.1 L495.7 608.74 L495.67 607.39 L495.59 606.03 L495.47 604.68 L495.3 603.34 L495.09 602 L494.84 600.67 L494.54 599.35 L494.19 598.03 L493.8 596.74 L493.37 595.45 L492.9 594.18 L492.38 592.93 L491.83 591.69 L491.23 590.48 L490.59 589.28 L489.91 588.11 L489.19 586.96 L488.44 585.83 L487.65 584.73 L486.82 583.66 L485.96 582.61 L485.06 581.6 L484.13 580.61 L483.16 579.66 L482.17 578.74 L481.14 577.85Z" fill="url(#g82)"/>
<path d="M481.14 577.85 L482.17 578.74 L483.16 579.66 L484.13 580.61 L485.06 581.6 L485.96 582.61 L486.82 583.66 L487.65 584.73 L488.44 585.83 L489.19 586.96 L489.91 588.11 L490.59 589.28 L491.23 590.48 L491.83 591.69 L492.38 592.93 L492.9 594.18 L493.37 595.45 L493.8 596.74 L494.19 598.03 L494.54 599.35 L494.84 600.67 L495.09 602 L495.3 603.34 L495.47 604.68 L495.59 606.03 L495.67 607.39 L495.7 608.74 L495.69 610.1 L495.63 611.45 L495.52 612.8 L495.37 614.15 L495.18 615.49 L494.94 616.82 L494.66 618.15 L494.33 619.47 L493.96 620.77 L493.54 622.06 L493.08 623.34 L492.59 624.6 L492.04 625.84 L491.46 627.06 L490.84 628.27 L490.17 629.45 L489.47 630.61 L488.73 631.74 L487.95 632.85" fill="none" stroke="#000" stroke-width="1.15"/>
<path d="M483.84 574.63 L484.97 575.61 L486.06 576.62 L487.13 577.68 L488.16 578.76 L489.15 579.88 L490.1 581.04 L491.01 582.22 L491.89 583.43 L492.72 584.68 L493.51 585.94 L494.26 587.24 L494.96 588.56 L495.62 589.9 L496.24 591.26 L496.81 592.65 L497.33 594.05 L497.81 595.47 L498.24 596.9 L498.61 598.35 L498.95 599.81 L499.23 601.27 L499.46 602.75 L499.65 604.24 L499.78 605.73 L499.86 607.22 L499.9 608.71 L499.88 610.21 L499.82 611.7 L499.7 613.2 L499.54 614.68 L499.32 616.16 L499.06 617.63 L498.75 619.1 L498.39 620.55 L497.98 621.99 L497.52 623.41 L497.01 624.82 L496.46 626.21 L495.87 627.58 L495.22 628.93 L494.53 630.26 L493.8 631.56 L493.03 632.84 L492.21 634.1 L491.35 635.32" fill="none" stroke="rgba(45,35,120,0.32)" stroke-width="1.5"/>
<path d="M492.57 636.2 L491.72 637.33 L490.83 638.44 L489.92 639.52 L488.97 640.57 L487.99 641.59 L486.97 642.58 L485.93 643.54 L484.86 644.47 L483.76 645.36 L482.64 646.22 L481.49 647.04 L480.31 647.83 L479.11 648.59 L477.89 649.3 L476.65 649.98 L474 644.93 L475.09 644.34 L476.16 643.71 L477.21 643.05 L478.24 642.36 L479.25 641.64 L480.24 640.88 L481.2 640.1 L482.14 639.29 L483.05 638.45 L483.94 637.58 L484.8 636.68 L485.63 635.76 L486.43 634.82 L487.21 633.85 L487.95 632.85Z" fill="url(#g83)"/>
<path d="M487.95 632.85 L487.21 633.85 L486.43 634.82 L485.63 635.76 L484.8 636.68 L483.94 637.58 L483.05 638.45 L482.14 639.29 L481.2 640.1 L480.24 640.88 L479.25 641.64 L478.24 642.36 L477.21 643.05 L476.16 643.71 L475.09 644.34 L474 644.93" fill="none" stroke="#000" stroke-width="1.15"/>
<path d="M491.35 635.32 L490.53 636.42 L489.68 637.49 L488.79 638.53 L487.87 639.55 L486.92 640.53 L485.94 641.49 L484.93 642.42 L483.9 643.32 L482.84 644.18 L481.75 645.01 L480.63 645.81 L479.5 646.57 L478.34 647.3 L477.15 648 L475.95 648.65" fill="none" stroke="rgba(45,35,120,0.32)" stroke-width="1.5"/>
<path d="M476.65 649.98 L475.47 650.58 L474.28 651.14 L473.07 651.67 L471.85 652.17 L470.61 652.63 L469.36 653.05 L468.1 653.44 L466.82 653.79 L465.38 648.28 L466.5 647.97 L467.6 647.63 L468.7 647.25 L469.78 646.85 L470.86 646.42 L471.92 645.95 L472.96 645.46 L474 644.93Z" fill="url(#g84)"/>
<path d="M474 644.93 L472.96 645.46 L471.92 645.95 L470.86 646.42 L469.78 646.85 L468.7 647.25 L467.6 647.63 L466.5 647.97 L465.38 648.28" fill="none" stroke="#000" stroke-width="1.15"/>
<path d="M475.95 648.65 L474.81 649.23 L473.66 649.78 L472.49 650.29 L471.3 650.77 L470.11 651.21 L468.9 651.62 L467.67 652 L466.44 652.34" fill="none" stroke="rgba(45,35,120,0.32)" stroke-width="1.5"/>
<path d="M466.82 653.79 L465.65 654.08 L464.47 654.34 L463.28 654.57 L462.09 654.77 L460.89 654.94 L459.69 655.07 L458.48 655.18 L458.07 649.49 L459.12 649.4 L460.18 649.28 L461.23 649.13 L462.27 648.96 L463.32 648.76 L464.35 648.53 L465.38 648.28Z" fill="url(#g85)"/>
<path d="M465.38 648.28 L464.35 648.53 L463.32 648.76 L462.27 648.96 L461.23 649.13 L460.18 649.28 L459.12 649.4 L458.07 649.49" fill="none" stroke="#000" stroke-width="1.15"/>
<path d="M466.44 652.34 L465.31 652.62 L464.16 652.87 L463.02 653.1 L461.86 653.29 L460.7 653.45 L459.54 653.58 L458.37 653.68" fill="none" stroke="rgba(45,35,120,0.32)" stroke-width="1.5"/>
<path d="M458.48 655.18 L457.17 655.25 L455.85 655.29 L454.53 655.3 L453.21 655.26 L451.89 655.19 L450.58 655.08 L449.26 654.93 L449.98 649.28 L451.13 649.41 L452.29 649.5 L453.44 649.57 L454.6 649.6 L455.76 649.59 L456.91 649.56 L458.07 649.49Z" fill="url(#g86)"/>
<path d="M458.07 649.49 L456.91 649.56 L455.76 649.59 L454.6 649.6 L453.44 649.57 L452.29 649.5 L451.13 649.41 L449.98 649.28" fill="none" stroke="#000" stroke-width="1.15"/>
<path d="M458.37 653.68 L457.1 653.76 L455.82 653.79 L454.55 653.8 L453.27 653.76 L451.99 653.69 L450.72 653.59 L449.45 653.44" fill="none" stroke="rgba(45,35,120,0.32)" stroke-width="1.5"/>
<path d="M444.38 654.04 L442.89 653.66 L441.41 653.23 L439.95 652.75 L438.5 652.22 L437.07 651.65 L435.67 651.02 L434.28 650.35 L432.92 649.64 L431.58 648.88 L430.26 648.08 L428.98 647.23 L427.72 646.34 L426.5 645.41 L425.3 644.44 L424.14 643.43 L423.01 642.38 L421.92 641.29 L420.87 640.17 L419.85 639.02 L418.87 637.83 L417.93 636.61 L417.04 635.36 L416.18 634.08 L415.37 632.77 L414.6 631.44 L413.88 630.08 L413.2 628.7 L412.57 627.29 L411.98 625.87 L411.45 624.43 L410.96 622.97 L410.52 621.49 L410.13 620 L409.79 618.5 L415.36 617.33 L415.66 618.65 L416.01 619.95 L416.39 621.25 L416.82 622.53 L417.29 623.79 L417.8 625.04 L418.36 626.27 L418.95 627.48 L419.59 628.68 L420.26 629.85 L420.97 630.99 L421.72 632.11 L422.51 633.21 L423.33 634.28 L424.19 635.32 L425.08 636.34 L426.01 637.32 L426.96 638.27 L427.95 639.19 L428.97 640.07 L430.02 640.93 L431.09 641.74 L432.2 642.52 L433.32 643.26 L434.47 643.97 L435.65 644.64 L436.84 645.26 L438.06 645.85 L439.29 646.4 L440.54 646.9 L441.81 647.36 L443.09 647.78 L444.39 648.16 L445.7 648.5Z" fill="url(#g87)"/>
<path d="M445.7 648.5 L444.39 648.16 L443.09 647.78 L441.81 647.36 L440.54 646.9 L439.29 646.4 L438.06 645.85 L436.84 645.26 L435.65 644.64 L434.47 643.97 L433.32 643.26 L432.2 642.52 L431.09 641.74 L430.02 640.93 L428.97 640.07 L427.95 639.19 L426.96 638.27 L426.01 637.32 L425.08 636.34 L424.19 635.32 L423.33 634.28 L422.51 633.21 L421.72 632.11 L420.97 630.99 L420.26 629.85 L419.59 628.68 L418.95 627.48 L418.36 626.27 L417.8 625.04 L417.29 623.79 L416.82 622.53 L416.39 621.25 L416.01 619.95 L415.66 618.65 L415.36 617.33" fill="none" stroke="#000" stroke-width="1.15"/>
<path d="M444.73 652.58 L443.28 652.21 L441.85 651.8 L440.44 651.33 L439.04 650.82 L437.66 650.26 L436.29 649.66 L434.95 649.01 L433.63 648.32 L432.34 647.59 L431.07 646.81 L429.83 645.99 L428.61 645.13 L427.42 644.23 L426.27 643.29 L425.14 642.31 L424.05 641.3 L423 640.25 L421.98 639.16 L420.99 638.05 L420.04 636.9 L419.14 635.72 L418.27 634.51 L417.44 633.27 L416.66 632 L415.91 630.71 L415.21 629.4 L414.56 628.06 L413.95 626.7 L413.38 625.32 L412.86 623.93 L412.39 622.51 L411.96 621.09 L411.58 619.65 L411.25 618.19" fill="none" stroke="rgba(45,35,120,0.32)" stroke-width="1.5"/>
<path d="M409.79 618.5 L409.5 617 L409.26 615.48 L409.07 613.96 L408.93 612.44 L408.84 610.91 L408.8 609.38 L408.81 607.84 L408.88 606.31 L408.99 604.78 L409.16 603.26 L409.37 601.74 L409.64 600.23 L409.95 598.73 L410.32 597.24 L410.73 595.77 L411.19 594.31 L411.7 592.86 L412.26 591.44 L412.87 590.03 L413.52 588.64 L414.21 587.28 L414.95 585.93 L415.74 584.62 L416.57 583.33 L417.44 582.07 L418.35 580.84 L419.3 579.64 L420.29 578.47 L421.32 577.33 L422.39 576.23 L423.49 575.17 L424.63 574.14 L425.8 573.15 L427 572.2 L428.24 571.29 L429.5 570.42 L432.65 575.17 L431.54 575.93 L430.46 576.73 L429.41 577.56 L428.38 578.43 L427.38 579.33 L426.42 580.27 L425.48 581.23 L424.58 582.23 L423.71 583.25 L422.88 584.3 L422.08 585.38 L421.31 586.49 L420.59 587.62 L419.9 588.77 L419.25 589.95 L418.64 591.15 L418.07 592.36 L417.53 593.6 L417.05 594.85 L416.6 596.12 L416.19 597.4 L415.83 598.69 L415.51 600 L415.23 601.31 L415 602.64 L414.81 603.97 L414.67 605.3 L414.57 606.64 L414.51 607.99 L414.5 609.33 L414.53 610.67 L414.61 612.01 L414.73 613.35 L414.9 614.69 L415.11 616.01 L415.36 617.33Z" fill="url(#g88)"/>
<path d="M415.36 617.33 L415.11 616.01 L414.9 614.69 L414.73 613.35 L414.61 612.01 L414.53 610.67 L414.5 609.33 L414.51 607.99 L414.57 606.64 L414.67 605.3 L414.81 603.97 L415 602.64 L415.23 601.31 L415.51 600 L415.83 598.69 L416.19 597.4 L416.6 596.12 L417.05 594.85 L417.53 593.6 L418.07 592.36 L418.64 591.15 L419.25 589.95 L419.9 588.77 L420.59 587.62 L421.31 586.49 L422.08 585.38 L422.88 584.3 L423.71 583.25 L424.58 582.23 L425.48 581.23 L426.42 580.27 L427.38 579.33 L428.38 578.43 L429.41 577.56 L430.46 576.73 L431.54 575.93 L432.65 575.17" fill="none" stroke="#000" stroke-width="1.15"/>
<path d="M411.25 618.19 L410.97 616.74 L410.74 615.27 L410.56 613.8 L410.42 612.33 L410.34 610.85 L410.3 609.36 L410.31 607.88 L410.38 606.4 L410.49 604.92 L410.65 603.45 L410.85 601.98 L411.11 600.52 L411.42 599.07 L411.77 597.63 L412.17 596.2 L412.62 594.78 L413.11 593.39 L413.65 592 L414.23 590.64 L414.86 589.3 L415.54 587.98 L416.26 586.68 L417.02 585.41 L417.82 584.16 L418.66 582.94 L419.54 581.75 L420.46 580.59 L421.42 579.46 L422.42 578.36 L423.45 577.29 L424.52 576.26 L425.62 575.27 L426.75 574.31 L427.91 573.39 L429.11 572.51 L430.33 571.67" fill="none" stroke="rgba(45,35,120,0.32)" stroke-width="1.5"/>
<line x1="445.7" y1="648.5" x2="444.38" y2="654.04" stroke="#000" stroke-width="1.3"/>
<line x1="415.36" y1="617.33" x2="409.79" y2="618.5" stroke="#000" stroke-width="1.3"/>
<line x1="458.13" y1="568.51" x2="458.56" y2="562.83" stroke="#000" stroke-width="1.3"/>
<line x1="465.38" y1="648.28" x2="466.82" y2="653.79" stroke="#000" stroke-width="1.3"/>
<line x1="432.65" y1="575.17" x2="429.5" y2="570.42" stroke="#000" stroke-width="1.3"/>
<line x1="481.14" y1="577.85" x2="484.8" y2="573.48" stroke="#000" stroke-width="1.3"/>
<line x1="458.07" y1="649.49" x2="458.48" y2="655.18" stroke="#000" stroke-width="1.3"/>
<line x1="474" y1="644.93" x2="476.65" y2="649.98" stroke="#000" stroke-width="1.3"/>
<line x1="472.96" y1="572.54" x2="475.47" y2="567.42" stroke="#000" stroke-width="1.3"/>
<line x1="449.98" y1="649.28" x2="449.26" y2="654.93" stroke="#000" stroke-width="1.3"/>
<line x1="487.95" y1="632.85" x2="492.57" y2="636.2" stroke="#000" stroke-width="1.3"/>
<line x1="432.65" y1="575.17" x2="429.5" y2="570.42" stroke="#000" stroke-width="1.3"/>
<path d="M429.5 570.42 L430.85 569.56 L432.22 568.75 L433.62 567.98 L435.05 567.26 L436.51 566.6 L437.98 565.98 L439.48 565.42 L440.99 564.9 L442.52 564.44 L444.06 564.03 L445.62 563.68 L447.19 563.38 L448.77 563.13 L450.36 562.94 L451.95 562.81 L453.55 562.73 L455.15 562.7 L456.74 562.73 L458.34 562.81 L459.93 562.95 L461.52 563.15 L463.1 563.4 L464.67 563.7 L466.23 564.06 L467.77 564.47 L469.3 564.93 L470.81 565.45 L472.31 566.02 L473.78 566.64 L475.23 567.31 L476.66 568.03 L478.06 568.79 L479.43 569.61 L480.78 570.47 L482.09 571.38 L483.38 572.34 L484.62 573.33 L485.84 574.37 L487.01 575.46 L488.15 576.58 L489.25 577.74 L490.31 578.94 L491.33 580.17 L492.3 581.44 L493.23 582.74 L494.11 584.07 L494.95 585.43 L495.74 586.82 L496.48 588.24 L497.17 589.68 L497.82 591.14 L498.41 592.63 L498.95 594.13 L499.43 595.65 L499.87 597.19 L500.25 598.74 L500.58 600.31 L500.85 601.88 L501.07 603.47 L501.23 605.06 L501.34 606.65 L501.39 608.25 L501.39 609.85 L501.34 611.44 L501.22 613.04 L501.06 614.63 L500.84 616.21 L500.56 617.78 L500.23 619.35 L499.84 620.9 L499.41 622.44 L498.92 623.96 L498.37 625.46 L497.78 626.95 L497.14 628.41 L496.44 629.85 L495.7 631.26 L494.9 632.65 L494.06 634.01 L493.18 635.34 L492.25 636.64 L491.27 637.9 L490.25 639.14 L489.19 640.33 L488.09 641.49 L486.95 642.61 L485.77 643.69 L484.55 644.72 L483.3 645.72 L482.02 646.67 L480.7 647.58 L479.35 648.44 L477.98 649.25 L476.58 650.02 L475.15 650.74 L473.69 651.4 L472.22 652.02 L470.72 652.58 L469.21 653.1 L467.68 653.56 L466.14 653.97 L464.58 654.32 L463.01 654.62 L461.43 654.87 L459.84 655.06 L458.25 655.19 L456.65 655.27 L455.05 655.3 L453.46 655.27 L451.86 655.19 L450.27 655.05 L448.68 654.85 L447.1 654.6 L445.53 654.3 L443.97 653.94 L442.43 653.53 L440.9 653.07 L439.39 652.55 L437.89 651.98 L436.42 651.36 L434.97 650.69 L433.54 649.97 L432.14 649.21 L430.77 648.39 L429.42 647.53 L428.11 646.62 L426.82 645.66 L425.58 644.67 L424.36 643.63 L423.19 642.54 L422.05 641.42 L420.95 640.26 L419.89 639.06 L418.87 637.83 L417.9 636.56 L416.97 635.26 L416.09 633.93 L415.25 632.57 L414.46 631.18 L413.72 629.76 L413.03 628.32 L412.38 626.86 L411.79 625.37 L411.25 623.87 L410.77 622.35 L410.33 620.81 L409.95 619.26 L409.62 617.69 L409.35 616.12 L409.13 614.53 L408.97 612.94 L408.86 611.35 L408.81 609.75 L408.81 608.15 L408.86 606.56 L408.98 604.96 L409.14 603.37 L409.36 601.79 L409.64 600.22 L409.97 598.65 L410.36 597.1 L410.79 595.56 L411.28 594.04 L411.83 592.54 L412.42 591.05 L413.06 589.59 L413.76 588.15 L414.5 586.74 L415.3 585.35 L416.14 583.99 L417.02 582.66 L417.95 581.36 L418.93 580.1 L419.95 578.86 L421.01 577.67 L422.11 576.51 L423.25 575.39 L424.43 574.31 L425.65 573.28 L426.9 572.28 L428.18 571.33 L429.5 570.42" fill="none" stroke="#000" stroke-width="1.6"/>
<text x="442.5" y="562.1" font-size="8.6" fill="#111" font-weight="bold" text-anchor="middle" stroke="#111" stroke-width="0.3">URR</text>
<text x="469.8" y="562.3" font-size="8.6" fill="#f01010" font-weight="bold" text-anchor="middle" stroke="#f01010" stroke-width="0.3">E6</text>
<text x="483.5" y="568.3" font-size="8.6" fill="#f01010" font-weight="bold" text-anchor="middle" stroke="#f01010" stroke-width="0.3">E7</text>
<text x="404.8" y="592.1" font-size="8.6" fill="#111" font-weight="bold" text-anchor="middle" stroke="#111" stroke-width="0.3">L1</text>
<text x="506.4" y="605.3" font-size="8.6" fill="#111" font-weight="bold" text-anchor="middle" stroke="#111" stroke-width="0.3">E1</text>
<text x="414.9" y="648.9" font-size="8.6" fill="#111" font-weight="bold" text-anchor="middle" stroke="#111" stroke-width="0.3">L2</text>
<text x="454.1" y="663.9" font-size="8.6" fill="#111" font-weight="bold" text-anchor="middle" stroke="#111" stroke-width="0.3">E5</text>
<text x="474.7" y="660.9" font-size="8.6" fill="#111" font-weight="bold" text-anchor="middle" stroke="#111" stroke-width="0.3">E4</text>
<text x="486.8" y="654.9" font-size="8.6" fill="#111" font-weight="bold" text-anchor="middle" stroke="#111" stroke-width="0.3">E2</text>
<line x1="536.96" y1="608.19" x2="513.97" y2="607.58" stroke="#000" stroke-width="1.6"/>
<line x1="553.83" y1="637.84" x2="542.59" y2="657.91" stroke="#000" stroke-width="1.6"/>
<path d="M532.66 608.07 L532.72 606.78 L532.82 605.49 L532.97 604.21 L533.16 602.93 L533.39 601.66 L533.67 600.4 L533.99 599.15 L534.35 597.91 L534.76 596.68 L535.21 595.47 L535.7 594.28 L536.23 593.1 L536.81 591.94 L537.42 590.8 L538.07 589.69 L538.76 588.59 L539.49 587.53 L540.25 586.48 L541.05 585.47 L541.88 584.48 L542.75 583.52 L543.65 582.6 L544.59 581.7 L545.55 580.84 L546.54 580.01 L547.56 579.22 L548.61 578.46 L549.68 577.74 L550.78 577.06 L551.9 576.41 L553.04 575.81 L554.2 575.24 L555.38 574.71 L556.58 574.23 L557.79 573.79 L559.02 573.39 L560.26 573.03 L561.51 572.72 L562.78 572.45 L564.05 572.22 L565.33 572.04 L566.61 571.9 L567.9 571.81 L569.19 571.76 L570.49 571.75 L571.78 571.79 L573.07 571.88 L574.35 572.01 L575.63 572.19 L576.91 572.4 L578.17 572.67 L579.43 572.97 L580.67 573.32 L581.9 573.72 L583.12 574.15 L584.32 574.63 L585.5 575.15 L586.67 575.71 L587.81 576.31 L588.94 576.94 L590.04 577.62 L591.11 578.34 L592.17 579.09 L593.19 579.87 L594.19 580.7 L595.15 581.55 L596.09 582.44 L597 583.36 L597.87 584.32 L598.71 585.3 L599.52 586.31 L600.29 587.35 L601.02 588.41 L601.72 589.5 L602.37 590.61 L602.99 591.75 L603.57 592.9 L604.11 594.08 L604.61 595.27 L605.07 596.48 L605.48 597.7 L605.85 598.94 L606.18 600.19 L606.47 601.45 L606.71 602.72 L606.91 603.99 L607.06 605.28 L607.17 606.56 L607.23 607.86 L607.25 609.15 L607.22 610.44 L607.15 611.73 L607.04 613.02 L606.88 614.3 L606.67 615.58 L606.43 616.84 L606.13 618.1 L605.8 619.35 L605.42 620.59 L605 621.81 L604.54 623.01 L604.03 624.2 L603.49 625.37 L602.9 626.53 L602.28 627.66 L601.61 628.77 L600.91 629.85 L600.17 630.91 L599.4 631.94 L598.59 632.95 L597.74 633.93 L596.86 634.88 L595.95 635.79 L595.01 636.68 L594.04 637.53 L593.04 638.35 L592.01 639.13 L590.95 639.87 L589.87 640.58 L588.77 641.25 L587.64 641.89 L586.49 642.48 L585.33 643.03 L584.14 643.55 L582.94 644.02 L581.72 644.45 L580.48 644.83 L579.24 645.17 L577.98 645.47 L576.72 645.73 L575.44 645.94 L574.16 646.11 L572.87 646.24 L571.58 646.31 L570.29 646.35 L569 646.34 L567.71 646.28 L566.42 646.18 L565.14 646.04 L563.86 645.85 L562.59 645.62 L561.32 645.34 L560.07 645.02 L558.83 644.65 L557.61 644.25 L556.39 643.8 L555.2 643.31 L554.02 642.78 L552.86 642.21 L551.72 641.59" fill="none" stroke="#ffa200" stroke-width="2.8"/>
<path d="M544.35 570.47 L545.64 569.65 L546.95 568.87 L548.29 568.13 L549.65 567.44 L551.04 566.79 L552.45 566.19 L553.87 565.63 L555.31 565.12 L556.77 564.67 L558.24 564.25 L559.73 563.89 L561.23 563.58 L562.73 563.32 L564.25 563.1 L565.77 562.94 L567.29 562.83 L568.82 562.76 L570.35 562.75 L571.88 562.79 L573.41 562.88 L572.98 568.56 L571.64 568.49 L570.3 568.45 L568.96 568.46 L567.62 568.52 L566.28 568.62 L564.95 568.76 L563.62 568.95 L562.3 569.18 L560.99 569.45 L559.69 569.77 L558.39 570.13 L557.12 570.53 L555.85 570.98 L554.6 571.46 L553.37 571.99 L552.15 572.56 L550.96 573.17 L549.78 573.81 L548.63 574.5 L547.5 575.22Z" fill="url(#g89)"/>
<path d="M547.5 575.22 L548.63 574.5 L549.78 573.81 L550.96 573.17 L552.15 572.56 L553.37 571.99 L554.6 571.46 L555.85 570.98 L557.12 570.53 L558.39 570.13 L559.69 569.77 L560.99 569.45 L562.3 569.18 L563.62 568.95 L564.95 568.76 L566.28 568.62 L567.62 568.52 L568.96 568.46 L570.3 568.45 L571.64 568.49 L572.98 568.56" fill="none" stroke="#000" stroke-width="1.15"/>
<path d="M545.18 571.72 L546.42 570.92 L547.7 570.17 L548.99 569.45 L550.31 568.78 L551.65 568.16 L553.01 567.58 L554.39 567.04 L555.79 566.55 L557.2 566.1 L558.62 565.71 L560.06 565.35 L561.51 565.05 L562.97 564.8 L564.43 564.59 L565.9 564.43 L567.38 564.32 L568.86 564.26 L570.34 564.25 L571.82 564.29 L573.29 564.37" fill="none" stroke="rgba(45,35,120,0.32)" stroke-width="1.5"/>
<path d="M573.41 562.88 L574.87 563.01 L576.33 563.19 L577.78 563.42 L579.22 563.69 L580.66 564 L582.08 564.37 L583.49 564.77 L584.89 565.23 L586.27 565.72 L587.64 566.26 L588.99 566.85 L590.32 567.47 L587.81 572.59 L586.64 572.04 L585.46 571.53 L584.26 571.06 L583.05 570.62 L581.82 570.23 L580.59 569.87 L579.34 569.55 L578.08 569.27 L576.81 569.03 L575.54 568.84 L574.26 568.68 L572.98 568.56Z" fill="url(#g90)"/>
<path d="M572.98 568.56 L574.26 568.68 L575.54 568.84 L576.81 569.03 L578.08 569.27 L579.34 569.55 L580.59 569.87 L581.82 570.23 L583.05 570.62 L584.26 571.06 L585.46 571.53 L586.64 572.04 L587.81 572.59" fill="none" stroke="#000" stroke-width="1.15"/>
<path d="M573.29 564.37 L574.71 564.5 L576.12 564.68 L577.52 564.9 L578.92 565.16 L580.31 565.46 L581.69 565.81 L583.05 566.21 L584.41 566.65 L585.74 567.13 L587.07 567.65 L588.37 568.21 L589.66 568.82" fill="none" stroke="rgba(45,35,120,0.32)" stroke-width="1.5"/>
<path d="M590.32 567.47 L591.56 568.1 L592.78 568.77 L593.98 569.48 L595.17 570.22 L596.32 571 L597.46 571.81 L598.56 572.65 L599.65 573.53 L595.99 577.9 L595.04 577.13 L594.07 576.39 L593.08 575.68 L592.06 575 L591.03 574.35 L589.97 573.73 L588.9 573.14 L587.81 572.59Z" fill="url(#g91)"/>
<path d="M587.81 572.59 L588.9 573.14 L589.97 573.73 L591.03 574.35 L592.06 575 L593.08 575.68 L594.07 576.39 L595.04 577.13 L595.99 577.9" fill="none" stroke="#000" stroke-width="1.15"/>
<path d="M589.66 568.82 L590.86 569.43 L592.04 570.08 L593.21 570.76 L594.35 571.48 L595.47 572.23 L596.57 573.01 L597.64 573.83 L598.69 574.68" fill="none" stroke="rgba(45,35,120,0.32)" stroke-width="1.5"/>
<path d="M599.65 573.53 L600.82 574.54 L601.95 575.59 L603.05 576.68 L604.11 577.8 L605.14 578.96 L606.12 580.15 L607.07 581.37 L607.97 582.63 L608.83 583.91 L609.65 585.22 L610.42 586.56 L611.15 587.92 L611.83 589.31 L612.47 590.72 L613.06 592.15 L613.6 593.6 L614.09 595.06 L614.53 596.55 L614.92 598.04 L615.26 599.55 L615.56 601.07 L615.8 602.59 L615.99 604.13 L616.13 605.67 L616.21 607.21 L616.25 608.75 L616.23 610.3 L616.17 611.84 L616.05 613.39 L615.88 614.92 L615.65 616.45 L615.38 617.97 L615.06 619.49 L614.69 620.99 L614.26 622.47 L613.79 623.94 L613.27 625.4 L612.7 626.84 L612.08 628.25 L611.42 629.65 L610.71 631.02 L609.95 632.37 L609.15 633.69 L608.3 634.99 L607.42 636.25 L602.8 632.9 L603.58 631.79 L604.32 630.66 L605.02 629.5 L605.69 628.32 L606.31 627.11 L606.89 625.89 L607.44 624.65 L607.93 623.39 L608.39 622.11 L608.81 620.82 L609.18 619.52 L609.51 618.2 L609.79 616.87 L610.03 615.54 L610.22 614.2 L610.37 612.85 L610.48 611.5 L610.54 610.15 L610.55 608.79 L610.52 607.44 L610.44 606.08 L610.32 604.73 L610.15 603.39 L609.94 602.05 L609.69 600.72 L609.39 599.4 L609.04 598.08 L608.65 596.79 L608.22 595.5 L607.75 594.23 L607.23 592.98 L606.68 591.74 L606.08 590.53 L605.44 589.33 L604.76 588.16 L604.04 587.01 L603.29 585.88 L602.5 584.78 L601.67 583.71 L600.81 582.66 L599.91 581.65 L598.98 580.66 L598.01 579.71 L597.02 578.79 L595.99 577.9Z" fill="url(#g92)"/>
<path d="M595.99 577.9 L597.02 578.79 L598.01 579.71 L598.98 580.66 L599.91 581.65 L600.81 582.66 L601.67 583.71 L602.5 584.78 L603.29 585.88 L604.04 587.01 L604.76 588.16 L605.44 589.33 L606.08 590.53 L606.68 591.74 L607.23 592.98 L607.75 594.23 L608.22 595.5 L608.65 596.79 L609.04 598.08 L609.39 599.4 L609.69 600.72 L609.94 602.05 L610.15 603.39 L610.32 604.73 L610.44 606.08 L610.52 607.44 L610.55 608.79 L610.54 610.15 L610.48 611.5 L610.37 612.85 L610.22 614.2 L610.03 615.54 L609.79 616.87 L609.51 618.2 L609.18 619.52 L608.81 620.82 L608.39 622.11 L607.93 623.39 L607.44 624.65 L606.89 625.89 L606.31 627.11 L605.69 628.32 L605.02 629.5 L604.32 630.66 L603.58 631.79 L602.8 632.9" fill="none" stroke="#000" stroke-width="1.15"/>
<path d="M598.69 574.68 L599.82 575.66 L600.91 576.67 L601.98 577.73 L603.01 578.81 L604 579.93 L604.95 581.09 L605.86 582.27 L606.74 583.48 L607.57 584.73 L608.36 585.99 L609.11 587.29 L609.81 588.61 L610.47 589.95 L611.09 591.31 L611.66 592.7 L612.18 594.1 L612.66 595.52 L613.09 596.95 L613.46 598.4 L613.8 599.86 L614.08 601.32 L614.31 602.8 L614.5 604.29 L614.63 605.78 L614.71 607.27 L614.75 608.76 L614.73 610.26 L614.67 611.75 L614.55 613.25 L614.39 614.73 L614.17 616.21 L613.91 617.68 L613.6 619.15 L613.24 620.6 L612.83 622.04 L612.37 623.46 L611.86 624.87 L611.31 626.26 L610.72 627.63 L610.07 628.98 L609.38 630.31 L608.65 631.61 L607.88 632.89 L607.06 634.15 L606.2 635.37" fill="none" stroke="rgba(45,35,120,0.32)" stroke-width="1.5"/>
<path d="M607.42 636.25 L606.57 637.38 L605.68 638.49 L604.77 639.57 L603.82 640.62 L602.84 641.64 L601.82 642.63 L600.78 643.59 L599.71 644.52 L598.61 645.41 L597.49 646.27 L596.34 647.09 L595.16 647.88 L593.96 648.64 L592.74 649.35 L591.5 650.03 L588.85 644.98 L589.94 644.39 L591.01 643.76 L592.06 643.1 L593.09 642.41 L594.1 641.69 L595.09 640.93 L596.05 640.15 L596.99 639.34 L597.9 638.5 L598.79 637.63 L599.65 636.73 L600.48 635.81 L601.28 634.87 L602.06 633.9 L602.8 632.9Z" fill="url(#g93)"/>
<path d="M602.8 632.9 L602.06 633.9 L601.28 634.87 L600.48 635.81 L599.65 636.73 L598.79 637.63 L597.9 638.5 L596.99 639.34 L596.05 640.15 L595.09 640.93 L594.1 641.69 L593.09 642.41 L592.06 643.1 L591.01 643.76 L589.94 644.39 L588.85 644.98" fill="none" stroke="#000" stroke-width="1.15"/>
<path d="M606.2 635.37 L605.38 636.47 L604.53 637.54 L603.64 638.58 L602.72 639.6 L601.77 640.58 L600.79 641.54 L599.78 642.47 L598.75 643.37 L597.69 644.23 L596.6 645.06 L595.48 645.86 L594.35 646.62 L593.19 647.35 L592 648.05 L590.8 648.7" fill="none" stroke="rgba(45,35,120,0.32)" stroke-width="1.5"/>
<path d="M591.5 650.03 L590.32 650.63 L589.13 651.19 L587.92 651.72 L586.7 652.22 L585.46 652.68 L584.21 653.1 L582.95 653.49 L581.67 653.84 L580.23 648.33 L581.35 648.02 L582.45 647.68 L583.55 647.3 L584.63 646.9 L585.71 646.47 L586.77 646 L587.81 645.51 L588.85 644.98Z" fill="url(#g94)"/>
<path d="M588.85 644.98 L587.81 645.51 L586.77 646 L585.71 646.47 L584.63 646.9 L583.55 647.3 L582.45 647.68 L581.35 648.02 L580.23 648.33" fill="none" stroke="#000" stroke-width="1.15"/>
<path d="M590.8 648.7 L589.66 649.28 L588.51 649.83 L587.34 650.34 L586.15 650.82 L584.96 651.26 L583.75 651.67 L582.52 652.05 L581.29 652.39" fill="none" stroke="rgba(45,35,120,0.32)" stroke-width="1.5"/>
<path d="M581.67 653.84 L580.5 654.13 L579.32 654.39 L578.13 654.62 L576.94 654.82 L575.74 654.99 L574.54 655.12 L573.33 655.23 L572.92 649.54 L573.97 649.45 L575.03 649.33 L576.08 649.18 L577.12 649.01 L578.17 648.81 L579.2 648.58 L580.23 648.33Z" fill="url(#g95)"/>
<path d="M580.23 648.33 L579.2 648.58 L578.17 648.81 L577.12 649.01 L576.08 649.18 L575.03 649.33 L573.97 649.45 L572.92 649.54" fill="none" stroke="#000" stroke-width="1.15"/>
<path d="M581.29 652.39 L580.16 652.67 L579.01 652.92 L577.87 653.15 L576.71 653.34 L575.55 653.5 L574.39 653.63 L573.22 653.73" fill="none" stroke="rgba(45,35,120,0.32)" stroke-width="1.5"/>
<path d="M573.33 655.23 L572.02 655.3 L570.7 655.34 L569.38 655.35 L568.06 655.31 L566.74 655.24 L565.43 655.13 L564.11 654.98 L564.83 649.33 L565.98 649.46 L567.14 649.55 L568.29 649.62 L569.45 649.65 L570.61 649.64 L571.76 649.61 L572.92 649.54Z" fill="url(#g96)"/>
<path d="M572.92 649.54 L571.76 649.61 L570.61 649.64 L569.45 649.65 L568.29 649.62 L567.14 649.55 L565.98 649.46 L564.83 649.33" fill="none" stroke="#000" stroke-width="1.15"/>
<path d="M573.22 653.73 L571.95 653.81 L570.67 653.84 L569.4 653.85 L568.12 653.81 L566.84 653.74 L565.57 653.64 L564.3 653.49" fill="none" stroke="rgba(45,35,120,0.32)" stroke-width="1.5"/>
<path d="M559.23 654.09 L557.74 653.71 L556.26 653.28 L554.8 652.8 L553.35 652.27 L551.92 651.7 L550.52 651.07 L549.13 650.4 L547.77 649.69 L546.43 648.93 L545.11 648.13 L543.83 647.28 L542.57 646.39 L541.35 645.46 L540.15 644.49 L538.99 643.48 L537.86 642.43 L536.77 641.34 L535.72 640.22 L534.7 639.07 L533.72 637.88 L532.78 636.66 L531.89 635.41 L531.03 634.13 L530.22 632.82 L529.45 631.49 L528.73 630.13 L528.05 628.75 L527.42 627.34 L526.83 625.92 L526.3 624.48 L525.81 623.02 L525.37 621.54 L524.98 620.05 L524.64 618.55 L530.21 617.38 L530.51 618.7 L530.86 620 L531.24 621.3 L531.67 622.58 L532.14 623.84 L532.65 625.09 L533.21 626.32 L533.8 627.53 L534.44 628.73 L535.11 629.9 L535.82 631.04 L536.57 632.16 L537.36 633.26 L538.18 634.33 L539.04 635.37 L539.93 636.39 L540.86 637.37 L541.81 638.32 L542.8 639.24 L543.82 640.12 L544.87 640.98 L545.94 641.79 L547.05 642.57 L548.17 643.31 L549.32 644.02 L550.5 644.69 L551.69 645.31 L552.91 645.9 L554.14 646.45 L555.39 646.95 L556.66 647.41 L557.94 647.83 L559.24 648.21 L560.55 648.55Z" fill="url(#g97)"/>
<path d="M560.55 648.55 L559.24 648.21 L557.94 647.83 L556.66 647.41 L555.39 646.95 L554.14 646.45 L552.91 645.9 L551.69 645.31 L550.5 644.69 L549.32 644.02 L548.17 643.31 L547.05 642.57 L545.94 641.79 L544.87 640.98 L543.82 640.12 L542.8 639.24 L541.81 638.32 L540.86 637.37 L539.93 636.39 L539.04 635.37 L538.18 634.33 L537.36 633.26 L536.57 632.16 L535.82 631.04 L535.11 629.9 L534.44 628.73 L533.8 627.53 L533.21 626.32 L532.65 625.09 L532.14 623.84 L531.67 622.58 L531.24 621.3 L530.86 620 L530.51 618.7 L530.21 617.38" fill="none" stroke="#000" stroke-width="1.15"/>
<path d="M559.58 652.63 L558.13 652.26 L556.7 651.85 L555.29 651.38 L553.89 650.87 L552.51 650.31 L551.14 649.71 L549.8 649.06 L548.48 648.37 L547.19 647.64 L545.92 646.86 L544.68 646.04 L543.46 645.18 L542.27 644.28 L541.12 643.34 L539.99 642.36 L538.9 641.35 L537.85 640.3 L536.83 639.21 L535.84 638.1 L534.89 636.95 L533.99 635.77 L533.12 634.56 L532.29 633.32 L531.51 632.05 L530.76 630.76 L530.06 629.45 L529.41 628.11 L528.8 626.75 L528.23 625.37 L527.71 623.98 L527.24 622.56 L526.81 621.14 L526.43 619.7 L526.1 618.24" fill="none" stroke="rgba(45,35,120,0.32)" stroke-width="1.5"/>
<path d="M524.64 618.55 L524.35 617.05 L524.11 615.53 L523.92 614.01 L523.78 612.49 L523.69 610.96 L523.65 609.43 L523.66 607.89 L523.73 606.36 L523.84 604.83 L524.01 603.31 L524.22 601.79 L524.49 600.28 L524.8 598.78 L525.17 597.29 L525.58 595.82 L526.04 594.36 L526.55 592.91 L527.11 591.49 L527.72 590.08 L528.37 588.69 L529.06 587.33 L529.8 585.98 L530.59 584.67 L531.42 583.38 L532.29 582.12 L533.2 580.89 L534.15 579.69 L535.14 578.52 L536.17 577.38 L537.24 576.28 L538.34 575.22 L539.48 574.19 L540.65 573.2 L541.85 572.25 L543.09 571.34 L544.35 570.47 L547.5 575.22 L546.39 575.98 L545.31 576.78 L544.26 577.61 L543.23 578.48 L542.23 579.38 L541.27 580.32 L540.33 581.28 L539.43 582.28 L538.56 583.3 L537.73 584.35 L536.93 585.43 L536.16 586.54 L535.44 587.67 L534.75 588.82 L534.1 590 L533.49 591.2 L532.92 592.41 L532.38 593.65 L531.9 594.9 L531.45 596.17 L531.04 597.45 L530.68 598.74 L530.36 600.05 L530.08 601.36 L529.85 602.69 L529.66 604.02 L529.52 605.35 L529.42 606.69 L529.36 608.04 L529.35 609.38 L529.38 610.72 L529.46 612.06 L529.58 613.4 L529.75 614.74 L529.96 616.06 L530.21 617.38Z" fill="url(#g98)"/>
<path d="M530.21 617.38 L529.96 616.06 L529.75 614.74 L529.58 613.4 L529.46 612.06 L529.38 610.72 L529.35 609.38 L529.36 608.04 L529.42 606.69 L529.52 605.35 L529.66 604.02 L529.85 602.69 L530.08 601.36 L530.36 600.05 L530.68 598.74 L531.04 597.45 L531.45 596.17 L531.9 594.9 L532.38 593.65 L532.92 592.41 L533.49 591.2 L534.1 590 L534.75 588.82 L535.44 587.67 L536.16 586.54 L536.93 585.43 L537.73 584.35 L538.56 583.3 L539.43 582.28 L540.33 581.28 L541.27 580.32 L542.23 579.38 L543.23 578.48 L544.26 577.61 L545.31 576.78 L546.39 575.98 L547.5 575.22" fill="none" stroke="#000" stroke-width="1.15"/>
<path d="M526.1 618.24 L525.82 616.79 L525.59 615.32 L525.41 613.85 L525.27 612.38 L525.19 610.9 L525.15 609.41 L525.16 607.93 L525.23 606.45 L525.34 604.97 L525.5 603.5 L525.7 602.03 L525.96 600.57 L526.27 599.12 L526.62 597.68 L527.02 596.25 L527.47 594.83 L527.96 593.44 L528.5 592.05 L529.08 590.69 L529.71 589.35 L530.39 588.03 L531.11 586.73 L531.87 585.46 L532.67 584.21 L533.51 582.99 L534.39 581.8 L535.31 580.64 L536.27 579.51 L537.27 578.41 L538.3 577.34 L539.37 576.31 L540.47 575.32 L541.6 574.36 L542.76 573.44 L543.96 572.56 L545.18 571.72" fill="none" stroke="rgba(45,35,120,0.32)" stroke-width="1.5"/>
<line x1="560.55" y1="648.55" x2="559.23" y2="654.09" stroke="#000" stroke-width="1.3"/>
<line x1="530.21" y1="617.38" x2="524.64" y2="618.55" stroke="#000" stroke-width="1.3"/>
<line x1="572.98" y1="568.56" x2="573.41" y2="562.88" stroke="#000" stroke-width="1.3"/>
<line x1="580.23" y1="648.33" x2="581.67" y2="653.84" stroke="#000" stroke-width="1.3"/>
<line x1="547.5" y1="575.22" x2="544.35" y2="570.47" stroke="#000" stroke-width="1.3"/>
<line x1="595.99" y1="577.9" x2="599.65" y2="573.53" stroke="#000" stroke-width="1.3"/>
<line x1="572.92" y1="649.54" x2="573.33" y2="655.23" stroke="#000" stroke-width="1.3"/>
<line x1="588.85" y1="644.98" x2="591.5" y2="650.03" stroke="#000" stroke-width="1.3"/>
<line x1="587.81" y1="572.59" x2="590.32" y2="567.47" stroke="#000" stroke-width="1.3"/>
<line x1="564.83" y1="649.33" x2="564.11" y2="654.98" stroke="#000" stroke-width="1.3"/>
<line x1="602.8" y1="632.9" x2="607.42" y2="636.25" stroke="#000" stroke-width="1.3"/>
<line x1="547.5" y1="575.22" x2="544.35" y2="570.47" stroke="#000" stroke-width="1.3"/>
<path d="M544.35 570.47 L545.7 569.61 L547.07 568.8 L548.47 568.03 L549.9 567.31 L551.36 566.65 L552.83 566.03 L554.33 565.47 L555.84 564.95 L557.37 564.49 L558.91 564.08 L560.47 563.73 L562.04 563.43 L563.62 563.18 L565.21 562.99 L566.8 562.86 L568.4 562.78 L570 562.75 L571.59 562.78 L573.19 562.86 L574.78 563 L576.37 563.2 L577.95 563.45 L579.52 563.75 L581.08 564.11 L582.62 564.52 L584.15 564.98 L585.66 565.5 L587.16 566.07 L588.63 566.69 L590.08 567.36 L591.51 568.08 L592.91 568.84 L594.28 569.66 L595.63 570.52 L596.94 571.43 L598.23 572.39 L599.47 573.38 L600.69 574.42 L601.86 575.51 L603 576.63 L604.1 577.79 L605.16 578.99 L606.18 580.22 L607.15 581.49 L608.08 582.79 L608.96 584.12 L609.8 585.48 L610.59 586.87 L611.33 588.29 L612.02 589.73 L612.67 591.19 L613.26 592.68 L613.8 594.18 L614.28 595.7 L614.72 597.24 L615.1 598.79 L615.43 600.36 L615.7 601.93 L615.92 603.52 L616.08 605.11 L616.19 606.7 L616.24 608.3 L616.24 609.9 L616.19 611.49 L616.07 613.09 L615.91 614.68 L615.69 616.26 L615.41 617.83 L615.08 619.4 L614.69 620.95 L614.26 622.49 L613.77 624.01 L613.22 625.51 L612.63 627 L611.99 628.46 L611.29 629.9 L610.55 631.31 L609.75 632.7 L608.91 634.06 L608.03 635.39 L607.1 636.69 L606.12 637.95 L605.1 639.19 L604.04 640.38 L602.94 641.54 L601.8 642.66 L600.62 643.74 L599.4 644.77 L598.15 645.77 L596.87 646.72 L595.55 647.63 L594.2 648.49 L592.83 649.3 L591.43 650.07 L590 650.79 L588.54 651.45 L587.07 652.07 L585.57 652.63 L584.06 653.15 L582.53 653.61 L580.99 654.02 L579.43 654.37 L577.86 654.67 L576.28 654.92 L574.69 655.11 L573.1 655.24 L571.5 655.32 L569.9 655.35 L568.31 655.32 L566.71 655.24 L565.12 655.1 L563.53 654.9 L561.95 654.65 L560.38 654.35 L558.82 653.99 L557.28 653.58 L555.75 653.12 L554.24 652.6 L552.74 652.03 L551.27 651.41 L549.82 650.74 L548.39 650.02 L546.99 649.26 L545.62 648.44 L544.27 647.58 L542.96 646.67 L541.67 645.71 L540.43 644.72 L539.21 643.68 L538.04 642.59 L536.9 641.47 L535.8 640.31 L534.74 639.11 L533.72 637.88 L532.75 636.61 L531.82 635.31 L530.94 633.98 L530.1 632.62 L529.31 631.23 L528.57 629.81 L527.88 628.37 L527.23 626.91 L526.64 625.42 L526.1 623.92 L525.62 622.4 L525.18 620.86 L524.8 619.31 L524.47 617.74 L524.2 616.17 L523.98 614.58 L523.82 612.99 L523.71 611.4 L523.66 609.8 L523.66 608.2 L523.71 606.61 L523.83 605.01 L523.99 603.42 L524.21 601.84 L524.49 600.27 L524.82 598.7 L525.21 597.15 L525.64 595.61 L526.13 594.09 L526.68 592.59 L527.27 591.1 L527.91 589.64 L528.61 588.2 L529.35 586.79 L530.15 585.4 L530.99 584.04 L531.87 582.71 L532.8 581.41 L533.78 580.15 L534.8 578.91 L535.86 577.72 L536.96 576.56 L538.1 575.44 L539.28 574.36 L540.5 573.33 L541.75 572.33 L543.03 571.38 L544.35 570.47" fill="none" stroke="#000" stroke-width="1.6"/>
<text x="556" y="562.1" font-size="8.6" fill="#111" font-weight="bold" text-anchor="middle" stroke="#111" stroke-width="0.3">URR</text>
<text x="584.2" y="562.3" font-size="8.6" fill="#f01010" font-weight="bold" text-anchor="middle" stroke="#f01010" stroke-width="0.3">E6</text>
<text x="598.2" y="568.3" font-size="8.6" fill="#f01010" font-weight="bold" text-anchor="middle" stroke="#f01010" stroke-width="0.3">E7</text>
<text x="518.8" y="595.1" font-size="8.6" fill="#111" font-weight="bold" text-anchor="middle" stroke="#111" stroke-width="0.3">L1</text>
<text x="621.4" y="603.5" font-size="8.6" fill="#111" font-weight="bold" text-anchor="middle" stroke="#111" stroke-width="0.3">E1</text>
<text x="532.4" y="651.1" font-size="8.6" fill="#111" font-weight="bold" text-anchor="middle" stroke="#111" stroke-width="0.3">L2</text>
<text x="570.1" y="663.9" font-size="8.6" fill="#111" font-weight="bold" text-anchor="middle" stroke="#111" stroke-width="0.3">E5</text>
<text x="590.7" y="660.9" font-size="8.6" fill="#111" font-weight="bold" text-anchor="middle" stroke="#111" stroke-width="0.3">E4</text>
<text x="604.6" y="654.1" font-size="8.6" fill="#111" font-weight="bold" text-anchor="middle" stroke="#111" stroke-width="0.3">E2</text>
<line x1="651.61" y1="607.89" x2="628.62" y2="607.28" stroke="#000" stroke-width="1.6"/>
<line x1="668.48" y1="637.54" x2="657.24" y2="657.61" stroke="#000" stroke-width="1.6"/>
<path d="M647.31 607.77 L647.37 606.48 L647.47 605.19 L647.62 603.91 L647.81 602.63 L648.04 601.36 L648.32 600.1 L648.64 598.85 L649 597.61 L649.41 596.38 L649.86 595.17 L650.35 593.98 L650.88 592.8 L651.46 591.64 L652.07 590.5 L652.72 589.39 L653.41 588.29 L654.14 587.23 L654.9 586.18 L655.7 585.17 L656.53 584.18 L657.4 583.22 L658.3 582.3 L659.24 581.4 L660.2 580.54 L661.19 579.71 L662.21 578.92 L663.26 578.16 L664.33 577.44 L665.43 576.76 L666.55 576.11 L667.69 575.51 L668.85 574.94 L670.03 574.41 L671.23 573.93 L672.44 573.49 L673.67 573.09 L674.91 572.73 L676.16 572.42 L677.43 572.15 L678.7 571.92 L679.98 571.74 L681.26 571.6 L682.55 571.51 L683.84 571.46 L685.14 571.45 L686.43 571.49 L687.72 571.58 L689 571.71 L690.28 571.89 L691.56 572.1 L692.82 572.37 L694.08 572.67 L695.32 573.02 L696.55 573.42 L697.77 573.85 L698.97 574.33 L700.15 574.85 L701.32 575.41 L702.46 576.01 L703.59 576.64 L704.69 577.32 L705.76 578.04 L706.82 578.79 L707.84 579.57 L708.84 580.4 L709.8 581.25 L710.74 582.14 L711.65 583.06 L712.52 584.02 L713.36 585 L714.17 586.01 L714.94 587.05 L715.67 588.11 L716.37 589.2 L717.02 590.31 L717.64 591.45 L718.22 592.6 L718.76 593.78 L719.26 594.97 L719.72 596.18 L720.13 597.4 L720.5 598.64 L720.83 599.89 L721.12 601.15 L721.36 602.42 L721.56 603.69 L721.71 604.98 L721.82 606.26 L721.88 607.56 L721.9 608.85 L721.87 610.14 L721.8 611.43 L721.69 612.72 L721.53 614 L721.32 615.28 L721.08 616.54 L720.78 617.8 L720.45 619.05 L720.07 620.29 L719.65 621.51 L719.19 622.71 L718.68 623.9 L718.14 625.07 L717.55 626.23 L716.93 627.36 L716.26 628.47 L715.56 629.55 L714.82 630.61 L714.05 631.64 L713.24 632.65 L712.39 633.63 L711.51 634.58 L710.6 635.49 L709.66 636.38 L708.69 637.23 L707.69 638.05 L706.66 638.83 L705.6 639.57 L704.52 640.28 L703.42 640.95 L702.29 641.59 L701.14 642.18 L699.98 642.73 L698.79 643.25 L697.59 643.72 L696.37 644.15 L695.13 644.53 L693.89 644.87 L692.63 645.17 L691.37 645.43 L690.09 645.64 L688.81 645.81 L687.52 645.94 L686.23 646.01 L684.94 646.05 L683.65 646.04 L682.36 645.98 L681.07 645.88 L679.79 645.74 L678.51 645.55 L677.24 645.32 L675.97 645.04 L674.72 644.72 L673.48 644.35 L672.26 643.95 L671.04 643.5 L669.85 643.01 L668.67 642.48 L667.51 641.91 L666.37 641.29" fill="none" stroke="#ffa200" stroke-width="2.8"/>
<path d="M659 570.17 L660.29 569.35 L661.6 568.57 L662.94 567.83 L664.3 567.14 L665.69 566.49 L667.1 565.89 L668.52 565.33 L669.96 564.82 L671.42 564.37 L672.89 563.95 L674.38 563.59 L675.88 563.28 L677.38 563.02 L678.9 562.8 L680.42 562.64 L681.94 562.53 L683.47 562.46 L685 562.45 L686.53 562.49 L688.06 562.58 L687.63 568.26 L686.29 568.19 L684.95 568.15 L683.61 568.16 L682.27 568.22 L680.93 568.32 L679.6 568.46 L678.27 568.65 L676.95 568.88 L675.64 569.15 L674.34 569.47 L673.04 569.83 L671.77 570.23 L670.5 570.68 L669.25 571.16 L668.02 571.69 L666.8 572.26 L665.61 572.87 L664.43 573.51 L663.28 574.2 L662.15 574.92Z" fill="url(#g99)"/>
<path d="M662.15 574.92 L663.28 574.2 L664.43 573.51 L665.61 572.87 L666.8 572.26 L668.02 571.69 L669.25 571.16 L670.5 570.68 L671.77 570.23 L673.04 569.83 L674.34 569.47 L675.64 569.15 L676.95 568.88 L678.27 568.65 L679.6 568.46 L680.93 568.32 L682.27 568.22 L683.61 568.16 L684.95 568.15 L686.29 568.19 L687.63 568.26" fill="none" stroke="#000" stroke-width="1.15"/>
<path d="M659.83 571.42 L661.07 570.62 L662.35 569.87 L663.64 569.15 L664.96 568.48 L666.3 567.86 L667.66 567.28 L669.04 566.74 L670.44 566.25 L671.85 565.8 L673.27 565.41 L674.71 565.05 L676.16 564.75 L677.62 564.5 L679.08 564.29 L680.55 564.13 L682.03 564.02 L683.51 563.96 L684.99 563.95 L686.47 563.99 L687.94 564.07" fill="none" stroke="rgba(45,35,120,0.32)" stroke-width="1.5"/>
<path d="M688.06 562.58 L689.52 562.71 L690.98 562.89 L692.43 563.12 L693.87 563.39 L695.31 563.7 L696.73 564.07 L698.14 564.47 L699.54 564.93 L700.92 565.42 L702.29 565.96 L703.64 566.55 L704.97 567.17 L702.46 572.29 L701.29 571.74 L700.11 571.23 L698.91 570.76 L697.7 570.32 L696.47 569.93 L695.24 569.57 L693.99 569.25 L692.73 568.97 L691.46 568.73 L690.19 568.54 L688.91 568.38 L687.63 568.26Z" fill="url(#g100)"/>
<path d="M687.63 568.26 L688.91 568.38 L690.19 568.54 L691.46 568.73 L692.73 568.97 L693.99 569.25 L695.24 569.57 L696.47 569.93 L697.7 570.32 L698.91 570.76 L700.11 571.23 L701.29 571.74 L702.46 572.29" fill="none" stroke="#000" stroke-width="1.15"/>
<path d="M687.94 564.07 L689.36 564.2 L690.77 564.38 L692.17 564.6 L693.57 564.86 L694.96 565.16 L696.34 565.51 L697.7 565.91 L699.06 566.35 L700.39 566.83 L701.72 567.35 L703.02 567.91 L704.31 568.52" fill="none" stroke="rgba(45,35,120,0.32)" stroke-width="1.5"/>
<path d="M704.97 567.17 L706.21 567.8 L707.43 568.47 L708.63 569.18 L709.82 569.92 L710.97 570.7 L712.11 571.51 L713.21 572.35 L714.3 573.23 L710.64 577.6 L709.69 576.83 L708.72 576.09 L707.73 575.38 L706.71 574.7 L705.68 574.05 L704.62 573.43 L703.55 572.84 L702.46 572.29Z" fill="url(#g101)"/>
<path d="M702.46 572.29 L703.55 572.84 L704.62 573.43 L705.68 574.05 L706.71 574.7 L707.73 575.38 L708.72 576.09 L709.69 576.83 L710.64 577.6" fill="none" stroke="#000" stroke-width="1.15"/>
<path d="M704.31 568.52 L705.51 569.13 L706.69 569.78 L707.86 570.46 L709 571.18 L710.12 571.93 L711.22 572.71 L712.29 573.53 L713.34 574.38" fill="none" stroke="rgba(45,35,120,0.32)" stroke-width="1.5"/>
<path d="M714.3 573.23 L715.47 574.24 L716.6 575.29 L717.7 576.38 L718.76 577.5 L719.79 578.66 L720.77 579.85 L721.72 581.07 L722.62 582.33 L723.48 583.61 L724.3 584.92 L725.07 586.26 L725.8 587.62 L726.48 589.01 L727.12 590.42 L727.71 591.85 L728.25 593.3 L728.74 594.76 L729.18 596.25 L729.57 597.74 L729.91 599.25 L730.21 600.77 L730.45 602.29 L730.64 603.83 L730.78 605.37 L730.86 606.91 L730.9 608.45 L730.88 610 L730.82 611.54 L730.7 613.09 L730.53 614.62 L730.3 616.15 L730.03 617.67 L729.71 619.19 L729.34 620.69 L728.91 622.17 L728.44 623.64 L727.92 625.1 L727.35 626.54 L726.73 627.95 L726.07 629.35 L725.36 630.72 L724.6 632.07 L723.8 633.39 L722.95 634.69 L722.07 635.95 L717.45 632.6 L718.23 631.49 L718.97 630.36 L719.67 629.2 L720.34 628.02 L720.96 626.81 L721.54 625.59 L722.09 624.35 L722.58 623.09 L723.04 621.81 L723.46 620.52 L723.83 619.22 L724.16 617.9 L724.44 616.57 L724.68 615.24 L724.87 613.9 L725.02 612.55 L725.13 611.2 L725.19 609.85 L725.2 608.49 L725.17 607.14 L725.09 605.78 L724.97 604.43 L724.8 603.09 L724.59 601.75 L724.34 600.42 L724.04 599.1 L723.69 597.78 L723.3 596.49 L722.87 595.2 L722.4 593.93 L721.88 592.68 L721.33 591.44 L720.73 590.23 L720.09 589.03 L719.41 587.86 L718.69 586.71 L717.94 585.58 L717.15 584.48 L716.32 583.41 L715.46 582.36 L714.56 581.35 L713.63 580.36 L712.66 579.41 L711.67 578.49 L710.64 577.6Z" fill="url(#g102)"/>
<path d="M710.64 577.6 L711.67 578.49 L712.66 579.41 L713.63 580.36 L714.56 581.35 L715.46 582.36 L716.32 583.41 L717.15 584.48 L717.94 585.58 L718.69 586.71 L719.41 587.86 L720.09 589.03 L720.73 590.23 L721.33 591.44 L721.88 592.68 L722.4 593.93 L722.87 595.2 L723.3 596.49 L723.69 597.78 L724.04 599.1 L724.34 600.42 L724.59 601.75 L724.8 603.09 L724.97 604.43 L725.09 605.78 L725.17 607.14 L725.2 608.49 L725.19 609.85 L725.13 611.2 L725.02 612.55 L724.87 613.9 L724.68 615.24 L724.44 616.57 L724.16 617.9 L723.83 619.22 L723.46 620.52 L723.04 621.81 L722.58 623.09 L722.09 624.35 L721.54 625.59 L720.96 626.81 L720.34 628.02 L719.67 629.2 L718.97 630.36 L718.23 631.49 L717.45 632.6" fill="none" stroke="#000" stroke-width="1.15"/>
<path d="M713.34 574.38 L714.47 575.36 L715.56 576.37 L716.63 577.43 L717.66 578.51 L718.65 579.63 L719.6 580.79 L720.51 581.97 L721.39 583.18 L722.22 584.43 L723.01 585.69 L723.76 586.99 L724.46 588.31 L725.12 589.65 L725.74 591.01 L726.31 592.4 L726.83 593.8 L727.31 595.22 L727.74 596.65 L728.11 598.1 L728.45 599.56 L728.73 601.02 L728.96 602.5 L729.15 603.99 L729.28 605.48 L729.36 606.97 L729.4 608.46 L729.38 609.96 L729.32 611.45 L729.2 612.95 L729.04 614.43 L728.82 615.91 L728.56 617.38 L728.25 618.85 L727.89 620.3 L727.48 621.74 L727.02 623.16 L726.51 624.57 L725.96 625.96 L725.37 627.33 L724.72 628.68 L724.03 630.01 L723.3 631.31 L722.53 632.59 L721.71 633.85 L720.85 635.07" fill="none" stroke="rgba(45,35,120,0.32)" stroke-width="1.5"/>
<path d="M722.07 635.95 L721.22 637.08 L720.33 638.19 L719.42 639.27 L718.47 640.32 L717.49 641.34 L716.47 642.33 L715.43 643.29 L714.36 644.22 L713.26 645.11 L712.14 645.97 L710.99 646.79 L709.81 647.58 L708.61 648.34 L707.39 649.05 L706.15 649.73 L703.5 644.68 L704.59 644.09 L705.66 643.46 L706.71 642.8 L707.74 642.11 L708.75 641.39 L709.74 640.63 L710.7 639.85 L711.64 639.04 L712.55 638.2 L713.44 637.33 L714.3 636.43 L715.13 635.51 L715.93 634.57 L716.71 633.6 L717.45 632.6Z" fill="url(#g103)"/>
<path d="M717.45 632.6 L716.71 633.6 L715.93 634.57 L715.13 635.51 L714.3 636.43 L713.44 637.33 L712.55 638.2 L711.64 639.04 L710.7 639.85 L709.74 640.63 L708.75 641.39 L707.74 642.11 L706.71 642.8 L705.66 643.46 L704.59 644.09 L703.5 644.68" fill="none" stroke="#000" stroke-width="1.15"/>
<path d="M720.85 635.07 L720.03 636.17 L719.18 637.24 L718.29 638.28 L717.37 639.3 L716.42 640.28 L715.44 641.24 L714.43 642.17 L713.4 643.07 L712.34 643.93 L711.25 644.76 L710.13 645.56 L709 646.32 L707.84 647.05 L706.65 647.75 L705.45 648.4" fill="none" stroke="rgba(45,35,120,0.32)" stroke-width="1.5"/>
<path d="M706.15 649.73 L704.97 650.33 L703.78 650.89 L702.57 651.42 L701.35 651.92 L700.11 652.38 L698.86 652.8 L697.6 653.19 L696.32 653.54 L694.88 648.03 L696 647.72 L697.1 647.38 L698.2 647 L699.28 646.6 L700.36 646.17 L701.42 645.7 L702.46 645.21 L703.5 644.68Z" fill="url(#g104)"/>
<path d="M703.5 644.68 L702.46 645.21 L701.42 645.7 L700.36 646.17 L699.28 646.6 L698.2 647 L697.1 647.38 L696 647.72 L694.88 648.03" fill="none" stroke="#000" stroke-width="1.15"/>
<path d="M705.45 648.4 L704.31 648.98 L703.16 649.53 L701.99 650.04 L700.8 650.52 L699.61 650.96 L698.4 651.37 L697.17 651.75 L695.94 652.09" fill="none" stroke="rgba(45,35,120,0.32)" stroke-width="1.5"/>
<path d="M696.32 653.54 L695.15 653.83 L693.97 654.09 L692.78 654.32 L691.59 654.52 L690.39 654.69 L689.19 654.82 L687.98 654.93 L687.57 649.24 L688.62 649.15 L689.68 649.03 L690.73 648.88 L691.77 648.71 L692.82 648.51 L693.85 648.28 L694.88 648.03Z" fill="url(#g105)"/>
<path d="M694.88 648.03 L693.85 648.28 L692.82 648.51 L691.77 648.71 L690.73 648.88 L689.68 649.03 L688.62 649.15 L687.57 649.24" fill="none" stroke="#000" stroke-width="1.15"/>
<path d="M695.94 652.09 L694.81 652.37 L693.66 652.62 L692.52 652.85 L691.36 653.04 L690.2 653.2 L689.04 653.33 L687.87 653.43" fill="none" stroke="rgba(45,35,120,0.32)" stroke-width="1.5"/>
<path d="M687.98 654.93 L686.67 655 L685.35 655.04 L684.03 655.05 L682.71 655.01 L681.39 654.94 L680.08 654.83 L678.76 654.68 L679.48 649.03 L680.63 649.16 L681.79 649.25 L682.94 649.32 L684.1 649.35 L685.26 649.34 L686.41 649.31 L687.57 649.24Z" fill="url(#g106)"/>
<path d="M687.57 649.24 L686.41 649.31 L685.26 649.34 L684.1 649.35 L682.94 649.32 L681.79 649.25 L680.63 649.16 L679.48 649.03" fill="none" stroke="#000" stroke-width="1.15"/>
<path d="M687.87 653.43 L686.6 653.51 L685.32 653.54 L684.05 653.55 L682.77 653.51 L681.49 653.44 L680.22 653.34 L678.95 653.19" fill="none" stroke="rgba(45,35,120,0.32)" stroke-width="1.5"/>
<path d="M673.88 653.79 L672.39 653.41 L670.91 652.98 L669.45 652.5 L668 651.97 L666.57 651.4 L665.17 650.77 L663.78 650.1 L662.42 649.39 L661.08 648.63 L659.76 647.83 L658.48 646.98 L657.22 646.09 L656 645.16 L654.8 644.19 L653.64 643.18 L652.51 642.13 L651.42 641.04 L650.37 639.92 L649.35 638.77 L648.37 637.58 L647.43 636.36 L646.54 635.11 L645.68 633.83 L644.87 632.52 L644.1 631.19 L643.38 629.83 L642.7 628.45 L642.07 627.04 L641.48 625.62 L640.95 624.18 L640.46 622.72 L640.02 621.24 L639.63 619.75 L639.29 618.25 L644.86 617.08 L645.16 618.4 L645.51 619.7 L645.89 621 L646.32 622.28 L646.79 623.54 L647.3 624.79 L647.86 626.02 L648.45 627.23 L649.09 628.43 L649.76 629.6 L650.47 630.74 L651.22 631.86 L652.01 632.96 L652.83 634.03 L653.69 635.07 L654.58 636.09 L655.51 637.07 L656.46 638.02 L657.45 638.94 L658.47 639.82 L659.52 640.68 L660.59 641.49 L661.7 642.27 L662.82 643.01 L663.97 643.72 L665.15 644.39 L666.34 645.01 L667.56 645.6 L668.79 646.15 L670.04 646.65 L671.31 647.11 L672.59 647.53 L673.89 647.91 L675.2 648.25Z" fill="url(#g107)"/>
<path d="M675.2 648.25 L673.89 647.91 L672.59 647.53 L671.31 647.11 L670.04 646.65 L668.79 646.15 L667.56 645.6 L666.34 645.01 L665.15 644.39 L663.97 643.72 L662.82 643.01 L661.7 642.27 L660.59 641.49 L659.52 640.68 L658.47 639.82 L657.45 638.94 L656.46 638.02 L655.51 637.07 L654.58 636.09 L653.69 635.07 L652.83 634.03 L652.01 632.96 L651.22 631.86 L650.47 630.74 L649.76 629.6 L649.09 628.43 L648.45 627.23 L647.86 626.02 L647.3 624.79 L646.79 623.54 L646.32 622.28 L645.89 621 L645.51 619.7 L645.16 618.4 L644.86 617.08" fill="none" stroke="#000" stroke-width="1.15"/>
<path d="M674.23 652.33 L672.78 651.96 L671.35 651.55 L669.94 651.08 L668.54 650.57 L667.16 650.01 L665.79 649.41 L664.45 648.76 L663.13 648.07 L661.84 647.34 L660.57 646.56 L659.33 645.74 L658.11 644.88 L656.92 643.98 L655.77 643.04 L654.64 642.06 L653.55 641.05 L652.5 640 L651.48 638.91 L650.49 637.8 L649.54 636.65 L648.64 635.47 L647.77 634.26 L646.94 633.02 L646.16 631.75 L645.41 630.46 L644.71 629.15 L644.06 627.81 L643.45 626.45 L642.88 625.07 L642.36 623.68 L641.89 622.26 L641.46 620.84 L641.08 619.4 L640.75 617.94" fill="none" stroke="rgba(45,35,120,0.32)" stroke-width="1.5"/>
<path d="M639.29 618.25 L639 616.75 L638.76 615.23 L638.57 613.71 L638.43 612.19 L638.34 610.66 L638.3 609.13 L638.31 607.59 L638.38 606.06 L638.49 604.53 L638.66 603.01 L638.87 601.49 L639.14 599.98 L639.45 598.48 L639.82 596.99 L640.23 595.52 L640.69 594.06 L641.2 592.61 L641.76 591.19 L642.37 589.78 L643.02 588.39 L643.71 587.03 L644.45 585.68 L645.24 584.37 L646.07 583.08 L646.94 581.82 L647.85 580.59 L648.8 579.39 L649.79 578.22 L650.82 577.08 L651.89 575.98 L652.99 574.92 L654.13 573.89 L655.3 572.9 L656.5 571.95 L657.74 571.04 L659 570.17 L662.15 574.92 L661.04 575.68 L659.96 576.48 L658.91 577.31 L657.88 578.18 L656.88 579.08 L655.92 580.02 L654.98 580.98 L654.08 581.98 L653.21 583 L652.38 584.05 L651.58 585.13 L650.81 586.24 L650.09 587.37 L649.4 588.52 L648.75 589.7 L648.14 590.9 L647.57 592.11 L647.03 593.35 L646.55 594.6 L646.1 595.87 L645.69 597.15 L645.33 598.44 L645.01 599.75 L644.73 601.06 L644.5 602.39 L644.31 603.72 L644.17 605.05 L644.07 606.39 L644.01 607.74 L644 609.08 L644.03 610.42 L644.11 611.76 L644.23 613.1 L644.4 614.44 L644.61 615.76 L644.86 617.08Z" fill="url(#g108)"/>
<path d="M644.86 617.08 L644.61 615.76 L644.4 614.44 L644.23 613.1 L644.11 611.76 L644.03 610.42 L644 609.08 L644.01 607.74 L644.07 606.39 L644.17 605.05 L644.31 603.72 L644.5 602.39 L644.73 601.06 L645.01 599.75 L645.33 598.44 L645.69 597.15 L646.1 595.87 L646.55 594.6 L647.03 593.35 L647.57 592.11 L648.14 590.9 L648.75 589.7 L649.4 588.52 L650.09 587.37 L650.81 586.24 L651.58 585.13 L652.38 584.05 L653.21 583 L654.08 581.98 L654.98 580.98 L655.92 580.02 L656.88 579.08 L657.88 578.18 L658.91 577.31 L659.96 576.48 L661.04 575.68 L662.15 574.92" fill="none" stroke="#000" stroke-width="1.15"/>
<path d="M640.75 617.94 L640.47 616.49 L640.24 615.02 L640.06 613.55 L639.92 612.08 L639.84 610.6 L639.8 609.11 L639.81 607.63 L639.88 606.15 L639.99 604.67 L640.15 603.2 L640.35 601.73 L640.61 600.27 L640.92 598.82 L641.27 597.38 L641.67 595.95 L642.12 594.53 L642.61 593.14 L643.15 591.75 L643.73 590.39 L644.36 589.05 L645.04 587.73 L645.76 586.43 L646.52 585.16 L647.32 583.91 L648.16 582.69 L649.04 581.5 L649.96 580.34 L650.92 579.21 L651.92 578.11 L652.95 577.04 L654.02 576.01 L655.12 575.02 L656.25 574.06 L657.41 573.14 L658.61 572.26 L659.83 571.42" fill="none" stroke="rgba(45,35,120,0.32)" stroke-width="1.5"/>
<line x1="675.2" y1="648.25" x2="673.88" y2="653.79" stroke="#000" stroke-width="1.3"/>
<line x1="644.86" y1="617.08" x2="639.29" y2="618.25" stroke="#000" stroke-width="1.3"/>
<line x1="687.63" y1="568.26" x2="688.06" y2="562.58" stroke="#000" stroke-width="1.3"/>
<line x1="694.88" y1="648.03" x2="696.32" y2="653.54" stroke="#000" stroke-width="1.3"/>
<line x1="662.15" y1="574.92" x2="659" y2="570.17" stroke="#000" stroke-width="1.3"/>
<line x1="710.64" y1="577.6" x2="714.3" y2="573.23" stroke="#000" stroke-width="1.3"/>
<line x1="687.57" y1="649.24" x2="687.98" y2="654.93" stroke="#000" stroke-width="1.3"/>
<line x1="703.5" y1="644.68" x2="706.15" y2="649.73" stroke="#000" stroke-width="1.3"/>
<line x1="702.46" y1="572.29" x2="704.97" y2="567.17" stroke="#000" stroke-width="1.3"/>
<line x1="679.48" y1="649.03" x2="678.76" y2="654.68" stroke="#000" stroke-width="1.3"/>
<line x1="717.45" y1="632.6" x2="722.07" y2="635.95" stroke="#000" stroke-width="1.3"/>
<line x1="662.15" y1="574.92" x2="659" y2="570.17" stroke="#000" stroke-width="1.3"/>
<path d="M659 570.17 L660.35 569.31 L661.72 568.5 L663.12 567.73 L664.55 567.01 L666.01 566.35 L667.48 565.73 L668.98 565.17 L670.49 564.65 L672.02 564.19 L673.56 563.78 L675.12 563.43 L676.69 563.13 L678.27 562.88 L679.86 562.69 L681.45 562.56 L683.05 562.48 L684.65 562.45 L686.24 562.48 L687.84 562.56 L689.43 562.7 L691.02 562.9 L692.6 563.15 L694.17 563.45 L695.73 563.81 L697.27 564.22 L698.8 564.68 L700.31 565.2 L701.81 565.77 L703.28 566.39 L704.73 567.06 L706.16 567.78 L707.56 568.54 L708.93 569.36 L710.28 570.22 L711.59 571.13 L712.88 572.09 L714.12 573.08 L715.34 574.12 L716.51 575.21 L717.65 576.33 L718.75 577.49 L719.81 578.69 L720.83 579.92 L721.8 581.19 L722.73 582.49 L723.61 583.82 L724.45 585.18 L725.24 586.57 L725.98 587.99 L726.67 589.43 L727.32 590.89 L727.91 592.38 L728.45 593.88 L728.93 595.4 L729.37 596.94 L729.75 598.49 L730.08 600.06 L730.35 601.63 L730.57 603.22 L730.73 604.81 L730.84 606.4 L730.89 608 L730.89 609.6 L730.84 611.19 L730.72 612.79 L730.56 614.38 L730.34 615.96 L730.06 617.53 L729.73 619.1 L729.34 620.65 L728.91 622.19 L728.42 623.71 L727.87 625.21 L727.28 626.7 L726.64 628.16 L725.94 629.6 L725.2 631.01 L724.4 632.4 L723.56 633.76 L722.68 635.09 L721.75 636.39 L720.77 637.65 L719.75 638.89 L718.69 640.08 L717.59 641.24 L716.45 642.36 L715.27 643.44 L714.05 644.47 L712.8 645.47 L711.52 646.42 L710.2 647.33 L708.85 648.19 L707.48 649 L706.08 649.77 L704.65 650.49 L703.19 651.15 L701.72 651.77 L700.22 652.33 L698.71 652.85 L697.18 653.31 L695.64 653.72 L694.08 654.07 L692.51 654.37 L690.93 654.62 L689.34 654.81 L687.75 654.94 L686.15 655.02 L684.55 655.05 L682.96 655.02 L681.36 654.94 L679.77 654.8 L678.18 654.6 L676.6 654.35 L675.03 654.05 L673.47 653.69 L671.93 653.28 L670.4 652.82 L668.89 652.3 L667.39 651.73 L665.92 651.11 L664.47 650.44 L663.04 649.72 L661.64 648.96 L660.27 648.14 L658.92 647.28 L657.61 646.37 L656.32 645.41 L655.08 644.42 L653.86 643.38 L652.69 642.29 L651.55 641.17 L650.45 640.01 L649.39 638.81 L648.37 637.58 L647.4 636.31 L646.47 635.01 L645.59 633.68 L644.75 632.32 L643.96 630.93 L643.22 629.51 L642.53 628.07 L641.88 626.61 L641.29 625.12 L640.75 623.62 L640.27 622.1 L639.83 620.56 L639.45 619.01 L639.12 617.44 L638.85 615.87 L638.63 614.28 L638.47 612.69 L638.36 611.1 L638.31 609.5 L638.31 607.9 L638.36 606.31 L638.48 604.71 L638.64 603.12 L638.86 601.54 L639.14 599.97 L639.47 598.4 L639.86 596.85 L640.29 595.31 L640.78 593.79 L641.33 592.29 L641.92 590.8 L642.56 589.34 L643.26 587.9 L644 586.49 L644.8 585.1 L645.64 583.74 L646.52 582.41 L647.45 581.11 L648.43 579.85 L649.45 578.61 L650.51 577.42 L651.61 576.26 L652.75 575.14 L653.93 574.06 L655.15 573.03 L656.4 572.03 L657.68 571.08 L659 570.17" fill="none" stroke="#000" stroke-width="1.6"/>
<text x="670.6" y="562.1" font-size="8.6" fill="#111" font-weight="bold" text-anchor="middle" stroke="#111" stroke-width="0.3">URR</text>
<text x="698.5" y="562.1" font-size="8.6" fill="#f01010" font-weight="bold" text-anchor="middle" stroke="#f01010" stroke-width="0.3">E6</text>
<text x="712.8" y="568.2" font-size="8.6" fill="#f01010" font-weight="bold" text-anchor="middle" stroke="#f01010" stroke-width="0.3">E7</text>
<text x="633" y="595.1" font-size="8.6" fill="#111" font-weight="bold" text-anchor="middle" stroke="#111" stroke-width="0.3">L1</text>
<text x="736.2" y="603.5" font-size="8.6" fill="#111" font-weight="bold" text-anchor="middle" stroke="#111" stroke-width="0.3">E1</text>
<text x="646.8" y="651.3" font-size="8.6" fill="#111" font-weight="bold" text-anchor="middle" stroke="#111" stroke-width="0.3">L2</text>
<text x="684.3" y="664.2" font-size="8.6" fill="#111" font-weight="bold" text-anchor="middle" stroke="#111" stroke-width="0.3">E5</text>
<text x="704.8" y="660.9" font-size="8.6" fill="#111" font-weight="bold" text-anchor="middle" stroke="#111" stroke-width="0.3">E4</text>
<text x="717" y="654.1" font-size="8.6" fill="#111" font-weight="bold" text-anchor="middle" stroke="#111" stroke-width="0.3">E2</text>
<path d="M426.7 696.1 L494.2 696.1 L493.9 694.6 Q496.4 697.2 496.8 698.4 Q496.4 699.6 493.9 702.2 L494.2 700.7 L426.7 700.7Z" fill="#00ffff" stroke="#111" stroke-width="1.25" stroke-linejoin="round"/>
<path d="M496.6 696.1 L515.2 696.1 L514.9 694.6 Q517.4 697.2 517.8 698.4 Q517.4 699.6 514.9 702.2 L515.2 700.7 L496.6 700.7 Q497.8 699.9 498 698.4 Q497.8 696.9 496.6 696.1Z" fill="#ffa500" stroke="#111" stroke-width="1.25" stroke-linejoin="round"/>
<path d="M517.6 696.1 L531.8 696.1 L531.5 694.6 Q534 697.2 534.4 698.4 Q534 699.6 531.5 702.2 L531.8 700.7 L517.6 700.7 Q518.8 699.9 519 698.4 Q518.8 696.9 517.6 696.1Z" fill="#00ffff" stroke="#111" stroke-width="1.25" stroke-linejoin="round"/>
<path d="M534.2 696.1 L552 696.1 L551.7 694.6 Q554.2 697.2 554.6 698.4 Q554.2 699.6 551.7 702.2 L552 700.7 L534.2 700.7 Q535.4 699.9 535.6 698.4 Q535.4 696.9 534.2 696.1Z" fill="#ffa500" stroke="#111" stroke-width="1.25" stroke-linejoin="round"/>
<path d="M554.4 696.1 L601.1 696.1 L600.8 694.6 Q603.3 697.2 603.7 698.4 Q603.3 699.6 600.8 702.2 L601.1 700.7 L554.4 700.7 Q555.6 699.9 555.8 698.4 Q555.6 696.9 554.4 696.1Z" fill="#ffa500" stroke="#111" stroke-width="1.25" stroke-linejoin="round"/>
<path d="M603.5 696.1 L617.1 696.1 L616.8 694.6 Q619.3 697.2 619.7 698.4 Q619.3 699.6 616.8 702.2 L617.1 700.7 L603.5 700.7 Q604.7 699.9 604.9 698.4 Q604.7 696.9 603.5 696.1Z" fill="#00ffff" stroke="#111" stroke-width="1.25" stroke-linejoin="round"/>
<path d="M619.5 696.1 L638.2 696.1 L637.9 694.6 Q640.4 697.2 640.8 698.4 Q640.4 699.6 637.9 702.2 L638.2 700.7 L619.5 700.7 Q620.7 699.9 620.9 698.4 Q620.7 696.9 619.5 696.1Z" fill="#ffa500" stroke="#111" stroke-width="1.25" stroke-linejoin="round"/>
<path d="M640.6 696.1 L658.6 696.1 L658.3 694.6 Q660.8 697.2 661.2 698.4 Q660.8 699.6 658.3 702.2 L658.6 700.7 L640.6 700.7 Q641.8 699.9 642 698.4 Q641.8 696.9 640.6 696.1Z" fill="#ffa500" stroke="#111" stroke-width="1.25" stroke-linejoin="round"/>
<line x1="662" y1="698.4" x2="691" y2="698.4" stroke="#000" stroke-width="1" stroke-dasharray="5 3.5"/>
<line x1="491.1" y1="639" x2="495.68" y2="687.62" stroke="#544d4b" stroke-width="1.05" stroke-dasharray="4 3"/>
<path d="M496.2 693.1 L491.77 685.48 L495.64 687.13 L499.13 684.79Z" fill="#544d4b"/>
<line x1="455" y1="652.5" x2="510.09" y2="690.86" stroke="#544d4b" stroke-width="1.05" stroke-dasharray="4 3"/>
<path d="M514.6 694 L505.92 692.46 L509.68 690.57 L510.15 686.39Z" fill="#544d4b"/>
<line x1="532" y1="610" x2="534.06" y2="688.5" stroke="#544d4b" stroke-width="1.05" stroke-dasharray="4 3"/>
<path d="M534.2 694 L530.29 686.1 L534.04 688 L537.69 685.91Z" fill="#544d4b"/>
<line x1="565" y1="655.5" x2="596.34" y2="688.98" stroke="#544d4b" stroke-width="1.05" stroke-dasharray="4 3"/>
<path d="M600.1 693 L591.93 689.69 L596 688.62 L597.33 684.63Z" fill="#544d4b"/>
<line x1="645.3" y1="612.4" x2="622.76" y2="683.76" stroke="#544d4b" stroke-width="1.05" stroke-dasharray="4 3"/>
<path d="M621.1 689 L619.98 680.26 L622.91 683.28 L627.04 682.49Z" fill="#544d4b"/>
<line x1="668.9" y1="647.8" x2="688.07" y2="690.97" stroke="#544d4b" stroke-width="1.05" stroke-dasharray="4 3"/>
<path d="M690.3 696 L683.67 690.19 L687.87 690.52 L690.44 687.19Z" fill="#544d4b"/>
<circle cx="495.7" cy="707.7" r="3.6" fill="none" stroke="#333" stroke-width="0.6"/>
<text x="495.7" y="710.2" font-size="7" fill="#222" font-weight="normal" text-anchor="middle">1</text>
<circle cx="517.2" cy="707.7" r="3.6" fill="none" stroke="#333" stroke-width="0.6"/>
<text x="517.2" y="710.2" font-size="7" fill="#222" font-weight="normal" text-anchor="middle">2</text>
<circle cx="533.8" cy="707.7" r="3.6" fill="none" stroke="#333" stroke-width="0.6"/>
<text x="533.8" y="710.2" font-size="7" fill="#222" font-weight="normal" text-anchor="middle">3</text>
<circle cx="602.5" cy="707.7" r="3.6" fill="none" stroke="#333" stroke-width="0.6"/>
<text x="602.5" y="710.2" font-size="7" fill="#222" font-weight="normal" text-anchor="middle">2</text>
<circle cx="619.1" cy="707.7" r="3.6" fill="none" stroke="#333" stroke-width="0.6"/>
<text x="619.1" y="710.2" font-size="7" fill="#222" font-weight="normal" text-anchor="middle">3</text>
<circle cx="505.8" cy="722" r="4" fill="none" stroke="#333" stroke-width="0.6"/>
<text x="505.8" y="724.5" font-size="7" fill="#222" font-weight="normal" text-anchor="middle">1</text>
<text x="512.4" y="725" font-size="8.3" fill="#111" font-weight="normal" text-anchor="start">:</text>
<text x="519.1" y="725" font-size="8.3" fill="#000" font-weight="normal" text-anchor="start" stroke="#000" stroke-width="0.12">Chr11:100590122_HPV16:2599</text>
<circle cx="505.8" cy="736.1" r="4" fill="none" stroke="#333" stroke-width="0.6"/>
<text x="505.8" y="738.6" font-size="7" fill="#222" font-weight="normal" text-anchor="middle">2</text>
<text x="512.4" y="739.1" font-size="8.3" fill="#111" font-weight="normal" text-anchor="start">:</text>
<text x="519.1" y="739.1" font-size="8.3" fill="#000" font-weight="normal" text-anchor="start" stroke="#000" stroke-width="0.12">HPV16:4572_Chr17:36094082</text>
<circle cx="505.8" cy="748.7" r="4" fill="none" stroke="#333" stroke-width="0.6"/>
<text x="505.8" y="751.2" font-size="7" fill="#222" font-weight="normal" text-anchor="middle">3</text>
<text x="512.4" y="751.7" font-size="8.3" fill="#111" font-weight="normal" text-anchor="start">:</text>
<text x="519.1" y="751.7" font-size="8.3" fill="#000" font-weight="normal" text-anchor="start" stroke="#000" stroke-width="0.12">Chr17:36095602_HPV16:5979</text>
</svg></body></html>
